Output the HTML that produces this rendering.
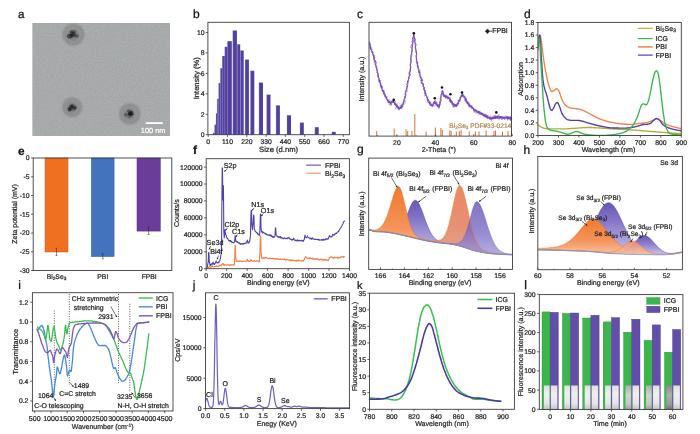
<!DOCTYPE html>
<html lang="en">
<head>
<meta charset="utf-8">
<title>Characterization of FPBI nanoparticles</title>
<style>
html,body{margin:0;padding:0;background:#fff;}
body{width:700px;height:434px;overflow:hidden;}
svg{display:block;font-family:'Liberation Sans', sans-serif;text-rendering:geometricPrecision;}
</style>
</head>
<body>
<svg width="700" height="434" viewBox="0 0 700 434" font-family="Liberation Sans, sans-serif">
<rect x="0" y="0" width="700" height="434" fill="#ffffff"/>
<defs><linearGradient id="gor" x1="0" y1="0" x2="0" y2="1"><stop offset="0" stop-color="#f07a2e"/><stop offset="0.6" stop-color="#f4935a"/><stop offset="1" stop-color="#f9c4a2"/></linearGradient><linearGradient id="gor2" x1="0" y1="0" x2="0" y2="1"><stop offset="0" stop-color="#ea7e54"/><stop offset="0.6" stop-color="#e48868"/><stop offset="1" stop-color="#e09c88"/></linearGradient><linearGradient id="gpu" x1="0" y1="0" x2="0" y2="1"><stop offset="0" stop-color="#6856b6"/><stop offset="0.35" stop-color="#8676c8"/><stop offset="0.7" stop-color="#a99fda"/><stop offset="1" stop-color="#cdc6ec"/></linearGradient><linearGradient id='gpu2' x1='0' y1='0' x2='0' y2='1'><stop offset='0' stop-color='#5e4cb0'/><stop offset='0.6' stop-color='#7a6cc6'/><stop offset='1' stop-color='#a096d8'/></linearGradient><linearGradient id="gor3" x1="0" y1="0" x2="0" y2="1"><stop offset="0" stop-color="#f6935e"/><stop offset="1" stop-color="#f8c0a4"/></linearGradient></defs>
<text x="18" y="18.3" font-size="11.6" text-anchor="start" fill="#111" stroke="#111" stroke-width="0.28">a</text>
<defs><filter id="noise" x="0" y="0" width="100%" height="100%"><feTurbulence type="fractalNoise" baseFrequency="0.9" numOctaves="2" seed="3" result="t"/><feColorMatrix type="matrix" values="0 0 0 0 0.62  0 0 0 0 0.62  0 0 0 0 0.63  0.9 0 0 0 -0.18" /><feComposite operator="in" in2="SourceGraphic"/></filter><radialGradient id="pt"><stop offset="0" stop-color="#505050" stop-opacity="0.7"/><stop offset="0.4" stop-color="#707070" stop-opacity="0.55"/><stop offset="0.75" stop-color="#808080" stop-opacity="0.5"/><stop offset="0.92" stop-color="#888888" stop-opacity="0.4"/><stop offset="1" stop-color="#9a9a9a" stop-opacity="0"/></radialGradient><filter id="blur1" x="-30%" y="-30%" width="160%" height="160%"><feGaussianBlur stdDeviation="0.75"/></filter><filter id="blur2" x="-20%" y="-20%" width="140%" height="140%"><feGaussianBlur stdDeviation="0.9"/></filter></defs>
<rect x="32.4" y="23" width="137.6" height="113" fill="#a1a4a5" stroke="none" stroke-width="0.8"/>
<rect x="32.4" y="23" width="137.6" height="113" fill="#8f8f90" stroke="none" stroke-width="0.8" filter="url(#noise)" opacity="0.55"/>
<g filter="url(#blur2)">
<circle cx="73.4" cy="34.6" r="10.8" fill="#6a6a6a" opacity="0.3"/>
<circle cx="73.4" cy="34.6" r="9.7" fill="none" stroke="#505050" stroke-width="1.3" opacity="0.3"/>
<circle cx="73" cy="34.9" r="5.9" fill="#505050" opacity="0.3"/>
</g>
<g filter="url(#blur1)">
<ellipse cx="74.2" cy="31.8" rx="2.2" ry="1.9" fill="#1a1a1a" opacity="0.36"/>
<ellipse cx="74.5" cy="35.3" rx="2.1" ry="1.7" fill="#1a1a1a" opacity="0.29"/>
<ellipse cx="76.8" cy="36" rx="2.4" ry="2" fill="#1a1a1a" opacity="0.34"/>
<ellipse cx="69.6" cy="36.3" rx="2.8" ry="2.4" fill="#1a1a1a" opacity="0.51"/>
<ellipse cx="71.6" cy="36" rx="2.5" ry="2.1" fill="#1a1a1a" opacity="0.3"/>
<ellipse cx="72.1" cy="34.4" rx="2.8" ry="2.3" fill="#1a1a1a" opacity="0.3"/>
<ellipse cx="71.6" cy="31.7" rx="1.8" ry="1.5" fill="#1a1a1a" opacity="0.52"/>
<ellipse cx="73.2" cy="34.7" rx="2.5" ry="2.1" fill="#1a1a1a" opacity="0.28"/>
<ellipse cx="71.4" cy="34.8" rx="1.7" ry="1.5" fill="#1a1a1a" opacity="0.37"/>
<ellipse cx="73.5" cy="33.6" rx="1.7" ry="1.4" fill="#1a1a1a" opacity="0.47"/>
</g>
<g filter="url(#blur2)">
<circle cx="72.2" cy="107.2" r="9.8" fill="#6a6a6a" opacity="0.3"/>
<circle cx="72.2" cy="107.2" r="8.8" fill="none" stroke="#505050" stroke-width="1.3" opacity="0.3"/>
<circle cx="71.8" cy="107.5" r="5.4" fill="#505050" opacity="0.3"/>
</g>
<g filter="url(#blur1)">
<ellipse cx="69.2" cy="108.3" rx="1.6" ry="1.4" fill="#1a1a1a" opacity="0.37"/>
<ellipse cx="72.5" cy="105.7" rx="2" ry="1.7" fill="#1a1a1a" opacity="0.34"/>
<ellipse cx="75.2" cy="107.7" rx="1.4" ry="1.2" fill="#1a1a1a" opacity="0.51"/>
<ellipse cx="69.6" cy="109.9" rx="1.9" ry="1.5" fill="#1a1a1a" opacity="0.53"/>
<ellipse cx="71.1" cy="107.1" rx="2.3" ry="1.9" fill="#1a1a1a" opacity="0.46"/>
<ellipse cx="71.2" cy="105.9" rx="1.6" ry="1.3" fill="#1a1a1a" opacity="0.45"/>
<ellipse cx="73.8" cy="108.9" rx="2.2" ry="1.8" fill="#1a1a1a" opacity="0.38"/>
<ellipse cx="72.1" cy="106.7" rx="1.8" ry="1.5" fill="#1a1a1a" opacity="0.5"/>
<ellipse cx="70.1" cy="109.1" rx="2.2" ry="1.8" fill="#1a1a1a" opacity="0.53"/>
<ellipse cx="74.4" cy="107.3" rx="2.4" ry="2" fill="#1a1a1a" opacity="0.32"/>
</g>
<g filter="url(#blur2)">
<circle cx="129.8" cy="114.0" r="10.6" fill="#6a6a6a" opacity="0.3"/>
<circle cx="129.8" cy="114.0" r="9.5" fill="none" stroke="#505050" stroke-width="1.3" opacity="0.3"/>
<circle cx="129.4" cy="114.3" r="5.8" fill="#505050" opacity="0.3"/>
</g>
<g filter="url(#blur1)">
<ellipse cx="128.8" cy="111.1" rx="2" ry="1.7" fill="#1a1a1a" opacity="0.43"/>
<ellipse cx="125.9" cy="114.7" rx="1.9" ry="1.6" fill="#1a1a1a" opacity="0.39"/>
<ellipse cx="131.1" cy="114.2" rx="2.4" ry="2" fill="#1a1a1a" opacity="0.53"/>
<ellipse cx="130.6" cy="113.6" rx="2.9" ry="2.4" fill="#1a1a1a" opacity="0.33"/>
<ellipse cx="129.8" cy="113.7" rx="2" ry="1.7" fill="#1a1a1a" opacity="0.3"/>
<ellipse cx="131.5" cy="111.7" rx="1.6" ry="1.3" fill="#1a1a1a" opacity="0.42"/>
<ellipse cx="129.4" cy="116.1" rx="2.2" ry="1.9" fill="#1a1a1a" opacity="0.31"/>
<ellipse cx="130.2" cy="113.4" rx="2.1" ry="1.7" fill="#1a1a1a" opacity="0.3"/>
<ellipse cx="130.2" cy="114.2" rx="1.9" ry="1.6" fill="#1a1a1a" opacity="0.53"/>
<ellipse cx="130.9" cy="113" rx="2.1" ry="1.7" fill="#1a1a1a" opacity="0.46"/>
</g>
<rect x="145.8" y="122.2" width="16.9" height="1.8" fill="#fff" stroke="none" stroke-width="0.8"/>
<text x="153.2" y="132.8" font-size="7.4" text-anchor="middle" fill="#fff" stroke="#fff" stroke-width="0.22">100 nm</text>
<text x="193" y="18.3" font-size="12" text-anchor="start" fill="#111" stroke="#111" stroke-width="0.22">b</text>
<rect x="213.1" y="132.8" width="1.5" height="1.9" fill="#5140a0" stroke="none" stroke-width="0.8"/>
<line x1="213.2" y1="132.8" x2="213.2" y2="134.7" stroke="#8377bd" stroke-width="0.3"/>
<rect x="214.6" y="124.7" width="1.4" height="10" fill="#5140a0" stroke="none" stroke-width="0.8"/>
<line x1="214.8" y1="124.7" x2="214.8" y2="134.7" stroke="#8377bd" stroke-width="0.3"/>
<rect x="216" y="113.4" width="1.2" height="21.3" fill="#5140a0" stroke="none" stroke-width="0.8"/>
<line x1="216.2" y1="113.4" x2="216.2" y2="134.7" stroke="#8377bd" stroke-width="0.3"/>
<rect x="217.2" y="98.9" width="1.5" height="35.8" fill="#5140a0" stroke="none" stroke-width="0.8"/>
<line x1="217.3" y1="98.9" x2="217.3" y2="134.7" stroke="#8377bd" stroke-width="0.3"/>
<rect x="218.7" y="83.1" width="1.7" height="51.6" fill="#5140a0" stroke="none" stroke-width="0.8"/>
<line x1="218.8" y1="83.1" x2="218.8" y2="134.7" stroke="#8377bd" stroke-width="0.3"/>
<rect x="220.4" y="68.3" width="1.9" height="66.4" fill="#5140a0" stroke="none" stroke-width="0.8"/>
<line x1="220.6" y1="68.3" x2="220.6" y2="134.7" stroke="#8377bd" stroke-width="0.3"/>
<rect x="222.3" y="56" width="2.5" height="78.7" fill="#5140a0" stroke="none" stroke-width="0.8"/>
<line x1="222.5" y1="56" x2="222.5" y2="134.7" stroke="#8377bd" stroke-width="0.3"/>
<rect x="224.8" y="46.8" width="2.6" height="87.9" fill="#5140a0" stroke="none" stroke-width="0.8"/>
<line x1="225" y1="46.8" x2="225" y2="134.7" stroke="#8377bd" stroke-width="0.3"/>
<rect x="227.4" y="41.2" width="4.4" height="93.5" fill="#5140a0" stroke="none" stroke-width="0.8"/>
<line x1="227.6" y1="41.2" x2="227.6" y2="134.7" stroke="#8377bd" stroke-width="0.3"/>
<rect x="232.8" y="30.5" width="4.1" height="104.2" fill="#5140a0" stroke="none" stroke-width="0.8"/>
<line x1="233" y1="30.5" x2="233" y2="134.7" stroke="#8377bd" stroke-width="0.3"/>
<rect x="237.2" y="44.3" width="3" height="90.4" fill="#5140a0" stroke="none" stroke-width="0.8"/>
<line x1="237.3" y1="44.3" x2="237.3" y2="134.7" stroke="#8377bd" stroke-width="0.3"/>
<rect x="240.4" y="50.5" width="3.3" height="84.2" fill="#5140a0" stroke="none" stroke-width="0.8"/>
<line x1="240.6" y1="50.5" x2="240.6" y2="134.7" stroke="#8377bd" stroke-width="0.3"/>
<rect x="245.1" y="59.6" width="3.8" height="75.1" fill="#5140a0" stroke="none" stroke-width="0.8"/>
<line x1="245.2" y1="59.6" x2="245.2" y2="134.7" stroke="#8377bd" stroke-width="0.3"/>
<rect x="250.5" y="70.8" width="3.8" height="63.9" fill="#5140a0" stroke="none" stroke-width="0.8"/>
<line x1="250.7" y1="70.8" x2="250.7" y2="134.7" stroke="#8377bd" stroke-width="0.3"/>
<rect x="259" y="82.6" width="4" height="52.1" fill="#5140a0" stroke="none" stroke-width="0.8"/>
<line x1="259.1" y1="82.6" x2="259.1" y2="134.7" stroke="#8377bd" stroke-width="0.3"/>
<rect x="266.7" y="94.6" width="3.8" height="40.1" fill="#5140a0" stroke="none" stroke-width="0.8"/>
<line x1="266.8" y1="94.6" x2="266.8" y2="134.7" stroke="#8377bd" stroke-width="0.3"/>
<rect x="276.1" y="105.4" width="3.8" height="29.3" fill="#5140a0" stroke="none" stroke-width="0.8"/>
<line x1="276.2" y1="105.4" x2="276.2" y2="134.7" stroke="#8377bd" stroke-width="0.3"/>
<rect x="287" y="115.3" width="4" height="19.4" fill="#5140a0" stroke="none" stroke-width="0.8"/>
<line x1="287.1" y1="115.3" x2="287.1" y2="134.7" stroke="#8377bd" stroke-width="0.3"/>
<rect x="300" y="122.6" width="3.8" height="12.1" fill="#5140a0" stroke="none" stroke-width="0.8"/>
<line x1="300.1" y1="122.6" x2="300.1" y2="134.7" stroke="#8377bd" stroke-width="0.3"/>
<rect x="314.9" y="127.2" width="3.8" height="7.5" fill="#5140a0" stroke="none" stroke-width="0.8"/>
<line x1="315" y1="127.2" x2="315" y2="134.7" stroke="#8377bd" stroke-width="0.3"/>
<rect x="331.9" y="131.9" width="3.8" height="2.8" fill="#5140a0" stroke="none" stroke-width="0.8"/>
<line x1="332" y1="131.9" x2="332" y2="134.7" stroke="#8377bd" stroke-width="0.3"/>
<rect x="207.9" y="22.3" width="141.5" height="112.4" fill="none" stroke="#3c3c3c" stroke-width="0.9"/>
<line x1="208.2" y1="134.7" x2="208.2" y2="136.9" stroke="#3c3c3c" stroke-width="0.8"/>
<text x="208.2" y="144.2" font-size="6.8" text-anchor="middle" fill="#1e1e1e" stroke="#1e1e1e" stroke-width="0.22">0</text>
<line x1="227.5" y1="134.7" x2="227.5" y2="136.9" stroke="#3c3c3c" stroke-width="0.8"/>
<text x="227.5" y="144.2" font-size="6.8" text-anchor="middle" fill="#1e1e1e" stroke="#1e1e1e" stroke-width="0.22">110</text>
<line x1="246.8" y1="134.7" x2="246.8" y2="136.9" stroke="#3c3c3c" stroke-width="0.8"/>
<text x="246.8" y="144.2" font-size="6.8" text-anchor="middle" fill="#1e1e1e" stroke="#1e1e1e" stroke-width="0.22">220</text>
<line x1="266.1" y1="134.7" x2="266.1" y2="136.9" stroke="#3c3c3c" stroke-width="0.8"/>
<text x="266.1" y="144.2" font-size="6.8" text-anchor="middle" fill="#1e1e1e" stroke="#1e1e1e" stroke-width="0.22">330</text>
<line x1="285.4" y1="134.7" x2="285.4" y2="136.9" stroke="#3c3c3c" stroke-width="0.8"/>
<text x="285.4" y="144.2" font-size="6.8" text-anchor="middle" fill="#1e1e1e" stroke="#1e1e1e" stroke-width="0.22">440</text>
<line x1="304.7" y1="134.7" x2="304.7" y2="136.9" stroke="#3c3c3c" stroke-width="0.8"/>
<text x="304.7" y="144.2" font-size="6.8" text-anchor="middle" fill="#1e1e1e" stroke="#1e1e1e" stroke-width="0.22">550</text>
<line x1="324" y1="134.7" x2="324" y2="136.9" stroke="#3c3c3c" stroke-width="0.8"/>
<text x="324" y="144.2" font-size="6.8" text-anchor="middle" fill="#1e1e1e" stroke="#1e1e1e" stroke-width="0.22">660</text>
<line x1="343.3" y1="134.7" x2="343.3" y2="136.9" stroke="#3c3c3c" stroke-width="0.8"/>
<text x="343.3" y="144.2" font-size="6.8" text-anchor="middle" fill="#1e1e1e" stroke="#1e1e1e" stroke-width="0.22">770</text>
<line x1="205.7" y1="134.7" x2="207.9" y2="134.7" stroke="#3c3c3c" stroke-width="0.8"/>
<text x="204.6" y="137.1" font-size="6.8" text-anchor="end" fill="#1e1e1e" stroke="#1e1e1e" stroke-width="0.22">0</text>
<line x1="205.7" y1="114.3" x2="207.9" y2="114.3" stroke="#3c3c3c" stroke-width="0.8"/>
<text x="204.6" y="116.7" font-size="6.8" text-anchor="end" fill="#1e1e1e" stroke="#1e1e1e" stroke-width="0.22">2</text>
<line x1="205.7" y1="93.8" x2="207.9" y2="93.8" stroke="#3c3c3c" stroke-width="0.8"/>
<text x="204.6" y="96.2" font-size="6.8" text-anchor="end" fill="#1e1e1e" stroke="#1e1e1e" stroke-width="0.22">4</text>
<line x1="205.7" y1="73.4" x2="207.9" y2="73.4" stroke="#3c3c3c" stroke-width="0.8"/>
<text x="204.6" y="75.8" font-size="6.8" text-anchor="end" fill="#1e1e1e" stroke="#1e1e1e" stroke-width="0.22">6</text>
<line x1="205.7" y1="52.9" x2="207.9" y2="52.9" stroke="#3c3c3c" stroke-width="0.8"/>
<text x="204.6" y="55.3" font-size="6.8" text-anchor="end" fill="#1e1e1e" stroke="#1e1e1e" stroke-width="0.22">8</text>
<line x1="205.7" y1="32.5" x2="207.9" y2="32.5" stroke="#3c3c3c" stroke-width="0.8"/>
<text x="204.6" y="34.9" font-size="6.8" text-anchor="end" fill="#1e1e1e" stroke="#1e1e1e" stroke-width="0.22">10</text>
<text x="199.3" y="78.2" font-size="7.6" text-anchor="middle" fill="#1e1e1e" stroke="#1e1e1e" stroke-width="0.22" transform="rotate(-90 199.3 78.2)">Intensity (%)</text>
<text x="278.6" y="152.3" font-size="7.65" text-anchor="middle" fill="#1e1e1e" stroke="#1e1e1e" stroke-width="0.22">Size (d.nm)</text>
<text x="357" y="18.3" font-size="12" text-anchor="start" fill="#111" stroke="#111" stroke-width="0.22">c</text>
<line x1="376.7" y1="136.1" x2="376.7" y2="131.1" stroke="#dd7840" stroke-width="1.05"/>
<line x1="394.2" y1="136.1" x2="394.2" y2="128.6" stroke="#dd7840" stroke-width="1.05"/>
<line x1="406.1" y1="136.1" x2="406.1" y2="129.3" stroke="#dd7840" stroke-width="1.05"/>
<line x1="407.7" y1="136.1" x2="407.7" y2="131.1" stroke="#dd7840" stroke-width="1.05"/>
<line x1="411.9" y1="136.1" x2="411.9" y2="131.1" stroke="#dd7840" stroke-width="1.05"/>
<line x1="414.8" y1="136.1" x2="414.8" y2="114.1" stroke="#dd7840" stroke-width="1.05"/>
<line x1="426.1" y1="136.1" x2="426.1" y2="131.6" stroke="#dd7840" stroke-width="1.05"/>
<line x1="435.4" y1="136.1" x2="435.4" y2="127.6" stroke="#dd7840" stroke-width="1.05"/>
<line x1="440.9" y1="136.1" x2="440.9" y2="128.1" stroke="#dd7840" stroke-width="1.05"/>
<line x1="442.3" y1="136.1" x2="442.3" y2="130.1" stroke="#dd7840" stroke-width="1.05"/>
<line x1="449.8" y1="136.1" x2="449.8" y2="130.6" stroke="#dd7840" stroke-width="1.05"/>
<line x1="451.1" y1="136.1" x2="451.1" y2="131.1" stroke="#dd7840" stroke-width="1.05"/>
<line x1="456.3" y1="136.1" x2="456.3" y2="131.6" stroke="#dd7840" stroke-width="1.05"/>
<line x1="459.4" y1="136.1" x2="459.4" y2="131.1" stroke="#dd7840" stroke-width="1.05"/>
<line x1="461.1" y1="136.1" x2="461.1" y2="130.1" stroke="#dd7840" stroke-width="1.05"/>
<line x1="469.2" y1="136.1" x2="469.2" y2="131.6" stroke="#dd7840" stroke-width="1.05"/>
<line x1="475.4" y1="136.1" x2="475.4" y2="131.6" stroke="#dd7840" stroke-width="1.05"/>
<line x1="479" y1="136.1" x2="479" y2="131.6" stroke="#dd7840" stroke-width="1.05"/>
<line x1="486.1" y1="136.1" x2="486.1" y2="130.6" stroke="#dd7840" stroke-width="1.05"/>
<line x1="494" y1="136.1" x2="494" y2="131.1" stroke="#dd7840" stroke-width="1.05"/>
<line x1="495.5" y1="136.1" x2="495.5" y2="130.6" stroke="#dd7840" stroke-width="1.05"/>
<line x1="502.5" y1="136.1" x2="502.5" y2="131.6" stroke="#dd7840" stroke-width="1.05"/>
<line x1="508" y1="136.1" x2="508" y2="131.1" stroke="#dd7840" stroke-width="1.05"/>
<line x1="511.5" y1="136.1" x2="511.5" y2="130.6" stroke="#dd7840" stroke-width="1.05"/>
<text x="480.3" y="127.6" font-size="6.6" text-anchor="middle" fill="#b3894e" stroke="#b3894e" stroke-width="0.22">Bi<tspan font-size="70%" dy="1.6">2</tspan><tspan dy="-1.6">&#8203;</tspan>Se<tspan font-size="70%" dy="1.6">3</tspan><tspan dy="-1.6">&#8203;</tspan> PDF#33-0214</text>
<polyline points="369.3,41.7 369.4,43.6 369.4,41.5 370.3,42.6 371,45.5 370,44.6 370.2,46.3 369.3,46.9 370.8,50.2 370.8,50 369.9,48.9 371.6,51.2 372,49.2 371.4,50.5 371.8,52.8 371.7,50.6 372.9,52.5 371.8,51.8 372.7,54.3 374.2,56.9 373.3,54.4 373.8,56.3 373.6,55.4 373.2,55.7 374.1,56.3 374.5,60.5 373.9,62.4 374.9,60.7 375.7,59.9 375.8,62.6 374.4,62.2 374.9,64.6 374.8,64.9 376.6,65.9 376.5,67.4 376.8,66.8 376,68 376,67.3 377,69.9 377.2,69.6 376.8,72.1 377.6,71.9 378.2,74.2 378.1,75.5 377.6,73.9 377.1,75.5 378.4,76.2 378.9,79.2 378.8,81.2 378.9,80.9 379,80.1 380,83.1 379.8,80 380.1,84.5 379.6,82.4 380,80.2 380.7,87.9 380.2,87.1 380.3,84.3 381,86.5 382.2,86.5 381.8,87.5 382.7,86 382,87.5 382.1,89.6 381.6,89.7 382.3,91.5 383.7,90.6 383.3,94 383.7,90.5 383.9,92.2 383.7,89.9 383.8,91.2 384.2,95 384.7,92.5 384.8,94.8 385,94.5 385,93.7 384.7,95 385.2,95.2 385,95.6 386.3,97.6 384.7,97.9 386,96.6 387.8,96.6 386.3,98.5 386.1,98.3 386.9,100.1 387.9,102.6 387.3,100.6 387.9,99.8 387.8,100 387.7,99.5 390.1,99.8 388.4,100 388.3,101.1 388.5,101.4 389.2,103.2 389.4,101.9 389.9,102.4 389.7,101.2 388.9,105.1 390.3,103.7 390,105.3 390.2,104 389.7,104.8 390.5,102.4 390.6,103.6 391.2,106 390.6,100.7 391.7,103.7 391.9,104.2 391.4,102.5 391.9,102.8 391.9,103.4 393.2,100.8 391.3,102.3 392.9,100.6 392.3,101 393.2,101.3 394.2,102.1 393.5,102.7 394.2,103.3 393.8,101 395.7,105.7 395.2,104.9 395.6,104.6 394.3,103.4 394.7,104.1 396.2,105.2 395.6,105.3 395.8,102.8 396.3,106.2 395.6,109.4 397,103.3 396.8,107.3 397.2,106.7 396.7,106.4 397.7,108.6 397.1,105.4 398.3,107.5 398.6,109.4 398.7,107.4 398.7,107.3 399,108.2 397.2,107.6 399.5,110.4 399,107.2 399.4,109.6 399.4,106.8 399,109.4 399.7,108.3 400.6,104.8 401.3,108.1 400.2,106.5 400.3,107.1 401.9,109.4 400.7,105.6 402.7,105.3 401.7,108.3 401.3,106.2 402.6,107.8 403.3,105.8 401.6,103.8 403.6,104.5 402.7,105.8 404,104.9 403,103.2 402.5,102.7 404,101.8 404.4,100.6 405.3,103.3 405.3,100 404.9,97.8 404.6,97.9 404.6,98.7 404.9,97.9 404.8,96 405.3,94.3 404.2,94.3 406,91 406.1,90.4 407.9,92.1 407,89.2 406.4,89.2 407.3,89.2 406.4,87.3 407,85.3 406.4,87.1 408.6,84.1 408.3,81.7 407.5,82.2 408.3,80.8 409.1,78.2 409.1,78.4 409.2,77.1 408.7,73.6 409,74.9 409.7,73.5 410.3,71.9 409.5,68.9 409.5,68.9 411.1,67.2 410.1,64.9 411.5,60.7 411.2,60.4 411.8,55.6 412.5,54.7 412,54.4 412.3,49.6 411.5,47.7 411.8,47.8 412.8,44.1 413.6,42.3 413.7,41 414.5,40.2 413.5,34.2 413.6,34.8 414.3,33.8 413.9,33.6 414,34.4 413.7,35.5 415.1,38.4 414.1,38.5 415.2,41.6 414.2,43.8 416,44.1 414.9,47.1 416.2,51.2 415,51.8 415.9,52.8 417,55.8 416,56.7 416.8,60.3 416.7,63 415.8,62.2 417.5,64.1 417.8,66.9 417.1,65.7 418.3,67.4 417.7,66.6 417.8,67.6 418.6,68.7 418.4,72.9 420.4,70.2 418.2,70.8 419.8,71.6 420.2,72.9 418.6,74.7 419,74.8 420.5,78 420.1,76.3 420.8,78.6 421.5,77.8 420.8,79 420.6,77 419.8,79.5 421.8,80.3 421.3,80.8 422.2,79 422.4,83.7 421.6,82.8 423.7,83.4 423.5,84.4 423.6,85.1 422.6,86.7 423.2,85.2 423.3,86.4 423.6,88.7 423.4,89.3 424.5,89.4 424.6,89.9 424.9,90.3 424.6,92 425.9,94.4 425.4,92.1 423.9,96.1 425.3,95.8 425.9,94.7 426.7,96.8 426.1,94.4 426.4,94.6 426.3,95.7 427.3,97.3 426.9,97.8 427,98 427.1,99.3 428.1,96.8 427.6,100.6 427.2,98.5 428.7,99.8 428.1,100.5 429,99.9 429.2,100 429.9,100.8 430,102.5 429.2,103.6 429.7,103.8 429.2,102.1 431.2,102.6 430.7,102.7 431.4,104.7 430.6,101.7 429.8,106.1 432.1,104 431.5,103.8 431.7,105.5 431.9,106.5 432.4,105.7 432.6,106.8 431.5,105.6 433.3,107.1 432.5,107.1 432.8,105.1 434.3,106.7 434,104.5 433.5,103.9 432.8,102.1 434.2,102.4 434.6,103.5 434.4,100.5 433.9,103.1 434.4,102.7 434.3,102.8 435.4,99.8 436,102.8 436.3,104.1 435.5,102.6 436.3,104 436.7,101.1 436.2,105.3 436.6,103.8 438.2,106 437.3,102.7 437.9,106.3 437.3,105.3 437.8,106.9 436.9,104.8 438.1,105.4 439.1,109.2 439.8,105.2 439.5,105.3 439.4,105.7 439.2,104.4 439,106.9 439.5,107.1 440.2,103.5 439.5,101.6 440.8,104.7 439.8,103.9 439.5,102.6 440.2,101.5 440,97.1 440.4,96.4 442.1,93.3 441.5,91.6 442,93.2 442.7,90.2 443,94 442.1,91.5 443.4,91.2 443.1,93.8 443.1,95.9 443.5,94.9 442.6,93.3 443.2,95.7 443.8,97.2 444.4,95 444.1,94.8 444.4,97.2 445.3,96.2 445.7,94.7 445.6,95.7 446.1,95.3 445.3,96.8 445.5,96.7 446.1,98.1 445.9,97.7 446,94.8 447.5,97.5 446.6,98.3 446.3,97.8 447.4,98.7 448.4,96.8 447.6,96.4 448.5,99 447.7,96.5 447.9,95.2 447.9,99.5 448.5,97.4 449.9,98.2 448.3,97 450.2,97.3 448.8,97.8 449.4,99.1 450.3,100.3 450.4,97.2 450.4,101.5 449.4,99.2 450.8,99.7 450.2,102.2 452.5,101.5 451.1,99.9 451.5,104.5 450.9,101.3 451.5,103 451.3,103.1 452.8,104.9 452.3,102.7 453,104.9 452.4,102.8 452.7,105.4 454,103.2 452.9,103.9 452.6,107.1 454.1,105.2 453.4,105.1 454,108 455,105.7 454.2,104.2 455.4,106.3 454.7,103.9 456.2,107 456.3,107.2 455.4,104.9 455.8,104.9 455.6,106 456.4,105.8 457.2,104.5 455.9,106.5 457.5,102.9 456.3,104.8 456.8,104.5 456.5,104.3 459,104.6 458,102.2 458.3,104.1 457.9,102.7 459.2,101.6 457.5,100.2 459,100 460.5,101.4 459.1,99.1 459.6,99.8 460.2,100.5 459.5,99.9 460.2,100.1 461,97.2 460.7,95.8 461,98.2 460.8,96.8 461.4,97.5 461.4,95.7 462.5,97 462.3,96.3 461.9,96 460.8,95.7 462.9,95.6 463.1,95.5 462.3,95.6 461.8,96.9 462.6,95.2 464,98.4 463,96.3 463.6,98.1 464.2,97 465,97.1 464.5,100.4 464.6,97.6 464.5,96.7 466.1,97.8 465.9,98.6 465.4,102.2 464.9,100 465.4,101.3 466.5,99.2 465.9,101.3 467,102.1 466.9,103.9 467.1,101 467.5,103.1 467.6,103 467,101.6 467.5,103.2 469.3,103.2 467.4,100.8 468.1,104.8 469.2,105 468.7,103.9 468.5,103 468.4,106.9 469.7,105.5 470.2,106.7 470.6,107.4 470,105.1 470.8,107 469.8,105.8 470.7,106.3 470.4,106.4 471.1,106.7 471.7,108.3 472,107.2 471,107.1 472.6,107.1 471.7,108.1 471.6,106.6 472.3,107.3 471.8,108.1 472.8,107.6 473.2,108.4 473.1,107.9 473.8,111.5 473.5,110.8 473.9,109.8 473.2,109.3 474.3,112.4 474,110.1 474.4,109.8 474.8,110.5 475.2,110.6 474.3,112.2 474.5,110.5 475.5,113.4 476.2,109.7 476.3,111.9 476.8,109.8 477.3,113.6 477,111 476.9,111.5 476.5,112.9 476.8,113.4 477.2,110.5 477.9,111.6 478.1,110.4 478.1,112.5 478.3,112.3 478.9,112.1 478.9,111.8 479.1,112.3 479.3,111.9 479,113.7 478.9,115.1 480.1,110.7 480.2,113.1 480,112.9 480.1,114.1 482,112.4 480.3,113.5 480.9,112.5 481.4,114.8 480.7,114.1 481.7,113.9 482.9,114.7 482.6,114 482.6,112.4 482.8,115.3 482.7,115 483.4,114.5 482.9,116.1 483,116.5 483.5,113.6 484.2,114.1 484,117.2 484.5,117.2 483,114.5 485.2,114 486.1,114.8 485.7,115.1 484.9,113.8 484.8,116 485.6,114.4 485.1,114.6 486.3,117.5 485.8,115.5 486.9,116.4 487.3,117.4 485.5,117.7 487.1,116.3 486.7,116.9 486.5,115.9 487.2,119.3 487.6,117.9 488.6,115.7 487.2,117.3 489,118.3 489.8,118 489.1,119.9 489.3,119.4 489.1,117 488.7,117.7 489.9,116.2 490,118.3 490.4,118.2 491.7,121.6 490.8,118.3 490.8,115.5 491.7,117.4 490.2,118.5 490.5,116.8 491.2,117.3 491.2,118 492.2,118.9 491.8,118.3 493.3,117.3 493.3,119.5 493.1,117.7 492.6,117.7 493.4,116.5 493.7,117.2 492.8,119 493.9,116 494.3,117.9 494.2,118.9 495.2,117.4 495.2,118.1 494.2,116.2 494.9,119.3 494.6,118.9 495.6,117.6 495,114.9 496.2,115.6 496.1,118.1 496.7,118.9 496.2,117 495.6,118.1 497.8,115.7 496.8,116.3 497.9,116.7 497.6,117.3 497.9,114.9 498.8,118.3 498.1,118.9 499,115.8 497.4,115.6 499.1,117.9 498.6,116.6 498.9,114.4 499.2,118.5 499.6,117.7 500.6,116.9 498.7,120.2 500,117.7 499.7,116.5 501.1,117.7 500.3,116.2 501.1,116.6 500.7,118.1 501.6,116.8 502,117 501.4,119.7 501.8,118.7 501.2,118.6 502.4,118.3 502.9,118.2 502.3,119.5 503.5,117.6 501.8,120 502.1,116.4 502.6,117.3 503.3,115.8 503.9,117.2 504,118.3 504.2,119.5 504.9,116.8 504.4,117.7 504.1,117.2 504.3,116.7 506.5,116.2 504.1,117.8 505.6,115.5 506.8,117.9 506.4,117.8 505.8,116.9 506.5,116.5 507.2,116 507.6,120.3 506.6,116.1 507.8,119.9 507.7,118.6 508.4,117.4 508.8,116.4 507.9,119.3 507.5,120.2 508.8,116.7 509.8,117.6 509.4,119.3 509.3,118.4 510.8,120.6 508.9,117.3 510.3,118.7 509.6,116.4 510.2,120.8 510.4,117.1 511.5,115.2 510.2,117.9 510.7,117.9 510.2,120.6 511.7,117.7 511.3,118.2 511.7,119" fill="none" stroke="#a88ad4" stroke-width="0.6" stroke-linejoin="round" stroke-linecap="round" opacity="0.75"/>
<polyline points="369.9,43.3 369.4,44 370.1,44.1 370,44.1 369.9,45 370.3,45.1 370.4,46.5 370.2,48.2 371.4,47.3 370.4,47.8 371.8,49.3 371.9,49.9 371.6,50.3 371.5,50.2 372,51.5 372.5,52.8 372.8,51.8 372.8,53.2 373.3,52.6 372.8,53.7 373.4,53.9 372.8,55.8 374,55.6 374,57.5 373.9,58 374.8,58.4 374.8,57.3 373.4,59.6 374.9,60.8 374.5,61.8 375.8,61.4 376.6,63.2 375.5,63.8 376,64.9 376,67.4 376.5,66.9 376.8,68.5 377.3,70.3 376.5,70 377.9,71.3 376.9,72.4 377.7,73.2 378.3,73 378.3,75 377.8,76.8 378.1,75.3 378.4,78.1 378.8,78.3 379.5,78.5 378.6,81.4 379.6,81.1 379.9,80.3 380.1,82 380.2,83 380.9,83.1 380.6,84.4 381,84.4 381.1,85.6 381.8,86.8 380.4,85.7 382,87 381.5,87 381.7,88 381.6,87.5 381.4,88.5 382.3,89.3 382.4,90.7 383.1,91.4 382.4,89.9 383.9,90.8 383.6,92.4 383.6,90.8 383.6,92.4 383.7,93.2 383.8,94.7 384.3,94.7 384.7,94.3 384.8,94.7 384.5,95.2 385.2,97.1 385.1,95.9 385.8,96.4 386.8,97.3 386.4,97.3 386.2,97.6 385.8,97.2 386.1,98.4 386.2,98.4 387.5,100.1 387,100 387.6,99.8 387.5,100.7 388,100.3 388.8,101.8 388.1,101.3 388.4,102.1 388.4,100.9 389.4,102.5 388.7,101.1 388.9,101 389,102.6 389.2,102.2 390.2,103.1 391.4,104.8 390,102.3 391,102.4 390.9,102.9 390.5,103 391.1,102.3 391.3,102.2 391.3,102.7 392.7,102.4 391.2,101.1 392.4,101.7 392.6,101.8 392.4,100.9 392.9,101.9 393.5,101.1 393.3,102.7 393.7,102.3 394,102.4 393,102 394.8,102.6 395.3,101.3 394.9,102.2 395.2,103.7 394.3,101.9 395.1,104.6 394.9,102.8 395.3,105.1 396.2,104.1 395.6,105.6 396.1,105.3 395.5,104.3 396.5,106.7 396.8,107.1 396.6,106.2 396.8,106.3 398.2,106.6 397,106.2 397.3,108.1 397.6,107 398.7,107.7 399.3,107.3 398.7,107.6 398.5,107.2 398.8,109.3 399.7,108.3 399,109.3 400.3,108.5 400.4,107.9 400,108.1 400.5,107.8 400.8,108.1 401.3,107.6 400.3,107.4 401.6,106.3 401.1,106.4 401.1,108.1 401.7,105.9 401.7,105.2 401.6,106 401.5,106.5 402,103.8 403.3,104.4 403.7,103.7 403.4,102.3 403.8,103.7 403.2,102.6 403.6,102 404,100.7 403.6,101 403.8,99.6 404.5,99.2 404.6,97.6 404.4,96.8 405.3,98.1 405.2,95.7 406,95.4 405.7,94.2 405.8,92.8 406.2,91.7 406.3,91.5 406.2,89.6 406.6,88.6 407.3,87.6 407.4,87.4 407.9,85.9 406.8,84.5 407.6,82.7 407.8,81.1 408.2,82 408.2,81 408.3,79.2 409.1,78.8 409.1,77.9 408.7,76.9 410,75.8 410,73.5 409.5,73.7 410.4,70.1 409.9,70.1 410.9,67.7 410.5,65.5 410.5,63.7 410.9,60.8 410.9,56.3 411.5,53.6 411.7,53.3 411.9,49.7 411.8,48.3 410.6,47.1 412.5,43.3 411.8,41 413,40.9 413.6,38.9 413.4,37 413.3,35.9 413.6,34.5 413.8,33.8 413.8,35.4 414,35.8 414.1,36.7 415.2,40 414.9,41.4 415.5,43.6 415.2,44.3 415.5,46.4 415.6,48.3 416.1,50.7 416.5,53.8 416.4,55.2 416.2,58.2 416.4,60.2 417.7,63.4 417,62.1 417.2,65.1 418.2,65.3 418.2,66.3 418.2,66 418,67.6 419.4,69.2 418.7,69.3 419,70.1 418.9,70.5 418.5,72.5 418.8,72.3 419.8,71.3 420,73.3 419.9,73 419.7,72.7 419.8,75.6 420.5,77.8 420.2,77.5 421.4,77.2 421.7,78.2 422.7,80.5 422,80.5 421.6,81.1 421.6,81.8 420.7,82.6 422.2,83.9 422.6,84.4 423.3,84.9 423.3,84.6 423.5,86.6 423.6,86.3 424,88.5 424.5,87.3 423.6,89 424.1,89.8 423.9,89.5 425.4,92.7 425.5,93.3 425.4,92.5 424.8,94.1 425.6,94.4 425.6,92.6 425.9,95.5 426,95.8 426.6,96.4 426.3,96 427.1,97.1 427,97.7 427,99.2 427.3,99 427.3,99.1 428.1,100.8 427.8,99.5 428.3,100 428.2,99.2 427.9,102.3 429.2,102.2 428.5,102.5 429.5,102.7 429.6,102.6 428.8,103 429.4,102.9 429.8,103.2 429.8,103.7 429.9,105.1 430.9,104.6 430.7,104.3 431.2,104 431,104.2 431.6,106.1 431.3,105.4 431.8,105.2 432.3,105 432.3,104.5 432.2,105.4 432.2,106.2 432.9,105.1 433.2,105 433.1,104.6 433.1,104.4 433.9,102.5 435,103.1 433.9,102.1 434.4,103.2 434.7,101.6 433.5,102.7 434.9,103.5 434.8,102.2 435.9,102.2 435.4,103.1 435.4,103.2 435.8,102.8 436.2,104.2 436.1,105.8 436.5,104.2 436.1,104.5 436.8,104 437.5,105.4 438.2,104.4 437.9,104.8 437.9,106.9 438.5,105.3 438.6,107.1 439.1,107.5 439,106.5 438.7,106.6 439.1,107.6 439.3,105.6 439.5,104.9 439.7,103.8 439.4,104.4 439,105 439.9,103.9 439.5,101.8 440.6,100.8 440.8,99.6 440.3,98.5 441.5,96.4 441.8,95.3 441.7,93.7 442.6,91.7 442.9,91 441.7,91.2 442.9,91.4 442.8,92.4 443,94.2 443.5,94 442.9,94.3 443.2,93.5 443.3,95.6 443.5,93.9 444,94.5 443.6,96.5 444,96.5 444.9,95.9 444.9,94.8 445.3,95.9 444.4,95.8 445.1,96.9 445.5,98.3 445.9,96.8 445.8,96.1 446.7,95.9 446.5,97 446.7,97 446.9,96.3 447.4,97.5 447.1,96.6 448,98.5 447.9,98.6 448,98.8 448.2,97.7 448.6,98.6 449,98.3 449.2,98.3 449.1,98.5 449.6,98 449.4,98.1 450.1,100.2 449.8,99.7 449.1,100.3 450.8,101.3 450.4,99.4 450.1,100.4 450.7,101.5 450.6,101.9 452.2,101.6 451.6,102.9 450.9,102.5 452.1,101.7 451.8,102.1 453.1,103.8 452,103.7 451.6,102 452.9,104.8 452.9,104.5 453.1,105.3 452.5,104.1 453.9,104.4 454.6,103.9 453.2,107 454.8,104.9 454.2,106.5 455.7,104.8 455.1,105.5 455,104.1 455.8,105.2 455.7,106.4 455.4,104.7 456.2,106.6 455.9,106 455.5,105 457.4,105.4 456.6,105.4 456.6,105.5 457.3,104.9 456.6,104.3 456.9,104.4 457.5,103.4 457.7,102.8 458.2,103.3 458.9,103.6 458.3,101.3 459,102 459.2,101 458.7,100.2 459.5,101 459.2,99.3 460.3,100.3 460.2,98 460.2,98.4 459.8,97.4 460.6,96.6 460.5,97.3 461.3,96.3 461.2,96.5 461,95.7 462,94.5 462.1,95.1 461.8,95.1 462.7,95.8 462.3,94.3 462.5,95.1 462.9,94 462.7,96.1 463,95 463.4,94.7 464.3,96.4 464.5,97.7 463.9,95.9 465,96.6 464.5,97.2 464.8,97.1 465.3,98.7 465.2,98 466.4,98.5 465.6,99.9 465.2,99.1 466.5,100.5 465.9,99.7 466.2,99.9 465.2,99.8 467.2,103.1 467.3,101.7 467.5,102.5 467.8,102.6 468.3,103.1 467.7,103.3 468.4,105 467.8,102.9 468.2,102.8 469,103.5 468.9,103.4 468.4,105.3 469.3,105.6 469.3,104.4 469.2,104.2 470,105.3 469.8,106.9 469.5,103.7 469.9,106.6 471.4,105.5 470.1,107.4 471.1,105.8 471.5,106.7 471.7,105.9 471.1,106.5 471.7,108.5 472.1,108.3 472.6,107.5 472.1,107.3 472.1,106.6 473.3,108 473.5,108.5 473.4,108.6 473.2,108.8 473.8,108.1 473.9,109.2 474.4,109.4 473.7,110.6 474.5,111.2 474.6,109.8 474.4,109.4 475.2,110.2 475.3,109.9 475.3,109.9 475.9,110.6 475.3,110 476.1,111.5 476.5,111 476.6,111.5 477.2,111.3 476.4,111 476.4,110.9 477.4,111.6 477.7,111.5 478.7,112.2 478.2,112.2 477.7,111.2 478.7,112.5 478.2,111.5 478.1,112.1 480.1,112.5 479.3,111.2 479.7,113 479.8,113.2 480.6,113.1 480.1,113 480.7,113.1 479.9,112.7 480,113.4 481.4,113.3 481.7,113.9 481.4,112.9 481.5,114.2 481.7,114.2 481.5,114.1 482.7,114 482.5,114.9 482.7,113.2 482.8,115 483.3,114.9 483.3,115 483.6,115.2 482.9,114.5 483.9,114.9 484.8,115.7 483.8,115.7 484.2,115.6 484.9,114.3 485.1,116.1 485.2,116.7 484.3,116.7 485.5,116.2 485,114.8 485.3,116.9 486.1,116.1 486,114.3 486.7,116.8 487.9,115.4 487.1,115.6 487.2,116.2 486.7,117.9 487,116.6 487,117.2 487.5,118.5 487.4,118.4 487.8,117.2 488.2,117.1 488.1,116.4 488.1,117 488.3,117.9 489.4,118 489.4,117.9 490,118.7 490.2,117.3 489.8,118 490.5,118.7 489.7,118.7 491.6,119.1 491.3,118.6 490.9,118.1 490.7,118.7 491.6,117.6 490.8,117.2 491.5,119 492.3,118.5 492.2,118.7 492.2,117.1 493.1,118.1 492.4,117.9 493.2,117.6 493,116.5 493.1,117.9 493.9,118.8 493.4,118.3 494.9,117.5 494,117.8 495.4,118.4 494.2,115.4 495.1,117.5 494.5,117.9 494.7,117.9 495.6,118.5 496,117.9 495.3,117.1 496.6,116.9 495.9,117.2 496.6,116.1 496.9,116.5 497.2,117.3 496.3,118.2 498,116.6 497.8,116.9 497.5,117.2 497.5,118.3 497.4,117.3 497.7,118.5 498.8,116.6 498.6,117.3 498.4,117.3 498.9,118.1 500.1,118.3 499.4,116.3 499.5,116.8 500.6,117.8 500.4,117 500.4,116.3 500.3,118.4 500.1,117.9 500.5,118 501,117.2 501.3,118.4 501.8,117.4 502.1,118.5 502.1,116.9 502.3,116.9 502,117.8 501.7,117 502.6,118.2 502.6,117.8 502.9,116.9 503.3,117.7 503.1,117.4 503.3,118.4 504,117.1 504.3,117.3 504.2,118.6 504.9,119.5 504.8,119.3 504.6,117.8 505.3,117.9 506.3,119 505.4,117.6 506.4,117 506.7,117.9 507,118.1 506.1,117.1 507.6,116.5 507,116.7 507,118.4 507.2,117.2 507.8,117.7 507.7,118 507.8,118.4 508.7,117.6 508,118.3 508.1,117.2 509.1,117.7 509.3,117.1 509.6,118.9 508.9,118 510,117.4 510,117.7 510.8,117.9 509.6,118.6 510.5,116.8 510.5,117.3 510.1,117.8 510.7,120.2 511.7,118.9 511.2,118.1 511.3,118.8 511.7,119.8" fill="none" stroke="#7d52b8" stroke-width="0.8" stroke-linejoin="round" stroke-linecap="round" opacity="0.9"/>
<polyline points="369.5,43.2 369.7,43.6 369.4,44.9 369.8,45.1 370.3,45.7 370,45.7 370.2,47.4 370.9,47.8 371.3,47.9 370.7,48.6 370.5,48 371,49.9 371.3,50.2 371.8,51.1 372.2,51.9 372.2,52.1 372.3,52.1 372.7,53.7 372.6,53.8 373.1,54.6 373.1,55.1 374.3,55.8 373.9,55.6 373.6,57.8 373.8,58 374.2,59.1 374,60.2 374.5,60 374.7,60 375.4,61.3 375.2,62.1 375.3,63.3 375.3,64.6 375.6,64.6 376.1,66.7 376.3,66.9 376.9,68.7 376.6,69.5 377.3,70.4 377.2,71.4 377.4,72 377,72.9 377.4,73.3 378.2,74.9 378.6,76.6 378.4,77.5 378.8,78 378.7,78.5 378.9,78.7 379,80.4 379.7,80.5 379.7,81.2 379.7,81.8 379.9,82.6 380.4,83 380.5,83.8 380.4,84 381.3,84.9 381.1,86.7 381.2,86.2 381.9,86.7 382,87.6 381.8,88.2 382.2,87.9 381.9,88.9 382.3,89.9 382,90.1 383.2,90.5 382.5,91.6 383.5,91.1 383.2,91.9 383.4,92.1 383.8,93.5 384.2,92.4 384.5,93.4 385,93.9 384.8,94.9 385.2,95.3 384.9,96.1 385.5,95.1 385.6,96.6 385.6,96.5 385.9,96.7 386.1,97.6 386.4,97.3 386.7,97.2 386.6,98.3 386.7,98.1 387.4,98.8 386.8,99.6 387.4,100 388.2,100.9 387.2,100.5 388,100.3 388.6,100.9 388.1,101.2 389.6,101.4 388.2,102.4 389.6,102.2 389.9,101.8 389.9,103.1 389.7,102.9 390.1,103.2 389.9,103 390.7,103.2 390.3,102.9 390.7,103.3 391.3,102.8 390.9,102.7 391.3,102.5 391.7,101.5 391.4,102 392.4,101.8 392.4,101.9 392,101.1 392.6,102.4 392.6,101.8 392.9,101.3 393.3,101.2 393.3,102 394,102.3 393.7,102.2 394.4,102.7 394.3,102.6 394.8,103.4 394.5,103 394.8,103.6 394.8,104.4 395.5,105.4 395.8,104 396.4,104.6 396.3,104.6 396.2,105.6 396.3,105 396.7,105.5 396.7,106 397.4,105.8 397.4,106.1 397.1,106.5 397.4,106.1 398.2,106.6 398.1,107.3 398.1,107.8 398.7,107.8 398.5,107.3 398.7,108 398.8,108.7 398.6,108.7 399.7,108.4 399.2,108.1 399.6,108.8 399.8,108.1 400.4,107.7 400.4,107.7 400.6,108.5 400.3,107.7 401,107.9 400.8,106.9 401.5,107.2 401.7,106.1 401.8,106 402.7,106.8 402.4,105.7 402.6,104.8 402.7,104.6 402.8,104.3 403.4,104.2 403.6,102.9 403.1,101.8 404,101.9 404,101.4 404.4,100.7 404.4,100.6 404.1,99.4 404.3,98.9 405.4,97.3 405.2,97.4 404.9,97.1 405.6,95.6 405.6,94.3 405.4,93.3 405.4,92.9 405.8,90.6 406.6,89.8 406.7,88.9 406.9,87.9 407.2,86.2 407.5,85.4 406.9,84.1 407.7,83.2 407.7,82.1 407.8,80.7 408.2,80.3 408.5,79.7 408.7,77.9 408.5,77.2 409,76.5 410,74.6 409.3,73.9 409.3,72 410.1,71.6 410.4,70.4 410.5,68.2 410.3,64.7 411.1,62.5 410.8,59.6 410.9,57.3 411.2,55.7 411.6,52.1 412.1,51 412.2,48.3 412.2,47 412.7,44.7 412.7,42.4 413.1,40.9 412.6,39.2 412.8,37.2 413.7,36.1 413.3,34.9 413.8,34.1 414.1,36 414.1,36.9 414.4,38 415.1,39.7 414.1,41.9 415.4,43.1 416,44.7 415.5,46.8 415.7,49.6 416.1,50.7 416.7,54.2 416,55.6 416.6,57.4 416.7,60.5 417.1,61.8 417.2,62.7 417.5,64.2 417.4,65.8 417.8,66.9 417.8,67 418,68.1 418.3,69 418.5,69.1 418.4,70.2 419.4,70.8 419.1,71.3 419,72.1 419.9,73.1 419.6,73.8 420.1,74.3 420.2,75.1 420.5,76.5 420.7,76.8 420.6,77.9 421,78.7 421.8,79.2 420.8,80.6 421.6,80 422,81.4 421.7,81.7 421.8,83.4 423.1,84 422.5,83.1 423.5,84.3 423.2,85.7 423.3,86.5 423.6,87.2 423.9,87.6 424.2,88.5 424.2,89.4 424.3,89.8 424.5,91.1 425.1,90.3 425.1,92.4 424.8,92.4 425.1,93.9 425.6,94 425.5,94.3 425.8,95.4 425.8,95.4 426.2,95.9 426.7,96.1 427,97.3 426.9,98 427.8,98.7 427.3,98.6 428.5,99.6 428.1,99.6 428.1,99.9 428,100.6 427.5,101.2 428.5,100.9 428.8,101.3 429.6,101.7 428.8,102.2 430,102.1 429.5,103.3 430,102.9 429.2,103.6 430.2,103.3 430.3,104.1 430.8,104.3 430.8,104.1 430.7,105.4 431.5,104.8 431.6,105.6 431.8,105.4 432.1,104.9 432.4,105.1 432.2,105.6 432,105.5 432.2,105.5 433.3,105.3 433.3,104.4 433.3,104.7 433.3,103.3 433.7,104 433.9,103 434,102.5 434.1,102.4 435.1,102.4 434.8,101.6 434.7,101.5 434.7,102 435.1,101.8 435.7,102.5 435.9,104 435.8,103.1 436.1,104.2 436.2,103.5 436.2,104.5 437.1,104.5 437,104.9 437.9,105.4 437.1,106.2 437.5,105.7 438,105.9 437.9,105.6 437.7,106.5 438.1,106.2 438.6,106.7 438.9,106.2 438.9,106.8 439.5,104.8 439.7,105.2 439.7,105.3 439.8,104.2 439.9,103.4 440.4,103.1 440.7,101.9 440.6,101.5 440.9,101.1 440.9,98.8 440.8,96.1 441.1,94.7 441.9,93.3 442,92.4 442.5,90.7 442.3,90.8 442.7,91.8 443,92.4 443.1,92.6 442.9,93 443.2,93.5 443.5,94.5 443.4,94.3 444,95.8 444.4,95.4 444.1,96 445.1,96.8 444.6,96.6 444.8,95.6 445,96.6 445.1,96.9 445.6,96.1 445.7,96.1 446.4,96.6 446.3,96 446.5,97.5 446.5,95.9 446.3,96.6 446.9,97.1 446.9,97.3 447.6,97.6 447.5,97.8 448.2,97.7 448.2,98.4 448.4,97.1 448.4,98.2 448.6,98.1 449,98.6 449.2,98.9 449,98.6 449.5,99 450.4,99.9 449.8,100 449.9,99.9 450,101.4 450,101.8 451,100.4 450.8,101.5 451.1,102.7 451.8,102.2 452.2,102.2 451.4,102.3 452.1,102.4 452.2,102.8 452.4,102.9 452.6,103.7 452.6,103.4 453.3,103.6 453.2,103.4 453.4,104.2 453.8,104 453.9,104.5 454,105.2 454.2,105.1 454.8,105.3 454.6,105.3 454.7,105.3 454.6,105.3 455,105.3 455,105.9 455.5,105.1 455.8,106.3 455.3,105.7 456.1,105.4 456.5,105.6 456.6,105.5 456.4,105.8 457.3,105.2 456.9,105.8 457,104.7 457.2,103.6 457.7,103.9 458.2,102.9 458.5,103.3 458.4,103.4 458.2,102.8 458.6,101.4 458.7,101.2 459.1,101.7 458.8,100.5 459.6,99.7 460,99.6 459.9,99.7 460.3,98.6 460.1,97.7 460.2,97.4 460.6,97.1 461.3,96.2 461.5,95.6 461.3,95.7 462,95 461.7,95.2 462.5,95.1 462.4,96.1 462.3,94.7 462.9,95.1 462.6,95.3 462.8,95.8 462.8,96.3 463.5,95.9 463.6,96.1 463.8,96.1 463.9,96.7 464.7,97.7 464.3,97.8 464.5,97.6 465.3,98.2 465.5,98.7 465.4,99.3 465,99.1 465.5,99.6 466.1,99.3 466.1,100 466.8,101.6 466.1,100.2 466.9,101.4 466.7,102.1 467.5,102.1 467.3,102.3 467.8,102.9 467.5,103.2 467.5,103.5 467.8,102.9 468.2,104 468.2,103.9 469.1,104.2 469.4,104.8 469.2,105.2 469.1,105.6 469.5,105.1 469.6,106 470.4,106.3 470.3,106.5 470.5,106.8 470.5,106.3 470.2,106.4 470.8,107.1 470.9,106.3 471.5,107.2 471.6,107 471.6,107.3 471.9,106.8 472.7,107.4 472.1,108 472.4,108.6 472.8,108.8 472.8,108.5 473.1,108.6 473.6,108.5 474.2,109.2 473.3,109.1 474.1,109.7 474.3,110.3 474.4,109.7 474.6,109.2 474.8,109.7 475.4,109.6 475.1,109.8 475.4,111.1 475.7,110.8 475.9,110.2 476,111.3 476.6,111.7 476.5,111.1 476.8,111.1 476.9,111.4 476.8,111.8 477.1,112.1 477.2,112.5 477.8,112.6 477.7,112.7 477.8,112.9 478.4,112.7 478.7,111.8 478.2,112.6 479.5,112.9 479.2,112.7 479.3,113.4 479.9,112.9 479.8,112.8 479.8,113.9 480.8,113.7 480.1,113.6 480.6,114 481,114.2 480.7,114 481.2,112.8 481.5,113.7 482.3,113.9 481.5,113.8 482,114.4 482.4,114.9 482.4,114.3 482.3,114.1 483,115.6 483.1,114.6 483.4,114.4 483.8,115.1 484,115.3 484,114.9 484.1,115.7 483.9,115.2 484.4,115.1 484.7,115.7 484.8,116.1 485.1,115.6 485,116.1 485.9,116 486.3,117.4 485.8,115.9 486.2,117 486.2,116.4 486.9,116.5 486.8,117 486.9,117.1 487,117.4 487.4,117.1 487.2,116.7 487.9,116.9 487.7,117.4 488.3,117.5 488.4,118 488.9,117.6 488.7,118 489.3,118.3 488.9,117.8 489.5,117.1 489.5,117.3 489.8,117.3 490,118.7 490.5,117.7 489.8,118.7 490.7,118.5 490.3,119.1 491.4,118.8 490.6,118.4 491.1,118.4 491.1,118.5 492.3,118.6 491.6,118.3 492.2,118.5 492.3,119.2 492.1,117.7 492.7,118.5 493.2,117.9 493.2,118.3 493.7,118.6 493.5,118.1 493.8,118.4 493.9,117.2 494.4,118.3 495,117.5 494.8,117.9 494.9,117.6 494.9,116.3 495,117 495.9,117.3 495.3,117.7 495.6,117 496.1,116.8 496.2,115.9 497.1,117.2 496,117.3 497,116.6 497.3,116.6 497,116 497.3,117.3 497.9,118.3 498.4,117.5 497.9,117.9 497.9,117.6 498.8,117 499.2,118 498.8,116.9 498.5,117.4 499.8,117.6 499.5,117.9 500.1,117.7 500,117.7 500.1,117.2 500.2,117 501,117.6 501.2,117.2 500.3,117 500.9,117 501.9,117.4 501.5,116.7 501.4,117 502,116.9 502.2,117.7 502.4,117.8 502.5,118.5 502.7,116.9 502.9,117.3 503.3,118 503.2,117.5 503.6,117.5 503.8,118.4 504.4,117.5 504.4,117.1 504.4,117.1 504.8,117.8 505,117.8 505.4,117.1 505.4,117.3 506,118 506.1,118 505.9,117.5 506,118 506.6,118 506.7,117 506.7,117.7 506.5,118 506.6,117.6 507.4,116.9 507.7,117.7 508,118.2 507.5,118.6 508.4,116.9 508.2,119.1 508.7,117.4 508.9,118.4 508.7,118.5 509,118.4 508.7,118.1 509.3,117.5 509.2,118.3 510.1,117.7 510.2,116.9 510.6,119.4 510.7,118.4 510.6,118.9 511.1,117.7 511.1,118.8 511.6,118.9 511.7,118.9 511.5,118.2" fill="none" stroke="#7849b3" stroke-width="0.95" stroke-linejoin="round" stroke-linecap="round"/>
<circle cx="393.7" cy="99.9" r="1.3" fill="#111"/>
<circle cx="413.8" cy="33.3" r="1.3" fill="#111"/>
<circle cx="434.8" cy="98.3" r="1.3" fill="#111"/>
<circle cx="442" cy="87.5" r="1.3" fill="#111"/>
<circle cx="450.4" cy="94.2" r="1.3" fill="#111"/>
<circle cx="462" cy="92.6" r="1.3" fill="#111"/>
<circle cx="496.3" cy="112.4" r="1.3" fill="#111"/>
<text x="485" y="33.2" font-size="7" text-anchor="start" fill="#1e1e1e" stroke="#1e1e1e" stroke-width="0.22"><tspan font-size="6.4">&#9670;</tspan>-FPBI</text>
<rect x="369" y="22.3" width="142.5" height="113.8" fill="none" stroke="#3c3c3c" stroke-width="0.9"/>
<line x1="396.9" y1="136.1" x2="396.9" y2="134.2" stroke="#3c3c3c" stroke-width="0.8"/>
<text x="396.9" y="144.6" font-size="6.8" text-anchor="middle" fill="#1e1e1e" stroke="#1e1e1e" stroke-width="0.22">20</text>
<line x1="435.4" y1="136.1" x2="435.4" y2="134.2" stroke="#3c3c3c" stroke-width="0.8"/>
<text x="435.4" y="144.6" font-size="6.8" text-anchor="middle" fill="#1e1e1e" stroke="#1e1e1e" stroke-width="0.22">40</text>
<line x1="473.8" y1="136.1" x2="473.8" y2="134.2" stroke="#3c3c3c" stroke-width="0.8"/>
<text x="473.8" y="144.6" font-size="6.8" text-anchor="middle" fill="#1e1e1e" stroke="#1e1e1e" stroke-width="0.22">60</text>
<line x1="512.3" y1="136.1" x2="512.3" y2="134.2" stroke="#3c3c3c" stroke-width="0.8"/>
<text x="512.3" y="144.6" font-size="6.8" text-anchor="middle" fill="#1e1e1e" stroke="#1e1e1e" stroke-width="0.22">80</text>
<line x1="377.7" y1="136.1" x2="377.7" y2="135.1" stroke="#3c3c3c" stroke-width="0.6"/>
<line x1="416.1" y1="136.1" x2="416.1" y2="135.1" stroke="#3c3c3c" stroke-width="0.6"/>
<line x1="454.6" y1="136.1" x2="454.6" y2="135.1" stroke="#3c3c3c" stroke-width="0.6"/>
<line x1="493" y1="136.1" x2="493" y2="135.1" stroke="#3c3c3c" stroke-width="0.6"/>
<text x="364.2" y="79" font-size="7.1" text-anchor="middle" fill="#1e1e1e" stroke="#1e1e1e" stroke-width="0.22" transform="rotate(-90 364.2 79)">Intensity (a.u.)</text>
<text x="438.8" y="152.3" font-size="7.1" text-anchor="middle" fill="#1e1e1e" stroke="#1e1e1e" stroke-width="0.22">2-Theta (&#176;)</text>
<text x="524" y="17.6" font-size="12" text-anchor="start" fill="#111" stroke="#111" stroke-width="0.22">d</text>
<clipPath id="cd"><rect x="537.9" y="22.4" width="143.39999999999998" height="113.1"/></clipPath><g clip-path="url(#cd)">
<polyline points="538,124.8 538.4,125.1 538.7,125.4 539.1,125.7 539.4,126 539.8,126.2 540.2,126.5 540.5,126.7 540.9,126.9 541.2,127.1 541.6,127.3 542,127.5 542.3,127.6 542.7,127.8 543,128 543.4,128.1 543.7,128.2 544.1,128.3 544.5,128.3 544.8,128.4 545.2,128.5 545.5,128.5 545.9,128.6 546.3,128.6 546.6,128.7 547,128.7 547.3,128.7 547.7,128.8 548.1,128.8 548.4,128.8 548.8,128.9 549.1,128.9 549.5,128.9 549.9,128.9 550.2,128.9 550.6,128.9 550.9,128.9 551.3,128.9 551.6,128.9 552,128.9 552.4,128.9 552.7,128.9 553.1,128.9 553.4,128.9 553.8,128.9 554.2,128.9 554.5,128.9 554.9,128.9 555.2,128.9 555.6,128.9 556,128.9 556.3,128.9 556.7,128.9 557,128.9 557.4,128.9 557.8,128.9 558.1,128.9 558.5,128.9 558.8,128.9 559.2,128.9 559.5,128.9 559.9,128.9 560.3,128.9 560.6,128.9 561,128.9 561.3,128.9 561.7,128.9 562.1,128.9 562.4,128.9 562.8,128.9 563.1,128.9 563.5,128.9 563.9,128.9 564.2,128.9 564.6,128.9 564.9,128.9 565.3,128.9 565.7,128.9 566,128.8 566.4,128.8 566.7,128.8 567.1,128.8 567.4,128.8 567.8,128.7 568.2,128.7 568.5,128.7 568.9,128.7 569.2,128.7 569.6,128.6 570,128.6 570.3,128.6 570.7,128.6 571,128.5 571.4,128.5 571.8,128.5 572.1,128.5 572.5,128.4 572.8,128.4 573.2,128.4 573.6,128.4 573.9,128.3 574.3,128.3 574.6,128.3 575,128.3 575.3,128.2 575.7,128.2 576.1,128.2 576.4,128.2 576.8,128.1 577.1,128.1 577.5,128.1 577.9,128.1 578.2,128 578.6,128 578.9,128 579.3,127.9 579.7,127.9 580,127.9 580.4,127.9 580.7,127.8 581.1,127.8 581.5,127.8 581.8,127.7 582.2,127.7 582.5,127.7 582.9,127.7 583.2,127.6 583.6,127.6 584,127.6 584.3,127.6 584.7,127.6 585,127.5 585.4,127.5 585.8,127.5 586.1,127.5 586.5,127.5 586.8,127.5 587.2,127.5 587.6,127.5 587.9,127.5 588.3,127.5 588.6,127.5 589,127.5 589.4,127.5 589.7,127.5 590.1,127.5 590.4,127.5 590.8,127.5 591.2,127.5 591.5,127.5 591.9,127.6 592.2,127.6 592.6,127.6 592.9,127.6 593.3,127.6 593.7,127.6 594,127.7 594.4,127.7 594.7,127.7 595.1,127.7 595.5,127.7 595.8,127.8 596.2,127.8 596.5,127.8 596.9,127.8 597.3,127.8 597.6,127.9 598,127.9 598.3,127.9 598.7,127.9 599.1,127.9 599.4,128 599.8,128 600.1,128 600.5,128 600.8,128 601.2,128.1 601.6,128.1 601.9,128.1 602.3,128.1 602.6,128.2 603,128.2 603.4,128.2 603.7,128.2 604.1,128.3 604.4,128.3 604.8,128.3 605.2,128.3 605.5,128.4 605.9,128.4 606.2,128.4 606.6,128.4 607,128.5 607.3,128.5 607.7,128.5 608,128.6 608.4,128.6 608.7,128.6 609.1,128.6 609.5,128.7 609.8,128.7 610.2,128.7 610.5,128.7 610.9,128.8 611.3,128.8 611.6,128.8 612,128.8 612.3,128.9 612.7,128.9 613.1,128.9 613.4,128.9 613.8,129 614.1,129 614.5,129 614.9,129 615.2,129 615.6,129.1 615.9,129.1 616.3,129.1 616.6,129.1 617,129.2 617.4,129.2 617.7,129.2 618.1,129.2 618.4,129.2 618.8,129.3 619.2,129.3 619.5,129.3 619.9,129.3 620.2,129.3 620.6,129.4 621,129.4 621.3,129.4 621.7,129.4 622,129.4 622.4,129.5 622.8,129.5 623.1,129.5 623.5,129.5 623.8,129.5 624.2,129.6 624.5,129.6 624.9,129.6 625.3,129.6 625.6,129.6 626,129.6 626.3,129.7 626.7,129.7 627.1,129.7 627.4,129.7 627.8,129.7 628.1,129.8 628.5,129.8 628.9,129.8 629.2,129.8 629.6,129.8 629.9,129.9 630.3,129.9 630.7,129.9 631,129.9 631.4,129.9 631.7,130 632.1,130 632.4,130 632.8,130 633.2,130.1 633.5,130.1 633.9,130.1 634.2,130.1 634.6,130.1 635,130.2 635.3,130.2 635.7,130.2 636,130.2 636.4,130.3 636.8,130.3 637.1,130.3 637.5,130.3 637.8,130.3 638.2,130.4 638.6,130.4 638.9,130.4 639.3,130.4 639.6,130.5 640,130.5 640.4,130.5 640.7,130.5 641.1,130.6 641.4,130.6 641.8,130.6 642.1,130.7 642.5,130.7 642.9,130.7 643.2,130.7 643.6,130.8 643.9,130.8 644.3,130.8 644.7,130.9 645,130.9 645.4,130.9 645.7,130.9 646.1,131 646.5,131 646.8,131 647.2,131.1 647.5,131.1 647.9,131.1 648.3,131.2 648.6,131.2 649,131.2 649.3,131.2 649.7,131.3 650,131.3 650.4,131.3 650.8,131.4 651.1,131.4 651.5,131.4 651.8,131.5 652.2,131.5 652.6,131.5 652.9,131.6 653.3,131.6 653.6,131.6 654,131.6 654.4,131.7 654.7,131.7 655.1,131.7 655.4,131.8 655.8,131.8 656.2,131.8 656.5,131.9 656.9,131.9 657.2,131.9 657.6,131.9 657.9,132 658.3,132 658.7,132 659,132.1 659.4,132.1 659.7,132.1 660.1,132.1 660.5,132.2 660.8,132.2 661.2,132.2 661.5,132.3 661.9,132.3 662.3,132.3 662.6,132.3 663,132.4 663.3,132.4 663.7,132.4 664.1,132.4 664.4,132.5 664.8,132.5 665.1,132.5 665.5,132.6 665.8,132.6 666.2,132.6 666.6,132.6 666.9,132.7 667.3,132.7 667.6,132.7 668,132.7 668.4,132.8 668.7,132.8 669.1,132.8 669.4,132.8 669.8,132.9 670.2,132.9 670.5,132.9 670.9,132.9 671.2,133 671.6,133 672,133 672.3,133 672.7,133.1 673,133.1 673.4,133.1 673.7,133.1 674.1,133.1 674.5,133.2 674.8,133.2 675.2,133.2 675.5,133.2 675.9,133.3 676.3,133.3 676.6,133.3 677,133.3 677.3,133.4 677.7,133.4 678.1,133.4 678.4,133.4 678.8,133.5 679.1,133.5 679.5,133.5 679.9,133.5 680.2,133.5 680.6,133.6 680.9,133.6 681.3,133.6" fill="none" stroke="#b5aa3c" stroke-width="1.35" stroke-linejoin="round" stroke-linecap="round"/>
<polyline points="538,50.1 538.4,44.9 538.7,40.8 539.1,38.2 539.4,36.1 539.8,35 540.2,35.4 540.5,36.6 540.9,38.2 541.2,40.4 541.6,43.3 542,46.4 542.3,49.2 542.7,52 543,54.7 543.4,57.4 543.7,60 544.1,62.4 544.5,64.6 544.8,66.7 545.2,68.7 545.5,70.6 545.9,72.5 546.3,74.3 546.6,76.2 547,78 547.3,79.8 547.7,81.4 548.1,82.8 548.4,84.1 548.8,85.4 549.1,86.5 549.5,87.5 549.9,88.4 550.2,89.2 550.6,90 550.9,90.7 551.3,91.3 551.6,91.5 552,91.5 552.4,91.4 552.7,91.3 553.1,91.1 553.4,90.9 553.8,90.7 554.2,90.5 554.5,90.2 554.9,89.9 555.2,89.5 555.6,89.2 556,88.9 556.3,88.8 556.7,88.7 557,88.8 557.4,89.1 557.8,89.4 558.1,89.8 558.5,90.3 558.8,90.9 559.2,91.6 559.5,92.6 559.9,93.7 560.3,94.8 560.6,96 561,97.1 561.3,98.1 561.7,99 562.1,99.7 562.4,100.5 562.8,101.2 563.1,101.9 563.5,102.5 563.9,103.1 564.2,103.6 564.6,104.1 564.9,104.5 565.3,104.9 565.7,105.2 566,105.6 566.4,105.9 566.7,106.2 567.1,106.4 567.4,106.7 567.8,106.9 568.2,107.1 568.5,107.2 568.9,107.4 569.2,107.5 569.6,107.7 570,107.8 570.3,107.9 570.7,107.9 571,108 571.4,108.1 571.8,108.1 572.1,108.2 572.5,108.2 572.8,108.3 573.2,108.3 573.6,108.3 573.9,108.4 574.3,108.4 574.6,108.5 575,108.5 575.3,108.6 575.7,108.6 576.1,108.7 576.4,108.7 576.8,108.7 577.1,108.8 577.5,108.8 577.9,108.9 578.2,109 578.6,109 578.9,109.1 579.3,109.2 579.7,109.2 580,109.3 580.4,109.4 580.7,109.6 581.1,109.7 581.5,109.8 581.8,109.9 582.2,110.1 582.5,110.2 582.9,110.4 583.2,110.5 583.6,110.7 584,110.8 584.3,111 584.7,111.1 585,111.3 585.4,111.5 585.8,111.6 586.1,111.8 586.5,112 586.8,112.2 587.2,112.4 587.6,112.6 587.9,112.8 588.3,113 588.6,113.2 589,113.4 589.4,113.6 589.7,113.8 590.1,114 590.4,114.2 590.8,114.4 591.2,114.5 591.5,114.7 591.9,114.9 592.2,115.1 592.6,115.3 592.9,115.5 593.3,115.7 593.7,115.9 594,116.1 594.4,116.3 594.7,116.5 595.1,116.7 595.5,116.9 595.8,117.1 596.2,117.3 596.5,117.4 596.9,117.6 597.3,117.8 597.6,118 598,118.1 598.3,118.3 598.7,118.5 599.1,118.6 599.4,118.8 599.8,118.9 600.1,119.1 600.5,119.2 600.8,119.3 601.2,119.4 601.6,119.6 601.9,119.7 602.3,119.8 602.6,119.9 603,120.1 603.4,120.2 603.7,120.3 604.1,120.4 604.4,120.5 604.8,120.6 605.2,120.7 605.5,120.9 605.9,121 606.2,121.1 606.6,121.2 607,121.3 607.3,121.4 607.7,121.5 608,121.6 608.4,121.7 608.7,121.7 609.1,121.8 609.5,121.9 609.8,122 610.2,122.1 610.5,122.2 610.9,122.2 611.3,122.3 611.6,122.4 612,122.5 612.3,122.5 612.7,122.6 613.1,122.6 613.4,122.7 613.8,122.8 614.1,122.8 614.5,122.9 614.9,123 615.2,123 615.6,123.1 615.9,123.1 616.3,123.2 616.6,123.3 617,123.3 617.4,123.4 617.7,123.4 618.1,123.5 618.4,123.5 618.8,123.6 619.2,123.6 619.5,123.7 619.9,123.7 620.2,123.8 620.6,123.8 621,123.9 621.3,123.9 621.7,123.9 622,124 622.4,124 622.8,124 623.1,124.1 623.5,124.1 623.8,124.1 624.2,124.1 624.5,124.2 624.9,124.2 625.3,124.2 625.6,124.2 626,124.2 626.3,124.2 626.7,124.2 627.1,124.2 627.4,124.3 627.8,124.3 628.1,124.3 628.5,124.3 628.9,124.3 629.2,124.3 629.6,124.3 629.9,124.3 630.3,124.3 630.7,124.3 631,124.3 631.4,124.3 631.7,124.3 632.1,124.3 632.4,124.3 632.8,124.3 633.2,124.3 633.5,124.2 633.9,124.2 634.2,124.1 634.6,124.1 635,124 635.3,124 635.7,123.9 636,123.8 636.4,123.8 636.8,123.7 637.1,123.7 637.5,123.6 637.8,123.6 638.2,123.5 638.6,123.5 638.9,123.5 639.3,123.4 639.6,123.4 640,123.4 640.4,123.3 640.7,123.3 641.1,123.3 641.4,123.2 641.8,123.2 642.1,123.2 642.5,123.2 642.9,123.1 643.2,123.1 643.6,123 643.9,123 644.3,123 644.7,122.9 645,122.9 645.4,122.8 645.7,122.8 646.1,122.7 646.5,122.6 646.8,122.6 647.2,122.5 647.5,122.4 647.9,122.3 648.3,122.2 648.6,122.1 649,122 649.3,121.9 649.7,121.7 650,121.6 650.4,121.4 650.8,121.2 651.1,121.1 651.5,120.9 651.8,120.8 652.2,120.6 652.6,120.5 652.9,120.3 653.3,120.1 653.6,119.9 654,119.8 654.4,119.6 654.7,119.4 655.1,119.2 655.4,119.1 655.8,119 656.2,118.9 656.5,118.9 656.9,118.9 657.2,119 657.6,119.1 657.9,119.2 658.3,119.4 658.7,119.5 659,119.7 659.4,119.9 659.7,120.1 660.1,120.3 660.5,120.5 660.8,120.7 661.2,121 661.5,121.2 661.9,121.5 662.3,121.8 662.6,122 663,122.3 663.3,122.6 663.7,122.9 664.1,123.1 664.4,123.4 664.8,123.6 665.1,123.8 665.5,124 665.8,124.1 666.2,124.3 666.6,124.5 666.9,124.6 667.3,124.8 667.6,124.9 668,125 668.4,125.2 668.7,125.3 669.1,125.4 669.4,125.6 669.8,125.7 670.2,125.8 670.5,125.9 670.9,126 671.2,126.2 671.6,126.3 672,126.4 672.3,126.5 672.7,126.6 673,126.7 673.4,126.8 673.7,126.9 674.1,127 674.5,127.1 674.8,127.2 675.2,127.3 675.5,127.4 675.9,127.5 676.3,127.5 676.6,127.6 677,127.7 677.3,127.8 677.7,127.9 678.1,128 678.4,128 678.8,128.1 679.1,128.2 679.5,128.3 679.9,128.3 680.2,128.4 680.6,128.5 680.9,128.5 681.3,128.6" fill="none" stroke="#f0824a" stroke-width="1.35" stroke-linejoin="round" stroke-linecap="round"/>
<polyline points="538,46.3 538.4,42 538.7,38.8 539.1,36.7 539.4,35.3 539.8,35.4 540.2,38.1 540.5,42 540.9,48.1 541.2,55.6 541.6,61.9 542,67.3 542.3,72.4 542.7,76.7 543,79.9 543.4,82.4 543.7,84.6 544.1,86.4 544.5,88 544.8,89.4 545.2,90.6 545.5,91.6 545.9,92.6 546.3,93.6 546.6,94.7 547,96 547.3,97.4 547.7,98.9 548.1,100.5 548.4,102 548.8,103.3 549.1,104.8 549.5,106.2 549.9,107.5 550.2,108.6 550.6,109.2 550.9,109.8 551.3,110.2 551.6,110.4 552,110.3 552.4,110 552.7,109.5 553.1,108.9 553.4,108.4 553.8,107.6 554.2,106.8 554.5,105.9 554.9,105 555.2,104.3 555.6,103.9 556,103.4 556.3,103 556.7,102.7 557,102.6 557.4,102.6 557.8,102.9 558.1,103.4 558.5,104.1 558.8,104.8 559.2,105.6 559.5,106.4 559.9,107.5 560.3,108.6 560.6,109.8 561,110.9 561.3,111.9 561.7,112.8 562.1,113.5 562.4,114.2 562.8,114.8 563.1,115.4 563.5,115.9 563.9,116.4 564.2,116.9 564.6,117.3 564.9,117.6 565.3,118 565.7,118.3 566,118.7 566.4,119 566.7,119.2 567.1,119.5 567.4,119.7 567.8,119.8 568.2,119.9 568.5,119.9 568.9,120 569.2,120.1 569.6,120.1 570,120.2 570.3,120.3 570.7,120.3 571,120.3 571.4,120.4 571.8,120.4 572.1,120.4 572.5,120.4 572.8,120.4 573.2,120.4 573.6,120.4 573.9,120.4 574.3,120.4 574.6,120.4 575,120.4 575.3,120.4 575.7,120.4 576.1,120.4 576.4,120.4 576.8,120.4 577.1,120.4 577.5,120.4 577.9,120.4 578.2,120.4 578.6,120.5 578.9,120.5 579.3,120.5 579.7,120.6 580,120.7 580.4,120.7 580.7,120.8 581.1,120.9 581.5,121 581.8,121.1 582.2,121.2 582.5,121.2 582.9,121.3 583.2,121.4 583.6,121.5 584,121.6 584.3,121.7 584.7,121.8 585,122 585.4,122.1 585.8,122.2 586.1,122.3 586.5,122.5 586.8,122.6 587.2,122.7 587.6,122.8 587.9,122.9 588.3,123 588.6,123.1 589,123.2 589.4,123.3 589.7,123.4 590.1,123.5 590.4,123.6 590.8,123.7 591.2,123.8 591.5,123.9 591.9,124 592.2,124.1 592.6,124.2 592.9,124.3 593.3,124.4 593.7,124.5 594,124.6 594.4,124.7 594.7,124.8 595.1,124.9 595.5,125 595.8,125.1 596.2,125.2 596.5,125.2 596.9,125.3 597.3,125.4 597.6,125.5 598,125.6 598.3,125.7 598.7,125.7 599.1,125.8 599.4,125.9 599.8,126 600.1,126 600.5,126.1 600.8,126.2 601.2,126.2 601.6,126.3 601.9,126.4 602.3,126.4 602.6,126.5 603,126.6 603.4,126.7 603.7,126.7 604.1,126.8 604.4,126.9 604.8,126.9 605.2,127 605.5,127.1 605.9,127.1 606.2,127.2 606.6,127.3 607,127.3 607.3,127.4 607.7,127.5 608,127.5 608.4,127.6 608.7,127.6 609.1,127.7 609.5,127.7 609.8,127.7 610.2,127.8 610.5,127.8 610.9,127.9 611.3,127.9 611.6,127.9 612,127.9 612.3,127.9 612.7,128 613.1,128 613.4,128 613.8,128 614.1,128 614.5,128 614.9,128 615.2,128 615.6,128 615.9,128 616.3,128 616.6,128 617,128 617.4,128 617.7,128 618.1,128 618.4,128 618.8,128.1 619.2,128.1 619.5,128.1 619.9,128.1 620.2,128.1 620.6,128.1 621,128.1 621.3,128.1 621.7,128.1 622,128.1 622.4,128.1 622.8,128.1 623.1,128.1 623.5,128.1 623.8,128.1 624.2,128.1 624.5,128.1 624.9,128.1 625.3,128.1 625.6,128.1 626,128.1 626.3,128.1 626.7,128 627.1,128 627.4,128 627.8,128 628.1,127.9 628.5,127.9 628.9,127.8 629.2,127.8 629.6,127.7 629.9,127.7 630.3,127.6 630.7,127.6 631,127.5 631.4,127.5 631.7,127.4 632.1,127.3 632.4,127.3 632.8,127.2 633.2,127.2 633.5,127.1 633.9,127 634.2,127 634.6,126.9 635,126.8 635.3,126.7 635.7,126.6 636,126.5 636.4,126.5 636.8,126.4 637.1,126.3 637.5,126.2 637.8,126.1 638.2,126 638.6,125.9 638.9,125.8 639.3,125.7 639.6,125.6 640,125.4 640.4,125.3 640.7,125.2 641.1,125.1 641.4,125 641.8,124.8 642.1,124.7 642.5,124.7 642.9,124.6 643.2,124.5 643.6,124.5 643.9,124.5 644.3,124.4 644.7,124.4 645,124.4 645.4,124.4 645.7,124.4 646.1,124.3 646.5,124.3 646.8,124.3 647.2,124.3 647.5,124.2 647.9,124.2 648.3,124.1 648.6,124.1 649,123.9 649.3,123.8 649.7,123.6 650,123.5 650.4,123.3 650.8,123.1 651.1,122.9 651.5,122.6 651.8,122.2 652.2,121.8 652.6,121.4 652.9,121 653.3,120.6 653.6,120.3 654,120 654.4,119.7 654.7,119.4 655.1,119.2 655.4,118.9 655.8,118.7 656.2,118.6 656.5,118.5 656.9,118.6 657.2,118.7 657.6,118.8 657.9,119 658.3,119.2 658.7,119.4 659,119.7 659.4,120 659.7,120.3 660.1,120.8 660.5,121.3 660.8,121.9 661.2,122.4 661.5,122.9 661.9,123.4 662.3,123.8 662.6,124.2 663,124.5 663.3,124.9 663.7,125.2 664.1,125.5 664.4,125.8 664.8,126.1 665.1,126.3 665.5,126.5 665.8,126.7 666.2,126.8 666.6,127 666.9,127.2 667.3,127.3 667.6,127.5 668,127.6 668.4,127.8 668.7,127.9 669.1,128 669.4,128.2 669.8,128.3 670.2,128.4 670.5,128.5 670.9,128.6 671.2,128.7 671.6,128.8 672,128.9 672.3,129 672.7,129.1 673,129.2 673.4,129.3 673.7,129.4 674.1,129.5 674.5,129.6 674.8,129.6 675.2,129.7 675.5,129.8 675.9,129.9 676.3,130 676.6,130 677,130.1 677.3,130.2 677.7,130.3 678.1,130.3 678.4,130.4 678.8,130.4 679.1,130.5 679.5,130.6 679.9,130.6 680.2,130.7 680.6,130.7 680.9,130.8 681.3,130.8" fill="none" stroke="#4e3eae" stroke-width="1.35" stroke-linejoin="round" stroke-linecap="round"/>
<polyline points="538,47.6 538.4,41.1 538.7,37.7 539.1,38 539.4,39.9 539.8,43 540.2,49.7 540.5,57.4 540.9,63.5 541.2,68.7 541.6,73.8 542,79.4 542.3,85.3 542.7,91.1 543,96.3 543.4,101.3 543.7,106 544.1,110 544.5,113.5 544.8,116.6 545.2,119.3 545.5,121.4 545.9,123.3 546.3,125 546.6,126.2 547,127.1 547.3,127.7 547.7,128.2 548.1,128.7 548.4,129 548.8,129.3 549.1,129.6 549.5,129.8 549.9,129.9 550.2,130.1 550.6,130.2 550.9,130.3 551.3,130.3 551.6,130.4 552,130.5 552.4,130.5 552.7,130.6 553.1,130.6 553.4,130.7 553.8,130.7 554.2,130.8 554.5,130.8 554.9,130.9 555.2,130.9 555.6,131 556,131 556.3,131.1 556.7,131.2 557,131.2 557.4,131.3 557.8,131.4 558.1,131.5 558.5,131.6 558.8,131.7 559.2,131.8 559.5,131.9 559.9,132.1 560.3,132.2 560.6,132.3 561,132.4 561.3,132.5 561.7,132.6 562.1,132.7 562.4,132.8 562.8,132.9 563.1,133 563.5,133.1 563.9,133.3 564.2,133.4 564.6,133.5 564.9,133.6 565.3,133.7 565.7,133.9 566,134 566.4,134 566.7,134.1 567.1,134.2 567.4,134.2 567.8,134.2 568.2,134.2 568.5,134.2 568.9,134.1 569.2,134 569.6,133.9 570,133.8 570.3,133.7 570.7,133.5 571,133.4 571.4,133.2 571.8,133.1 572.1,132.9 572.5,132.8 572.8,132.7 573.2,132.5 573.6,132.4 573.9,132.2 574.3,132.1 574.6,131.9 575,131.8 575.3,131.7 575.7,131.6 576.1,131.5 576.4,131.4 576.8,131.4 577.1,131.5 577.5,131.5 577.9,131.6 578.2,131.8 578.6,131.9 578.9,132.1 579.3,132.2 579.7,132.4 580,132.6 580.4,132.8 580.7,132.9 581.1,133 581.5,133.1 581.8,133.3 582.2,133.4 582.5,133.5 582.9,133.7 583.2,133.8 583.6,133.9 584,134 584.3,134.1 584.7,134.2 585,134.3 585.4,134.4 585.8,134.4 586.1,134.5 586.5,134.5 586.8,134.6 587.2,134.6 587.6,134.6 587.9,134.7 588.3,134.7 588.6,134.8 589,134.8 589.4,134.8 589.7,134.9 590.1,134.9 590.4,134.9 590.8,134.9 591.2,135 591.5,135 591.9,135 592.2,135.1 592.6,135.1 592.9,135.1 593.3,135.1 593.7,135.2 594,135.2 594.4,135.2 594.7,135.2 595.1,135.3 595.5,135.3 595.8,135.3 596.2,135.3 596.5,135.4 596.9,135.4 597.3,135.4 597.6,135.4 598,135.4 598.3,135.5 598.7,135.5 599.1,135.5 599.4,135.5 599.8,135.5 600.1,135.5 600.5,135.5 600.8,135.5 601.2,135.5 601.6,135.5 601.9,135.5 602.3,135.5 602.6,135.5 603,135.4 603.4,135.4 603.7,135.4 604.1,135.4 604.4,135.4 604.8,135.4 605.2,135.3 605.5,135.3 605.9,135.3 606.2,135.3 606.6,135.2 607,135.2 607.3,135.2 607.7,135.2 608,135.1 608.4,135.1 608.7,135.1 609.1,135 609.5,135 609.8,135 610.2,135 610.5,134.9 610.9,134.9 611.3,134.9 611.6,134.8 612,134.8 612.3,134.7 612.7,134.7 613.1,134.7 613.4,134.6 613.8,134.6 614.1,134.5 614.5,134.5 614.9,134.4 615.2,134.4 615.6,134.3 615.9,134.3 616.3,134.2 616.6,134.1 617,134.1 617.4,134 617.7,133.9 618.1,133.9 618.4,133.8 618.8,133.7 619.2,133.7 619.5,133.6 619.9,133.5 620.2,133.4 620.6,133.3 621,133.2 621.3,133.1 621.7,133 622,132.9 622.4,132.8 622.8,132.7 623.1,132.6 623.5,132.5 623.8,132.4 624.2,132.2 624.5,132.1 624.9,131.9 625.3,131.8 625.6,131.6 626,131.5 626.3,131.3 626.7,131 627.1,130.8 627.4,130.5 627.8,130.3 628.1,130 628.5,129.7 628.9,129.4 629.2,129.1 629.6,128.8 629.9,128.5 630.3,128.2 630.7,127.8 631,127.5 631.4,127.1 631.7,126.7 632.1,126.3 632.4,125.9 632.8,125.4 633.2,124.9 633.5,124.4 633.9,123.8 634.2,123.2 634.6,122.6 635,122 635.3,121.3 635.7,120.6 636,119.8 636.4,119.1 636.8,118.2 637.1,117.4 637.5,116.5 637.8,115.6 638.2,114.6 638.6,113.5 638.9,112.3 639.3,111.1 639.6,110 640,109 640.4,107.9 640.7,106.9 641.1,105.9 641.4,105.2 641.8,104.8 642.1,104.5 642.5,104.2 642.9,103.9 643.2,103.8 643.6,103.8 643.9,103.9 644.3,104.1 644.7,104.3 645,104.5 645.4,104.6 645.7,104.7 646.1,104.7 646.5,104.7 646.8,104.4 647.2,103.8 647.5,103 647.9,102.2 648.3,101.3 648.6,100.2 649,98.9 649.3,97.4 649.7,95.7 650,94.1 650.4,92.4 650.8,90.7 651.1,88.9 651.5,86.9 651.8,84.9 652.2,83 652.6,81.1 652.9,79.5 653.3,78 653.6,76.5 654,75.1 654.4,73.8 654.7,72.8 655.1,72.1 655.4,71.6 655.8,71.2 656.2,70.9 656.5,70.8 656.9,71 657.2,71.4 657.6,72 657.9,72.7 658.3,73.9 658.7,75.8 659,78.1 659.4,80.7 659.7,83.2 660.1,86 660.5,89.2 660.8,92.4 661.2,95.6 661.5,98.7 661.9,101.8 662.3,104.9 662.6,107.9 663,110.7 663.3,113.3 663.7,115.7 664.1,118.1 664.4,120.4 664.8,122.4 665.1,124.1 665.5,125.4 665.8,126.6 666.2,127.7 666.6,128.7 666.9,129.5 667.3,130.3 667.6,130.9 668,131.4 668.4,131.9 668.7,132.4 669.1,132.8 669.4,133.1 669.8,133.4 670.2,133.6 670.5,133.7 670.9,133.8 671.2,133.9 671.6,134 672,134.1 672.3,134.2 672.7,134.2 673,134.3 673.4,134.4 673.7,134.4 674.1,134.5 674.5,134.5 674.8,134.5 675.2,134.6 675.5,134.6 675.9,134.6 676.3,134.6 676.6,134.7 677,134.7 677.3,134.7 677.7,134.7 678.1,134.8 678.4,134.8 678.8,134.8 679.1,134.8 679.5,134.8 679.9,134.8 680.2,134.9 680.6,134.9 680.9,134.9 681.3,134.9" fill="none" stroke="#35b94a" stroke-width="1.35" stroke-linejoin="round" stroke-linecap="round"/>
</g>
<rect x="537.9" y="22.4" width="143.4" height="113.1" fill="none" stroke="#3c3c3c" stroke-width="0.9"/>
<line x1="538" y1="135.5" x2="538" y2="137.7" stroke="#3c3c3c" stroke-width="0.8"/>
<text x="538" y="144.9" font-size="6.8" text-anchor="middle" fill="#1e1e1e" stroke="#1e1e1e" stroke-width="0.22">200</text>
<line x1="558.5" y1="135.5" x2="558.5" y2="137.7" stroke="#3c3c3c" stroke-width="0.8"/>
<text x="558.5" y="144.9" font-size="6.8" text-anchor="middle" fill="#1e1e1e" stroke="#1e1e1e" stroke-width="0.22">300</text>
<line x1="578.9" y1="135.5" x2="578.9" y2="137.7" stroke="#3c3c3c" stroke-width="0.8"/>
<text x="578.9" y="144.9" font-size="6.8" text-anchor="middle" fill="#1e1e1e" stroke="#1e1e1e" stroke-width="0.22">400</text>
<line x1="599.4" y1="135.5" x2="599.4" y2="137.7" stroke="#3c3c3c" stroke-width="0.8"/>
<text x="599.4" y="144.9" font-size="6.8" text-anchor="middle" fill="#1e1e1e" stroke="#1e1e1e" stroke-width="0.22">500</text>
<line x1="619.9" y1="135.5" x2="619.9" y2="137.7" stroke="#3c3c3c" stroke-width="0.8"/>
<text x="619.9" y="144.9" font-size="6.8" text-anchor="middle" fill="#1e1e1e" stroke="#1e1e1e" stroke-width="0.22">600</text>
<line x1="640.4" y1="135.5" x2="640.4" y2="137.7" stroke="#3c3c3c" stroke-width="0.8"/>
<text x="640.4" y="144.9" font-size="6.8" text-anchor="middle" fill="#1e1e1e" stroke="#1e1e1e" stroke-width="0.22">700</text>
<line x1="660.8" y1="135.5" x2="660.8" y2="137.7" stroke="#3c3c3c" stroke-width="0.8"/>
<text x="660.8" y="144.9" font-size="6.8" text-anchor="middle" fill="#1e1e1e" stroke="#1e1e1e" stroke-width="0.22">800</text>
<line x1="681.3" y1="135.5" x2="681.3" y2="137.7" stroke="#3c3c3c" stroke-width="0.8"/>
<text x="681.3" y="144.9" font-size="6.8" text-anchor="middle" fill="#1e1e1e" stroke="#1e1e1e" stroke-width="0.22">900</text>
<line x1="535.7" y1="135.5" x2="537.9" y2="135.5" stroke="#3c3c3c" stroke-width="0.8"/>
<text x="534.3" y="137.9" font-size="6.8" text-anchor="end" fill="#1e1e1e" stroke="#1e1e1e" stroke-width="0.22">0.0</text>
<line x1="535.7" y1="122.9" x2="537.9" y2="122.9" stroke="#3c3c3c" stroke-width="0.8"/>
<text x="534.3" y="125.3" font-size="6.8" text-anchor="end" fill="#1e1e1e" stroke="#1e1e1e" stroke-width="0.22">0.2</text>
<line x1="535.7" y1="110.4" x2="537.9" y2="110.4" stroke="#3c3c3c" stroke-width="0.8"/>
<text x="534.3" y="112.8" font-size="6.8" text-anchor="end" fill="#1e1e1e" stroke="#1e1e1e" stroke-width="0.22">0.4</text>
<line x1="535.7" y1="97.8" x2="537.9" y2="97.8" stroke="#3c3c3c" stroke-width="0.8"/>
<text x="534.3" y="100.2" font-size="6.8" text-anchor="end" fill="#1e1e1e" stroke="#1e1e1e" stroke-width="0.22">0.6</text>
<line x1="535.7" y1="85.3" x2="537.9" y2="85.3" stroke="#3c3c3c" stroke-width="0.8"/>
<text x="534.3" y="87.7" font-size="6.8" text-anchor="end" fill="#1e1e1e" stroke="#1e1e1e" stroke-width="0.22">0.8</text>
<line x1="535.7" y1="72.7" x2="537.9" y2="72.7" stroke="#3c3c3c" stroke-width="0.8"/>
<text x="534.3" y="75.1" font-size="6.8" text-anchor="end" fill="#1e1e1e" stroke="#1e1e1e" stroke-width="0.22">1.0</text>
<line x1="535.7" y1="60.1" x2="537.9" y2="60.1" stroke="#3c3c3c" stroke-width="0.8"/>
<text x="534.3" y="62.5" font-size="6.8" text-anchor="end" fill="#1e1e1e" stroke="#1e1e1e" stroke-width="0.22">1.2</text>
<line x1="535.7" y1="47.6" x2="537.9" y2="47.6" stroke="#3c3c3c" stroke-width="0.8"/>
<text x="534.3" y="50" font-size="6.8" text-anchor="end" fill="#1e1e1e" stroke="#1e1e1e" stroke-width="0.22">1.4</text>
<line x1="535.7" y1="35" x2="537.9" y2="35" stroke="#3c3c3c" stroke-width="0.8"/>
<text x="534.3" y="37.4" font-size="6.8" text-anchor="end" fill="#1e1e1e" stroke="#1e1e1e" stroke-width="0.22">1.6</text>
<line x1="535.7" y1="22.5" x2="537.9" y2="22.5" stroke="#3c3c3c" stroke-width="0.8"/>
<text x="534.3" y="24.9" font-size="6.8" text-anchor="end" fill="#1e1e1e" stroke="#1e1e1e" stroke-width="0.22">1.8</text>
<text x="523.2" y="79" font-size="7.1" text-anchor="middle" fill="#1e1e1e" stroke="#1e1e1e" stroke-width="0.22" transform="rotate(-90 523.2 79)">Absorption</text>
<text x="608.5" y="152.3" font-size="7.1" text-anchor="middle" fill="#1e1e1e" stroke="#1e1e1e" stroke-width="0.22">Wavelength (nm)</text>
<line x1="637.9" y1="28.3" x2="652.7" y2="28.3" stroke="#b5aa3c" stroke-width="1.15"/>
<text x="655.6" y="30.8" font-size="7" text-anchor="start" fill="#1e1e1e" stroke="#1e1e1e" stroke-width="0.22">Bi<tspan font-size="70%" dy="1.6">2</tspan><tspan dy="-1.6">&#8203;</tspan>Se<tspan font-size="70%" dy="1.6">3</tspan><tspan dy="-1.6">&#8203;</tspan></text>
<line x1="637.9" y1="38.6" x2="652.7" y2="38.6" stroke="#35b94a" stroke-width="1.15"/>
<text x="655.6" y="41.1" font-size="7" text-anchor="start" fill="#1e1e1e" stroke="#1e1e1e" stroke-width="0.22">ICG</text>
<line x1="637.9" y1="46.9" x2="652.7" y2="46.9" stroke="#f0824a" stroke-width="1.5"/>
<text x="655.6" y="49.4" font-size="7" text-anchor="start" fill="#1e1e1e" stroke="#1e1e1e" stroke-width="0.22">PBI</text>
<line x1="637.9" y1="55.1" x2="652.7" y2="55.1" stroke="#4a38b0" stroke-width="1.15"/>
<text x="655.6" y="57.6" font-size="7" text-anchor="start" fill="#1e1e1e" stroke="#1e1e1e" stroke-width="0.22">FPBI</text>
<text x="18.1" y="154.6" font-size="11.8" text-anchor="start" fill="#111" stroke="#111" stroke-width="0.22" font-weight="bold">e</text>
<rect x="45" y="158" width="23" height="94" fill="#f07022" stroke="#c95a14" stroke-width="0.5"/>
<rect x="91.3" y="158" width="22.8" height="98.6" fill="#4373bd" stroke="#365f9e" stroke-width="0.5"/>
<rect x="137" y="158" width="23.3" height="73.1" fill="#6b3d9b" stroke="#56307e" stroke-width="0.5"/>
<line x1="56.5" y1="248.3" x2="56.5" y2="255.5" stroke="#222" stroke-width="0.5"/>
<line x1="55.5" y1="248.3" x2="57.5" y2="248.3" stroke="#222" stroke-width="0.5"/>
<line x1="55.5" y1="255.5" x2="57.5" y2="255.5" stroke="#222" stroke-width="0.5"/>
<line x1="102.8" y1="253.8" x2="102.8" y2="258.8" stroke="#222" stroke-width="0.5"/>
<line x1="101.8" y1="253.8" x2="103.8" y2="253.8" stroke="#222" stroke-width="0.5"/>
<line x1="101.8" y1="258.8" x2="103.8" y2="258.8" stroke="#222" stroke-width="0.5"/>
<line x1="148.6" y1="227.2" x2="148.6" y2="234.6" stroke="#222" stroke-width="0.5"/>
<line x1="147.6" y1="227.2" x2="149.6" y2="227.2" stroke="#222" stroke-width="0.5"/>
<line x1="147.6" y1="234.6" x2="149.6" y2="234.6" stroke="#222" stroke-width="0.5"/>
<rect x="33.2" y="158" width="138.6" height="112.5" fill="none" stroke="#3c3c3c" stroke-width="0.9"/>
<line x1="31" y1="158" x2="33.2" y2="158" stroke="#3c3c3c" stroke-width="0.8"/>
<text x="29.6" y="160.4" font-size="6.8" text-anchor="end" fill="#1e1e1e" stroke="#1e1e1e" stroke-width="0.22">0</text>
<line x1="31" y1="176.8" x2="33.2" y2="176.8" stroke="#3c3c3c" stroke-width="0.8"/>
<text x="29.6" y="179.2" font-size="6.8" text-anchor="end" fill="#1e1e1e" stroke="#1e1e1e" stroke-width="0.22">-5</text>
<line x1="31" y1="195.5" x2="33.2" y2="195.5" stroke="#3c3c3c" stroke-width="0.8"/>
<text x="29.6" y="197.9" font-size="6.8" text-anchor="end" fill="#1e1e1e" stroke="#1e1e1e" stroke-width="0.22">-10</text>
<line x1="31" y1="214.2" x2="33.2" y2="214.2" stroke="#3c3c3c" stroke-width="0.8"/>
<text x="29.6" y="216.7" font-size="6.8" text-anchor="end" fill="#1e1e1e" stroke="#1e1e1e" stroke-width="0.22">-15</text>
<line x1="31" y1="233" x2="33.2" y2="233" stroke="#3c3c3c" stroke-width="0.8"/>
<text x="29.6" y="235.4" font-size="6.8" text-anchor="end" fill="#1e1e1e" stroke="#1e1e1e" stroke-width="0.22">-20</text>
<line x1="31" y1="251.8" x2="33.2" y2="251.8" stroke="#3c3c3c" stroke-width="0.8"/>
<text x="29.6" y="254.2" font-size="6.8" text-anchor="end" fill="#1e1e1e" stroke="#1e1e1e" stroke-width="0.22">-25</text>
<line x1="31" y1="270.5" x2="33.2" y2="270.5" stroke="#3c3c3c" stroke-width="0.8"/>
<text x="29.6" y="272.9" font-size="6.8" text-anchor="end" fill="#1e1e1e" stroke="#1e1e1e" stroke-width="0.22">-30</text>
<text x="56.5" y="278.6" font-size="6.8" text-anchor="middle" fill="#1e1e1e" stroke="#1e1e1e" stroke-width="0.22">Bi<tspan font-size="70%" dy="1.6">2</tspan><tspan dy="-1.6">&#8203;</tspan>Se<tspan font-size="70%" dy="1.6">3</tspan><tspan dy="-1.6">&#8203;</tspan></text>
<text x="102.8" y="278.6" font-size="6.8" text-anchor="middle" fill="#1e1e1e" stroke="#1e1e1e" stroke-width="0.22">PBI</text>
<text x="149.2" y="278.6" font-size="6.8" text-anchor="middle" fill="#1e1e1e" stroke="#1e1e1e" stroke-width="0.22">FPBI</text>
<text x="16.9" y="213.9" font-size="7.0" text-anchor="middle" fill="#1e1e1e" stroke="#1e1e1e" stroke-width="0.22" transform="rotate(-90 16.9 213.9)">Zeta potential (mV)</text>
<text x="193" y="154.4" font-size="12" text-anchor="start" fill="#111" stroke="#111" stroke-width="0.22" font-weight="bold">f</text>
<polyline points="207.3,267.7 207.7,267.5 208.1,267.7 208.6,267.2 208.6,267.3 209,267.3 209.4,267 209.8,266.6 210.2,267.3 210.6,267 211.1,267.2 211.5,266.3 211.9,266.3 212.3,266.1 212.7,266.5 213.1,267 213.6,266.8 214,266.6 214,266.6 214.4,266.8 214.8,266.4 215.2,266.6 215.6,266.5 216.1,265.7 216.5,266.2 216.9,266.7 217.3,266.2 217.7,266.2 218,266.1 218.1,266 218.6,266.5 219,266 219.4,265.7 219.8,265 220.2,265.7 220.6,265.2 221.1,265.2 221.4,265.8 221.5,265.8 221.9,264.4 222.3,264.5 222.3,264.5 222.7,263.6 222.9,263.7 223.1,263.6 223.6,264.5 223.6,264.9 224,264.7 224.4,265.3 224.8,264.6 225.2,264.7 225.6,264.8 226,265.1 226.1,265 226.5,265.3 226.9,264.9 227.3,264.7 227.7,264.9 228.1,265.1 228.6,264.8 229,265.1 229.4,265.6 229.8,264.8 230,265 230.2,265.4 230.6,264.8 231.1,264.7 231.5,264.6 231.9,265 232.3,265 232.7,264.8 233.1,264.9 233.6,265.2 234,265.1 234.3,264.7 234.4,263.6 234.8,258 234.8,258 235.1,245.4 235.2,245.3 235.4,245.6 235.6,254.1 235.7,257 236.1,259.5 236.3,261.6 236.5,261.3 236.9,261.4 237.3,261.2 237.7,261.1 238,261.5 238.1,261.2 238.6,261.5 239,261 239.4,261.4 239.8,260.8 240.2,261.2 240.6,261.1 241.1,261.4 241.5,261.3 241.9,261.2 242.3,261.5 242.7,261.3 243,261.2 243.1,261.4 243.6,261.2 244,261.1 244.4,261.2 244.8,261 245.2,261.2 245.6,261.4 246.1,261.4 246.5,261 246.6,261 246.9,260.2 247.2,259.2 247.3,259.8 247.7,260.6 247.8,261 248.1,261.2 248.6,260.8 249,260.9 249.4,261.5 249.8,261.4 250.2,261.2 250.4,261 250.6,260.1 251,259.6 251.1,259.7 251.5,260.7 251.6,260.8 251.9,260.9 252.3,260.9 252.7,261 253.1,261.4 253.6,261.1 254,260.5 254.4,260.8 254.8,260.6 255,261 255.2,261.3 255.6,261.2 256.1,261 256.5,261.2 256.9,260.9 257.3,260.8 257.7,260.8 258.1,261 258.6,261.7 259,260.9 259.4,261.7 259.4,261.4 259.8,254.9 260,252 260.2,241.6 260.4,236 260.6,236.3 260.7,236.2 261,251.1 261.1,252 261.5,256.8 261.6,258.2 261.9,258.1 262.3,258.2 262.7,257.8 263,258.1 263.1,258.1 263.6,257.8 264,258.7 264.4,257.8 264.8,257.8 265.2,258.2 265.6,257.5 266.1,257.8 266.5,257.6 266.9,257.8 267,258.1 267.3,258.2 267.7,258.5 268.1,258.4 268.6,258.6 269,258.4 269.4,258.2 269.8,258.7 270.2,258.2 270.6,258.2 271.1,258.9 271.4,258.6 271.5,258.6 271.9,258.8 272.3,258.8 272.7,258.2 273.1,258.6 273.6,258.3 274,258.7 274.4,258.5 274.8,259.2 275.2,259 275.6,258.6 276,258.9 276.1,258.5 276.5,258.9 276.9,259.1 277.3,259.1 277.7,258.4 278.1,259 278.6,259.2 279,259.2 279.4,259.5 279.8,258.8 280.2,259.4 280.6,259.1 281.1,259.4 281.5,259.5 281.9,259.6 282,259.3 282.3,259.5 282.7,259.1 283.1,259 283.6,259.7 284,259.5 284.4,259.1 284.8,259.3 285.2,259.6 285.6,260.1 286.1,260 286.5,260 286.9,259.2 287.3,259.8 287.7,260 288.1,260 288.6,260 289,259.8 289.4,260.5 289.8,260.4 290,260 290.2,259.7 290.6,260.7 291.1,259.9 291.5,260.5 291.9,260.7 292.3,259.9 292.7,260.3 293.1,260.2 293.6,260.4 294,260.4 294.4,261 294.8,260.6 295.2,260.4 295.6,260.8 296.1,260.4 296.5,260.4 296.9,261.3 297.3,260.4 297.7,260.5 298,260.7 298.1,260.4 298.6,260.1 299,261 299.4,260.5 299.8,260.6 300.2,260.6 300.6,260.4 301.1,260.4 301.5,260.8 301.9,261.5 302.3,261 302.7,261 303.1,260.3 303.6,260.8 303.6,260.7 304,260.2 304.4,259 304.6,258.6 304.8,258.1 305.2,257 305.4,256.7 305.6,257.2 306.1,257.1 306.5,257.6 306.5,258 306.9,257.8 307.3,258.2 307.7,258.4 308.1,258.3 308.6,258.3 309,258.3 309,258.4 309.4,257.8 309.8,258.5 310.2,258.1 310.6,258.1 311.1,258.5 311.5,258.4 311.9,258.7 312.3,258.9 312.7,258 313.1,258.7 313.6,259.3 314,259 314.4,259.3 314.8,258.9 315,258.8 315.2,258.6 315.6,259.2 316.1,259.3 316.5,258.8 316.9,259 317.3,259.2 317.7,258.7 318.1,259.1 318.6,259.8 319,260 319.4,259.4 319.8,260 320.2,259.3 320.6,259.3 321.1,258.9 321.5,259.9 321.9,259.6 322,259.9 322.3,259.8 322.7,259.8 323.1,259.2 323.6,260.2 324,259.7 324.4,259.8 324.8,259.2 325.2,260.2 325.6,260.2 326.1,259.7 326.5,260 326.9,260.1 327.3,260.3 327.7,260.1 328.1,260.6 328.6,260 328.6,260 329,259 329.4,257.3 329.6,257.5 329.8,257.8 330.2,257.5 330.6,257 331,257.2 331.1,256.6 331.5,257.2 331.9,257.5 332.3,257.7 332.7,257.3 333.1,257.9 333.6,258.3 334,257.7 334,257.9 334.4,257.3 334.8,257.2 335.2,257.9 335.6,257.7 336.1,257.7 336.5,257.5 336.9,257.6 337.3,257.9 337.7,258.1 338,257.6 338.1,257.1 338.6,257.9 339,257.6 339.4,257.6 339.8,257.4 340.2,258 340.6,257.3 341,257.2 341.1,256.6 341.5,256.9 341.9,256.8 342.3,256.9 342.7,257 343.1,256.6 343.6,257.3 344,256.3 344.4,256.6" fill="none" stroke="#f0824a" stroke-width="1.15" stroke-linejoin="round" stroke-linecap="round"/>
<polyline points="207.3,267.2 207.7,264.2 208.1,262.6 208.2,262.1 208.6,253.5 208.6,252.6 208.9,252.6 209,254.3 209.3,261.9 209.4,261.7 209.8,264.2 210,265.5 210.2,265.2 210.6,265.5 211.1,264 211.5,264.3 211.9,263.9 212,264.8 212.3,263.8 212.7,263.1 213.1,262.1 213.2,262.6 213.6,263.5 213.8,264.5 214,263.5 214.4,264.4 214.8,263.7 215.2,263.4 215.4,263.1 215.6,262.3 216.1,261.3 216.2,261.1 216.5,261.8 216.9,262.6 217,263 217.3,262.6 217.7,262.9 218.1,262.8 218.6,262.2 219,262.8 219,261.8 219.4,261 219.8,260.8 220.2,259 220.3,258.8 220.6,256.8 221.1,253.1 221.4,249.8 221.5,244.3 221.8,214.9 221.9,203 222.2,168 222.3,167.9 222.5,168.1 222.7,191.2 222.8,199.9 223.1,186.1 223.2,185.5 223.4,186.1 223.6,203.3 223.8,231.8 224,234 224.2,238 224.4,236.5 224.8,231.5 224.9,229.9 225.2,232.2 225.6,233.8 225.6,234.5 226.1,235.1 226.5,236.8 226.9,237.9 227,238 227.3,238.5 227.7,238.4 228.1,239.3 228.6,240.3 228.8,240.7 229,240.6 229.4,240.6 229.8,240.3 230.2,241.5 230.6,240.6 231,241.4 231.1,241.7 231.5,241.3 231.9,242.7 232.3,242.7 232.7,242.3 233.1,242.5 233.5,242.8 233.6,242.3 234,242.5 234.4,242 234.6,241.5 234.8,239.1 235.1,235.9 235.2,236.2 235.4,235.9 235.6,239 235.8,241.2 236.1,241.7 236.5,241.3 236.9,241.6 237.3,242.6 237.5,242.4 237.7,241.7 238.1,242.3 238.6,242.8 239,243.4 239.4,242.7 239.8,243.6 240,243.4 240.2,244.4 240.6,243.7 241.1,243.5 241.5,243.5 241.9,244.2 242.3,244.1 242.7,243.5 243.1,244.1 243.6,243.5 244,243.9 244,244 244.4,243.4 244.8,243.5 245.2,243.2 245.6,243.6 246,243.3 246.1,243 246.5,241.9 246.9,242 247.3,240.1 247.4,240.5 247.7,242 248.1,243.1 248.2,243.1 248.6,242.6 249,241.9 249.4,241.9 249.6,242.1 249.8,240.3 250.2,237.5 250.5,235.8 250.6,228.2 250.9,215.1 251.1,212.4 251.2,210.4 251.5,210.3 251.5,210.7 251.9,225.8 251.9,225.8 252.3,228.6 252.5,229.7 252.7,226.9 253.1,222.9 253.2,222.1 253.6,215.4 253.6,215.1 253.9,215.5 254,217.7 254.3,228.9 254.4,229.4 254.8,230.1 255.2,231.4 255.5,231.6 255.6,231.4 256.1,232.1 256.5,232.6 256.9,232.5 257.3,233.1 257.5,233.9 257.7,233.2 258.1,234.6 258.6,234.5 259,234.6 259.4,235.1 259.6,235.1 259.8,231.8 260.1,225.9 260.2,221 260.4,214 260.6,214.9 260.8,214.3 261,227.9 261.1,228.3 261.4,231.4 261.5,231.5 261.9,231.9 262.3,233 262.7,231.5 263,232.6 263.1,232.7 263.6,232.5 264,232.9 264.4,233 264.8,233.4 265.2,234 265.6,233.2 266,234.2 266.1,233.8 266.5,234.8 266.9,234.5 267.3,235 267.7,234.8 268.1,235.2 268.6,234.9 269,234.7 269.4,235.5 269.8,235.6 270,235.7 270.2,234.6 270.6,235.6 271.1,236.3 271.5,235.4 271.9,236 272.3,237.2 272.7,237.1 273.1,236.3 273.6,237.4 274,237.5 274,237.1 274.4,236.8 274.8,236.3 275,235.9 275.2,231.2 275.4,227.9 275.6,228 275.7,228.2 276.1,234.1 276.1,234.7 276.5,235.3 276.9,236 277.3,236.5 277.5,236.6 277.7,236.3 278.1,237.4 278.6,236.6 279,237.3 279.4,237.1 279.8,236.8 280.2,238 280.6,236.5 281.1,237.3 281.5,238 281.9,237.8 282,238.1 282.3,238 282.7,237.9 283.1,239 283.6,238.1 284,238.1 284.4,237.8 284.8,238 285.2,238.6 285.6,238.6 286.1,238.4 286.5,238.2 286.9,238.8 287.3,237.9 287.5,238.6 287.7,238.3 288.1,237.8 288.6,237.9 289,237.3 289,237.5 289.4,238.7 289.8,238.7 290.2,239.2 290.5,239 290.6,239.4 291.1,239.4 291.5,239.7 291.9,240.3 292.3,239.3 292.7,239.6 293.1,239.6 293.6,238.2 294,239.2 294.4,239.9 294.8,240.2 295,239.9 295.2,240.5 295.6,240.6 296.1,240 296.5,240.8 296.9,241 297.3,240.5 297.7,239.9 298.1,241 298.6,240.4 299,240.3 299.4,240.6 299.8,240.4 300,240.7 300.2,240.9 300.6,241.1 301.1,240.8 301.5,240.2 301.9,240.4 302.3,240.8 302.7,240.3 303.1,241.6 303.5,240.4 303.6,240.1 304,240.1 304.4,239.3 304.4,239 304.8,236.2 305,235.1 305.2,236.1 305.6,237.4 305.8,237.6 306.1,237.7 306.5,237.7 306.9,237.5 307.3,235.8 307.5,236.9 307.7,236.8 308.1,237.2 308.6,237.6 309,238.1 309.4,238.2 309.8,238.1 310,238.2 310.2,239 310.6,238.1 311.1,238.5 311.5,239.2 311.9,238.7 312.3,237.8 312.7,238.9 313.1,238.7 313.6,238.9 314,239.4 314.4,239.3 314.8,239.1 315,239.3 315.2,239.4 315.6,239.3 316.1,239.5 316.5,239.5 316.9,239.4 317.3,239.4 317.7,239.6 318.1,239.3 318.6,239.2 319,240.4 319.4,239.8 319.8,240 320,240 320.2,240 320.6,240 321.1,240 321.5,239.6 321.9,240.3 322.3,239.6 322.7,240.3 323.1,239.1 323.6,239.4 324,240.3 324.4,239.8 324.8,239.5 325,239.8 325.2,239.3 325.6,239.6 326.1,238.5 326.5,239.1 326.9,238.9 327.3,239.2 327.7,239.2 328.1,238.4 328.5,238.8 328.6,238.2 329,236.7 329.4,235.6 329.6,236.4 329.8,236.3 330.2,236.2 330.6,236.3 331,236.7 331.1,237.3 331.5,236.4 331.9,236.8 332.3,235.7 332.7,234.4 333,235.3 333.1,235 333.6,234.8 334,235.3 334.4,234.3 334.8,234.6 335.2,233.9 335.6,233.3 336,233.5 336.1,233.1 336.5,233.5 336.9,233 337.3,232.3 337.7,232.1 338.1,231.7 338.5,231.2 338.6,231.5 339,230.4 339.4,230.2 339.8,228.9 340.2,228.7 340.6,228.3 341,227.5 341.1,227.3 341.5,226.4 341.9,226.1 342.3,224.7 342.7,224.3 343,223.8 343.1,223.5 343.6,221.8 344,221.7 344.4,220.9" fill="none" stroke="#4f40ae" stroke-width="1.08" stroke-linejoin="round" stroke-linecap="round"/>
<rect x="206.2" y="158.7" width="143.2" height="110" fill="none" stroke="#3c3c3c" stroke-width="0.9"/>
<line x1="206.2" y1="268.7" x2="206.2" y2="270.9" stroke="#3c3c3c" stroke-width="0.8"/>
<text x="206.2" y="277.6" font-size="6.8" text-anchor="middle" fill="#1e1e1e" stroke="#1e1e1e" stroke-width="0.22">0</text>
<line x1="226.7" y1="268.7" x2="226.7" y2="270.9" stroke="#3c3c3c" stroke-width="0.8"/>
<text x="226.7" y="277.6" font-size="6.8" text-anchor="middle" fill="#1e1e1e" stroke="#1e1e1e" stroke-width="0.22">200</text>
<line x1="247.2" y1="268.7" x2="247.2" y2="270.9" stroke="#3c3c3c" stroke-width="0.8"/>
<text x="247.2" y="277.6" font-size="6.8" text-anchor="middle" fill="#1e1e1e" stroke="#1e1e1e" stroke-width="0.22">400</text>
<line x1="267.6" y1="268.7" x2="267.6" y2="270.9" stroke="#3c3c3c" stroke-width="0.8"/>
<text x="267.6" y="277.6" font-size="6.8" text-anchor="middle" fill="#1e1e1e" stroke="#1e1e1e" stroke-width="0.22">600</text>
<line x1="288.1" y1="268.7" x2="288.1" y2="270.9" stroke="#3c3c3c" stroke-width="0.8"/>
<text x="288.1" y="277.6" font-size="6.8" text-anchor="middle" fill="#1e1e1e" stroke="#1e1e1e" stroke-width="0.22">800</text>
<line x1="308.6" y1="268.7" x2="308.6" y2="270.9" stroke="#3c3c3c" stroke-width="0.8"/>
<text x="308.6" y="277.6" font-size="6.8" text-anchor="middle" fill="#1e1e1e" stroke="#1e1e1e" stroke-width="0.22">1000</text>
<line x1="329" y1="268.7" x2="329" y2="270.9" stroke="#3c3c3c" stroke-width="0.8"/>
<text x="329" y="277.6" font-size="6.8" text-anchor="middle" fill="#1e1e1e" stroke="#1e1e1e" stroke-width="0.22">1200</text>
<line x1="349.5" y1="268.7" x2="349.5" y2="270.9" stroke="#3c3c3c" stroke-width="0.8"/>
<text x="349.5" y="277.6" font-size="6.8" text-anchor="middle" fill="#1e1e1e" stroke="#1e1e1e" stroke-width="0.22">1400</text>
<line x1="204" y1="268.7" x2="206.2" y2="268.7" stroke="#3c3c3c" stroke-width="0.8"/>
<text x="202.6" y="271.1" font-size="6.8" text-anchor="end" fill="#1e1e1e" stroke="#1e1e1e" stroke-width="0.22">0</text>
<line x1="204" y1="251.8" x2="206.2" y2="251.8" stroke="#3c3c3c" stroke-width="0.8"/>
<text x="202.6" y="254.2" font-size="6.8" text-anchor="end" fill="#1e1e1e" stroke="#1e1e1e" stroke-width="0.22">20000</text>
<line x1="204" y1="234.8" x2="206.2" y2="234.8" stroke="#3c3c3c" stroke-width="0.8"/>
<text x="202.6" y="237.2" font-size="6.8" text-anchor="end" fill="#1e1e1e" stroke="#1e1e1e" stroke-width="0.22">40000</text>
<line x1="204" y1="217.9" x2="206.2" y2="217.9" stroke="#3c3c3c" stroke-width="0.8"/>
<text x="202.6" y="220.3" font-size="6.8" text-anchor="end" fill="#1e1e1e" stroke="#1e1e1e" stroke-width="0.22">60000</text>
<line x1="204" y1="200.9" x2="206.2" y2="200.9" stroke="#3c3c3c" stroke-width="0.8"/>
<text x="202.6" y="203.3" font-size="6.8" text-anchor="end" fill="#1e1e1e" stroke="#1e1e1e" stroke-width="0.22">80000</text>
<line x1="204" y1="184" x2="206.2" y2="184" stroke="#3c3c3c" stroke-width="0.8"/>
<text x="202.6" y="186.4" font-size="6.8" text-anchor="end" fill="#1e1e1e" stroke="#1e1e1e" stroke-width="0.22">100000</text>
<line x1="204" y1="167.1" x2="206.2" y2="167.1" stroke="#3c3c3c" stroke-width="0.8"/>
<text x="202.6" y="169.5" font-size="6.8" text-anchor="end" fill="#1e1e1e" stroke="#1e1e1e" stroke-width="0.22">120000</text>
<text x="178.9" y="213.1" font-size="7.1" text-anchor="middle" fill="#1e1e1e" stroke="#1e1e1e" stroke-width="0.22" transform="rotate(-90 178.9 213.1)">Counts/s</text>
<text x="278.3" y="285.2" font-size="7.1" text-anchor="middle" fill="#1e1e1e" stroke="#1e1e1e" stroke-width="0.22">Binding energy (eV)</text>
<text x="223.8" y="167.9" font-size="7.2" text-anchor="start" fill="#1e1e1e" stroke="#1e1e1e" stroke-width="0.22">S2p</text>
<line x1="227.6" y1="168.8" x2="224.2" y2="171.6" stroke="#111" stroke-width="0.6"/>
<polygon points="224.2,171.6 225,170 225.9,171.2" fill="#111"/>
<text x="251.2" y="207" font-size="7.2" text-anchor="start" fill="#1e1e1e" stroke="#1e1e1e" stroke-width="0.22">N1s</text>
<line x1="254.2" y1="207.8" x2="251.9" y2="210.6" stroke="#111" stroke-width="0.6"/>
<polygon points="251.9,210.6 252.3,208.9 253.5,209.8" fill="#111"/>
<text x="260.8" y="213" font-size="7.2" text-anchor="start" fill="#1e1e1e" stroke="#1e1e1e" stroke-width="0.22">O1s</text>
<line x1="263.2" y1="213.6" x2="261.2" y2="216.2" stroke="#111" stroke-width="0.6"/>
<polygon points="261.2,216.2 261.6,214.4 262.8,215.4" fill="#111"/>
<text x="224.5" y="227.2" font-size="7.2" text-anchor="start" fill="#1e1e1e" stroke="#1e1e1e" stroke-width="0.22">Cl2p</text>
<line x1="227.4" y1="228" x2="225.4" y2="230.6" stroke="#111" stroke-width="0.6"/>
<polygon points="225.4,230.6 225.8,228.8 227,229.8" fill="#111"/>
<text x="232" y="233.8" font-size="7.2" text-anchor="start" fill="#1e1e1e" stroke="#1e1e1e" stroke-width="0.22">C1s</text>
<line x1="237.4" y1="234.6" x2="235.8" y2="237" stroke="#111" stroke-width="0.6"/>
<polygon points="235.8,237 236.1,235.2 237.3,236.1" fill="#111"/>
<text x="206.6" y="244.6" font-size="7.2" text-anchor="start" fill="#1e1e1e" stroke="#1e1e1e" stroke-width="0.22">Se3d</text>
<line x1="210.6" y1="246" x2="209" y2="249.6" stroke="#111" stroke-width="0.6"/>
<polygon points="209,249.6 209,247.8 210.4,248.4" fill="#111"/>
<text x="210.2" y="253.8" font-size="7.2" text-anchor="start" fill="#1e1e1e" stroke="#1e1e1e" stroke-width="0.22">Bi4f</text>
<line x1="218.6" y1="255.6" x2="217" y2="259.4" stroke="#111" stroke-width="0.6"/>
<polygon points="217,259.4 216.9,257.6 218.3,258.2" fill="#111"/>
<line x1="306.2" y1="165.2" x2="320.9" y2="165.2" stroke="#8f83d2" stroke-width="1.6"/>
<text x="325" y="167.8" font-size="7" text-anchor="start" fill="#1e1e1e" stroke="#1e1e1e" stroke-width="0.22">FPBI</text>
<line x1="306.2" y1="173.2" x2="320.9" y2="173.2" stroke="#f2935e" stroke-width="1.15"/>
<text x="325" y="175.9" font-size="7" text-anchor="start" fill="#1e1e1e" stroke="#1e1e1e" stroke-width="0.22">Bi<tspan font-size="70%" dy="1.6">2</tspan><tspan dy="-1.6">&#8203;</tspan>Se<tspan font-size="70%" dy="1.6">3</tspan><tspan dy="-1.6">&#8203;</tspan></text>
<text x="357" y="153.4" font-size="12" text-anchor="start" fill="#111" stroke="#111" stroke-width="0.22">g</text>
<clipPath id="cg"><rect x="368.7" y="158.1" width="143.8" height="111.29999999999998"/></clipPath><g clip-path="url(#cg)">
<polygon points="369,230 369.5,230 370,230 370.4,230.1 370.9,230.1 371.4,230.2 371.9,230.6 372.4,230.9 372.8,231 373.3,231.1 373.8,231.2 374.3,231.3 374.7,231.3 375.2,231.4 375.7,231.4 376.2,231.4 376.7,231.5 377.1,231.5 377.6,231.5 378.1,231.5 378.6,231.5 379.1,231.5 379.5,231.5 380,231.5 380.5,231.5 381,231.5 381.5,231.5 381.9,231.6 382.4,231.6 382.9,231.6 383.4,231.6 383.8,231.6 384.3,231.6 384.8,231.7 385.3,231.7 385.8,231.7 386.2,231.8 386.7,231.8 387.2,231.9 387.7,231.9 388.2,231.9 388.6,232 389.1,232 389.6,232 390.1,232 390.6,232.1 391,232.1 391.5,232 392,232 392.5,232 392.9,232 393.4,231.9 393.9,231.9 394.4,231.8 394.9,231.7 395.3,231.5 395.8,231.4 396.3,231.2 396.8,230.9 397.3,230.7 397.7,230.4 398.2,230.1 398.7,229.7 399.2,229.3 399.7,228.8 400.1,228.3 400.6,227.7 401.1,227.1 401.6,226.4 402,225.7 402.5,224.9 403,224 403.5,223.1 404,222.2 404.4,221.2 404.9,220.1 405.4,219 405.9,217.9 406.4,216.7 406.8,215.5 407.3,214.3 407.8,213 408.3,211.8 408.8,210.6 409.2,209.4 409.7,208.2 410.2,207 410.7,205.9 411.1,204.9 411.6,204 412.1,203.1 412.6,202.3 413.1,201.7 413.5,201.1 414,200.7 414.5,200.4 415,200.3 415.5,200.2 415.9,200.4 416.4,200.6 416.9,200.9 417.4,201.4 417.9,202 418.3,202.7 418.8,203.5 419.3,204.4 419.8,205.4 420.2,206.4 420.7,207.5 421.2,208.7 421.7,209.9 422.2,211.2 422.6,212.5 423.1,213.8 423.6,215.2 424.1,216.5 424.6,217.8 425,219.2 425.5,220.5 426,221.8 426.5,223.1 427,224.3 427.4,225.5 427.9,226.7 428.4,227.8 428.9,228.9 429.3,230 429.8,230.9 430.3,231.9 430.8,232.8 431.3,233.6 431.7,234.4 432.2,235.1 432.7,235.8 433.2,236.5 433.7,237.1 434.1,237.6 434.6,238.1 435.1,238.6 435.6,239 436.1,239.4 436.5,239.8 437,240.1 437.5,240.4 438,240.7 438.4,241 438.9,241.2 439.4,241.4 439.9,241.6 440.4,241.8 440.8,242 441.3,242.1 441.8,242.2 442.3,242.4 442.8,242.5 443.2,242.6 443.7,242.7 444.2,242.8 444.7,242.9 445.1,243 445.6,243.1 446.1,243.2 446.6,243.3 447.1,243.3 447.5,243.4 448,243.5 448.5,243.5 449,243.6 449.5,243.7 449.9,243.7 450.4,243.8 450.9,243.9 451.4,244 451.9,244 452.3,244.1 452.8,244.2 453.3,244.3 453.8,244.4 454.2,244.4 454.7,244.5 455.2,244.7 455.7,244.8 456.2,244.9 456.6,245 457.1,245.1 457.6,245.3 458.1,245.4 458.6,245.6 459,245.7 459.5,245.8 460,246 460.5,246.1 461,246.3 461.4,246.4 461.9,246.6 462.4,246.7 462.9,246.8 463.3,247 463.8,247.2 464.3,247.3 464.8,247.5 465.3,247.6 465.7,247.8 466.2,248 466.7,248.1 467.2,248.3 467.7,248.5 468.1,248.6 468.6,248.8 469.1,249 469.6,249.1 470.1,249.3 470.5,249.4 471,249.6 471.5,249.7 472,249.9 472.4,250 472.9,250.1 473.4,250.3 473.9,250.4 474.4,250.5 474.8,250.7 475.3,250.8 475.8,250.9 476.3,251 476.8,251.2 477.2,251.3 477.7,251.4 478.2,251.5 478.7,251.6 479.2,251.7 479.6,251.8 480.1,251.9 480.6,252 481.1,252.1 481.5,252.2 482,252.3 482.5,252.4 483,252.5 483.5,252.5 483.9,252.6 484.4,252.7 484.9,252.8 485.4,252.9 485.9,252.9 486.3,253 486.8,253.1 487.3,253.2 487.8,253.2 488.3,253.3 488.7,253.3 489.2,253.4 489.7,253.5 490.2,253.5 490.6,253.5 491.1,253.6 491.6,253.6 492.1,253.7 492.6,253.7 493,253.8 493.5,253.8 494,253.8 494.5,253.9 495,253.9 495.4,254 495.9,254 496.4,254 496.9,254 497.4,254.1 497.8,254.1 498.3,254.1 498.8,254.2 499.3,254.2 499.7,254.2 500.2,254.2 500.7,254.3 501.2,254.3 501.7,254.3 502.1,254.3 502.6,254.4 503.1,254.4 503.6,254.4 504.1,254.4 504.5,254.5 505,254.5 505.5,254.5 506,254.5 506.5,254.5 506.9,254.6 507.4,254.6 507.9,254.6 508.4,254.6 508.8,254.6 509.3,254.7 509.8,254.7 510.3,254.7 510.8,254.7 511.2,254.7 511.7,254.7 512.2,254.7 512.2,254.8 511.7,254.8 511.2,254.8 510.8,254.8 510.3,254.7 509.8,254.7 509.3,254.7 508.8,254.7 508.4,254.7 507.9,254.7 507.4,254.6 506.9,254.6 506.5,254.6 506,254.6 505.5,254.6 505,254.5 504.5,254.5 504.1,254.5 503.6,254.5 503.1,254.5 502.6,254.4 502.1,254.4 501.7,254.4 501.2,254.4 500.7,254.3 500.2,254.3 499.7,254.3 499.3,254.3 498.8,254.2 498.3,254.2 497.8,254.2 497.4,254.2 496.9,254.1 496.4,254.1 495.9,254.1 495.4,254 495,254 494.5,254 494,253.9 493.5,253.9 493,253.8 492.6,253.8 492.1,253.8 491.6,253.7 491.1,253.7 490.6,253.6 490.2,253.6 489.7,253.5 489.2,253.5 488.7,253.4 488.3,253.4 487.8,253.3 487.3,253.2 486.8,253.2 486.3,253.1 485.9,253 485.4,253 484.9,252.9 484.4,252.8 483.9,252.7 483.5,252.6 483,252.6 482.5,252.5 482,252.4 481.5,252.3 481.1,252.2 480.6,252.1 480.1,252 479.6,251.9 479.2,251.8 478.7,251.7 478.2,251.6 477.7,251.5 477.2,251.4 476.8,251.3 476.3,251.2 475.8,251 475.3,250.9 474.8,250.8 474.4,250.7 473.9,250.5 473.4,250.4 472.9,250.3 472.4,250.2 472,250 471.5,249.9 471,249.7 470.5,249.6 470.1,249.4 469.6,249.3 469.1,249.1 468.6,249 468.1,248.8 467.7,248.7 467.2,248.5 466.7,248.3 466.2,248.2 465.7,248 465.3,247.8 464.8,247.7 464.3,247.5 463.8,247.4 463.3,247.2 462.9,247.1 462.4,246.9 461.9,246.8 461.4,246.6 461,246.5 460.5,246.4 460,246.2 459.5,246.1 459,245.9 458.6,245.8 458.1,245.7 457.6,245.5 457.1,245.4 456.6,245.3 456.2,245.2 455.7,245.1 455.2,244.9 454.7,244.8 454.2,244.8 453.8,244.7 453.3,244.6 452.8,244.5 452.3,244.4 451.9,244.4 451.4,244.3 450.9,244.2 450.4,244.2 449.9,244.1 449.5,244.1 449,244 448.5,244 448,243.9 447.5,243.9 447.1,243.8 446.6,243.8 446.1,243.7 445.6,243.7 445.1,243.6 444.7,243.6 444.2,243.5 443.7,243.4 443.2,243.4 442.8,243.3 442.3,243.3 441.8,243.2 441.3,243.2 440.8,243.1 440.4,243.1 439.9,243 439.4,243 438.9,242.9 438.4,242.8 438,242.8 437.5,242.7 437,242.7 436.5,242.6 436.1,242.5 435.6,242.5 435.1,242.4 434.6,242.3 434.1,242.3 433.7,242.2 433.2,242.1 432.7,242 432.2,242 431.7,241.9 431.3,241.8 430.8,241.7 430.3,241.6 429.8,241.5 429.3,241.4 428.9,241.4 428.4,241.3 427.9,241.2 427.4,241.1 427,241 426.5,240.9 426,240.8 425.5,240.7 425,240.6 424.6,240.5 424.1,240.4 423.6,240.3 423.1,240.2 422.6,240.1 422.2,240 421.7,239.9 421.2,239.8 420.7,239.7 420.2,239.6 419.8,239.5 419.3,239.3 418.8,239.2 418.3,239.1 417.9,239 417.4,238.9 416.9,238.8 416.4,238.7 415.9,238.5 415.5,238.4 415,238.3 414.5,238.2 414,238 413.5,237.9 413.1,237.8 412.6,237.7 412.1,237.5 411.6,237.4 411.1,237.3 410.7,237.2 410.2,237.1 409.7,237 409.2,236.9 408.8,236.8 408.3,236.6 407.8,236.5 407.3,236.4 406.8,236.3 406.4,236.2 405.9,236.1 405.4,236 404.9,235.9 404.4,235.8 404,235.7 403.5,235.5 403,235.4 402.5,235.3 402,235.2 401.6,235.1 401.1,235 400.6,234.8 400.1,234.7 399.7,234.6 399.2,234.5 398.7,234.4 398.2,234.3 397.7,234.2 397.3,234.1 396.8,234 396.3,233.9 395.8,233.8 395.3,233.7 394.9,233.6 394.4,233.5 393.9,233.5 393.4,233.4 392.9,233.3 392.5,233.2 392,233.1 391.5,233 391,233 390.6,232.9 390.1,232.8 389.6,232.7 389.1,232.7 388.6,232.6 388.2,232.5 387.7,232.4 387.2,232.4 386.7,232.3 386.2,232.2 385.8,232.2 385.3,232.1 384.8,232.1 384.3,232 383.8,232 383.4,232 382.9,231.9 382.4,231.9 381.9,231.9 381.5,231.9 381,231.9 380.5,231.8 380,231.8 379.5,231.8 379.1,231.8 378.6,231.8 378.1,231.8 377.6,231.8 377.1,231.7 376.7,231.7 376.2,231.7 375.7,231.7 375.2,231.6 374.7,231.6 374.3,231.5 373.8,231.5 373.3,231.4 372.8,231.3 372.4,231.1 371.9,230.8 371.4,230.4 370.9,230.3 370.4,230.3 370,230.2 369.5,230.2 369,230.2" fill="url(#gpu)" opacity="1.0"/>
<polyline points="369,230 369.5,230 370,230 370.4,230.1 370.9,230.1 371.4,230.2 371.9,230.6 372.4,230.9 372.8,231 373.3,231.1 373.8,231.2 374.3,231.3 374.7,231.3 375.2,231.4 375.7,231.4 376.2,231.4 376.7,231.5 377.1,231.5 377.6,231.5 378.1,231.5 378.6,231.5 379.1,231.5 379.5,231.5 380,231.5 380.5,231.5 381,231.5 381.5,231.5 381.9,231.6 382.4,231.6 382.9,231.6 383.4,231.6 383.8,231.6 384.3,231.6 384.8,231.7 385.3,231.7 385.8,231.7 386.2,231.8 386.7,231.8 387.2,231.9 387.7,231.9 388.2,231.9 388.6,232 389.1,232 389.6,232 390.1,232 390.6,232.1 391,232.1 391.5,232 392,232 392.5,232 392.9,232 393.4,231.9 393.9,231.9 394.4,231.8 394.9,231.7 395.3,231.5 395.8,231.4 396.3,231.2 396.8,230.9 397.3,230.7 397.7,230.4 398.2,230.1 398.7,229.7 399.2,229.3 399.7,228.8 400.1,228.3 400.6,227.7 401.1,227.1 401.6,226.4 402,225.7 402.5,224.9 403,224 403.5,223.1 404,222.2 404.4,221.2 404.9,220.1 405.4,219 405.9,217.9 406.4,216.7 406.8,215.5 407.3,214.3 407.8,213 408.3,211.8 408.8,210.6 409.2,209.4 409.7,208.2 410.2,207 410.7,205.9 411.1,204.9 411.6,204 412.1,203.1 412.6,202.3 413.1,201.7 413.5,201.1 414,200.7 414.5,200.4 415,200.3 415.5,200.2 415.9,200.4 416.4,200.6 416.9,200.9 417.4,201.4 417.9,202 418.3,202.7 418.8,203.5 419.3,204.4 419.8,205.4 420.2,206.4 420.7,207.5 421.2,208.7 421.7,209.9 422.2,211.2 422.6,212.5 423.1,213.8 423.6,215.2 424.1,216.5 424.6,217.8 425,219.2 425.5,220.5 426,221.8 426.5,223.1 427,224.3 427.4,225.5 427.9,226.7 428.4,227.8 428.9,228.9 429.3,230 429.8,230.9 430.3,231.9 430.8,232.8 431.3,233.6 431.7,234.4 432.2,235.1 432.7,235.8 433.2,236.5 433.7,237.1 434.1,237.6 434.6,238.1 435.1,238.6 435.6,239 436.1,239.4 436.5,239.8 437,240.1 437.5,240.4 438,240.7 438.4,241 438.9,241.2 439.4,241.4 439.9,241.6 440.4,241.8 440.8,242 441.3,242.1 441.8,242.2 442.3,242.4 442.8,242.5 443.2,242.6 443.7,242.7 444.2,242.8 444.7,242.9 445.1,243 445.6,243.1 446.1,243.2 446.6,243.3 447.1,243.3 447.5,243.4 448,243.5 448.5,243.5 449,243.6 449.5,243.7 449.9,243.7 450.4,243.8 450.9,243.9 451.4,244 451.9,244 452.3,244.1 452.8,244.2 453.3,244.3 453.8,244.4 454.2,244.4 454.7,244.5 455.2,244.7 455.7,244.8 456.2,244.9 456.6,245 457.1,245.1 457.6,245.3 458.1,245.4 458.6,245.6 459,245.7 459.5,245.8 460,246 460.5,246.1 461,246.3 461.4,246.4 461.9,246.6 462.4,246.7 462.9,246.8 463.3,247 463.8,247.2 464.3,247.3 464.8,247.5 465.3,247.6 465.7,247.8 466.2,248 466.7,248.1 467.2,248.3 467.7,248.5 468.1,248.6 468.6,248.8 469.1,249 469.6,249.1 470.1,249.3 470.5,249.4 471,249.6 471.5,249.7 472,249.9 472.4,250 472.9,250.1 473.4,250.3 473.9,250.4 474.4,250.5 474.8,250.7 475.3,250.8 475.8,250.9 476.3,251 476.8,251.2 477.2,251.3 477.7,251.4 478.2,251.5 478.7,251.6 479.2,251.7 479.6,251.8 480.1,251.9 480.6,252 481.1,252.1 481.5,252.2 482,252.3 482.5,252.4 483,252.5 483.5,252.5 483.9,252.6 484.4,252.7 484.9,252.8 485.4,252.9 485.9,252.9 486.3,253 486.8,253.1 487.3,253.2 487.8,253.2 488.3,253.3 488.7,253.3 489.2,253.4 489.7,253.5 490.2,253.5 490.6,253.5 491.1,253.6 491.6,253.6 492.1,253.7 492.6,253.7 493,253.8 493.5,253.8 494,253.8 494.5,253.9 495,253.9 495.4,254 495.9,254 496.4,254 496.9,254 497.4,254.1 497.8,254.1 498.3,254.1 498.8,254.2 499.3,254.2 499.7,254.2 500.2,254.2 500.7,254.3 501.2,254.3 501.7,254.3 502.1,254.3 502.6,254.4 503.1,254.4 503.6,254.4 504.1,254.4 504.5,254.5 505,254.5 505.5,254.5 506,254.5 506.5,254.5 506.9,254.6 507.4,254.6 507.9,254.6 508.4,254.6 508.8,254.6 509.3,254.7 509.8,254.7 510.3,254.7 510.8,254.7 511.2,254.7 511.7,254.7 512.2,254.7" fill="none" stroke="#5a48a8" stroke-width="0.5" opacity="1.0"/>
<polygon points="369,229.3 369.5,229.3 370,229.3 370.4,229.3 370.9,229.3 371.4,229.4 371.9,229.6 372.4,229.9 372.8,230 373.3,230 373.8,230 374.3,230 374.7,230 375.2,229.9 375.7,229.8 376.2,229.7 376.7,229.5 377.1,229.4 377.6,229.2 378.1,228.9 378.6,228.7 379.1,228.4 379.5,228.1 380,227.7 380.5,227.3 381,226.8 381.5,226.3 381.9,225.7 382.4,225.1 382.9,224.5 383.4,223.7 383.8,222.9 384.3,222.1 384.8,221.1 385.3,220.2 385.8,219.1 386.2,218 386.7,216.8 387.2,215.5 387.7,214.2 388.2,212.8 388.6,211.4 389.1,209.9 389.6,208.3 390.1,206.8 390.6,205.2 391,203.5 391.5,201.9 392,200.3 392.5,198.7 392.9,197.1 393.4,195.6 393.9,194.2 394.4,192.8 394.9,191.5 395.3,190.4 395.8,189.4 396.3,188.5 396.8,187.7 397.3,187.2 397.7,186.8 398.2,186.6 398.7,186.6 399.2,186.8 399.7,187.3 400.1,188.1 400.6,189 401.1,190.2 401.6,191.6 402,193.2 402.5,194.9 403,196.7 403.5,198.6 404,200.6 404.4,202.7 404.9,204.8 405.4,206.9 405.9,208.9 406.4,211 406.8,212.9 407.3,214.9 407.8,216.7 408.3,218.5 408.8,220.2 409.2,221.9 409.7,223.4 410.2,224.8 410.7,226.1 411.1,227.4 411.6,228.5 412.1,229.6 412.6,230.5 413.1,231.4 413.5,232.2 414,233 414.5,233.7 415,234.3 415.5,234.8 415.9,235.3 416.4,235.8 416.9,236.2 417.4,236.5 417.9,236.9 418.3,237.2 418.8,237.4 419.3,237.7 419.8,237.9 420.2,238.2 420.7,238.4 421.2,238.6 421.7,238.7 422.2,238.9 422.6,239.1 423.1,239.2 423.6,239.4 424.1,239.5 424.6,239.6 425,239.8 425.5,239.9 426,240 426.5,240.2 427,240.3 427.4,240.4 427.9,240.5 428.4,240.6 428.9,240.7 429.3,240.8 429.8,240.9 430.3,241 430.8,241.2 431.3,241.3 431.7,241.4 432.2,241.4 432.7,241.5 433.2,241.6 433.7,241.7 434.1,241.8 434.6,241.9 435.1,242 435.6,242.1 436.1,242.1 436.5,242.2 437,242.3 437.5,242.3 438,242.4 438.4,242.5 438.9,242.5 439.4,242.6 439.9,242.7 440.4,242.7 440.8,242.8 441.3,242.9 441.8,242.9 442.3,243 442.8,243 443.2,243.1 443.7,243.2 444.2,243.2 444.7,243.3 445.1,243.3 445.6,243.4 446.1,243.5 446.6,243.5 447.1,243.6 447.5,243.6 448,243.7 448.5,243.7 449,243.8 449.5,243.9 449.9,243.9 450.4,244 450.9,244 451.4,244.1 451.9,244.2 452.3,244.2 452.8,244.3 453.3,244.4 453.8,244.5 454.2,244.6 454.7,244.7 455.2,244.8 455.7,244.9 456.2,245 456.6,245.1 457.1,245.2 457.6,245.4 458.1,245.5 458.6,245.6 459,245.8 459.5,245.9 460,246.1 460.5,246.2 461,246.3 461.4,246.5 461.9,246.6 462.4,246.8 462.9,246.9 463.3,247.1 463.8,247.2 464.3,247.4 464.8,247.5 465.3,247.7 465.7,247.9 466.2,248 466.7,248.2 467.2,248.4 467.7,248.5 468.1,248.7 468.6,248.9 469.1,249 469.6,249.2 470.1,249.3 470.5,249.5 471,249.6 471.5,249.8 472,249.9 472.4,250 472.9,250.2 473.4,250.3 473.9,250.4 474.4,250.6 474.8,250.7 475.3,250.8 475.8,250.9 476.3,251.1 476.8,251.2 477.2,251.3 477.7,251.4 478.2,251.5 478.7,251.6 479.2,251.7 479.6,251.8 480.1,251.9 480.6,252 481.1,252.1 481.5,252.2 482,252.3 482.5,252.4 483,252.5 483.5,252.6 483.9,252.6 484.4,252.7 484.9,252.8 485.4,252.9 485.9,253 486.3,253 486.8,253.1 487.3,253.2 487.8,253.2 488.3,253.3 488.7,253.4 489.2,253.4 489.7,253.5 490.2,253.5 490.6,253.6 491.1,253.6 491.6,253.7 492.1,253.7 492.6,253.7 493,253.8 493.5,253.8 494,253.9 494.5,253.9 495,253.9 495.4,254 495.9,254 496.4,254 496.9,254.1 497.4,254.1 497.8,254.1 498.3,254.1 498.8,254.2 499.3,254.2 499.7,254.2 500.2,254.3 500.7,254.3 501.2,254.3 501.7,254.3 502.1,254.4 502.6,254.4 503.1,254.4 503.6,254.4 504.1,254.4 504.5,254.5 505,254.5 505.5,254.5 506,254.5 506.5,254.6 506.9,254.6 507.4,254.6 507.9,254.6 508.4,254.6 508.8,254.6 509.3,254.7 509.8,254.7 510.3,254.7 510.8,254.7 511.2,254.7 511.7,254.7 512.2,254.7 512.2,254.8 511.7,254.8 511.2,254.8 510.8,254.8 510.3,254.7 509.8,254.7 509.3,254.7 508.8,254.7 508.4,254.7 507.9,254.7 507.4,254.6 506.9,254.6 506.5,254.6 506,254.6 505.5,254.6 505,254.5 504.5,254.5 504.1,254.5 503.6,254.5 503.1,254.5 502.6,254.4 502.1,254.4 501.7,254.4 501.2,254.4 500.7,254.3 500.2,254.3 499.7,254.3 499.3,254.3 498.8,254.2 498.3,254.2 497.8,254.2 497.4,254.2 496.9,254.1 496.4,254.1 495.9,254.1 495.4,254 495,254 494.5,254 494,253.9 493.5,253.9 493,253.8 492.6,253.8 492.1,253.8 491.6,253.7 491.1,253.7 490.6,253.6 490.2,253.6 489.7,253.5 489.2,253.5 488.7,253.4 488.3,253.4 487.8,253.3 487.3,253.2 486.8,253.2 486.3,253.1 485.9,253 485.4,253 484.9,252.9 484.4,252.8 483.9,252.7 483.5,252.6 483,252.6 482.5,252.5 482,252.4 481.5,252.3 481.1,252.2 480.6,252.1 480.1,252 479.6,251.9 479.2,251.8 478.7,251.7 478.2,251.6 477.7,251.5 477.2,251.4 476.8,251.3 476.3,251.2 475.8,251 475.3,250.9 474.8,250.8 474.4,250.7 473.9,250.5 473.4,250.4 472.9,250.3 472.4,250.2 472,250 471.5,249.9 471,249.7 470.5,249.6 470.1,249.4 469.6,249.3 469.1,249.1 468.6,249 468.1,248.8 467.7,248.7 467.2,248.5 466.7,248.3 466.2,248.2 465.7,248 465.3,247.8 464.8,247.7 464.3,247.5 463.8,247.4 463.3,247.2 462.9,247.1 462.4,246.9 461.9,246.8 461.4,246.6 461,246.5 460.5,246.4 460,246.2 459.5,246.1 459,245.9 458.6,245.8 458.1,245.7 457.6,245.5 457.1,245.4 456.6,245.3 456.2,245.2 455.7,245.1 455.2,244.9 454.7,244.8 454.2,244.8 453.8,244.7 453.3,244.6 452.8,244.5 452.3,244.4 451.9,244.4 451.4,244.3 450.9,244.2 450.4,244.2 449.9,244.1 449.5,244.1 449,244 448.5,244 448,243.9 447.5,243.9 447.1,243.8 446.6,243.8 446.1,243.7 445.6,243.7 445.1,243.6 444.7,243.6 444.2,243.5 443.7,243.4 443.2,243.4 442.8,243.3 442.3,243.3 441.8,243.2 441.3,243.2 440.8,243.1 440.4,243.1 439.9,243 439.4,243 438.9,242.9 438.4,242.8 438,242.8 437.5,242.7 437,242.7 436.5,242.6 436.1,242.5 435.6,242.5 435.1,242.4 434.6,242.3 434.1,242.3 433.7,242.2 433.2,242.1 432.7,242 432.2,242 431.7,241.9 431.3,241.8 430.8,241.7 430.3,241.6 429.8,241.5 429.3,241.4 428.9,241.4 428.4,241.3 427.9,241.2 427.4,241.1 427,241 426.5,240.9 426,240.8 425.5,240.7 425,240.6 424.6,240.5 424.1,240.4 423.6,240.3 423.1,240.2 422.6,240.1 422.2,240 421.7,239.9 421.2,239.8 420.7,239.7 420.2,239.6 419.8,239.5 419.3,239.3 418.8,239.2 418.3,239.1 417.9,239 417.4,238.9 416.9,238.8 416.4,238.7 415.9,238.5 415.5,238.4 415,238.3 414.5,238.2 414,238 413.5,237.9 413.1,237.8 412.6,237.7 412.1,237.5 411.6,237.4 411.1,237.3 410.7,237.2 410.2,237.1 409.7,237 409.2,236.9 408.8,236.8 408.3,236.6 407.8,236.5 407.3,236.4 406.8,236.3 406.4,236.2 405.9,236.1 405.4,236 404.9,235.9 404.4,235.8 404,235.7 403.5,235.5 403,235.4 402.5,235.3 402,235.2 401.6,235.1 401.1,235 400.6,234.8 400.1,234.7 399.7,234.6 399.2,234.5 398.7,234.4 398.2,234.3 397.7,234.2 397.3,234.1 396.8,234 396.3,233.9 395.8,233.8 395.3,233.7 394.9,233.6 394.4,233.5 393.9,233.5 393.4,233.4 392.9,233.3 392.5,233.2 392,233.1 391.5,233 391,233 390.6,232.9 390.1,232.8 389.6,232.7 389.1,232.7 388.6,232.6 388.2,232.5 387.7,232.4 387.2,232.4 386.7,232.3 386.2,232.2 385.8,232.2 385.3,232.1 384.8,232.1 384.3,232 383.8,232 383.4,232 382.9,231.9 382.4,231.9 381.9,231.9 381.5,231.9 381,231.9 380.5,231.8 380,231.8 379.5,231.8 379.1,231.8 378.6,231.8 378.1,231.8 377.6,231.8 377.1,231.7 376.7,231.7 376.2,231.7 375.7,231.7 375.2,231.6 374.7,231.6 374.3,231.5 373.8,231.5 373.3,231.4 372.8,231.3 372.4,231.1 371.9,230.8 371.4,230.4 370.9,230.3 370.4,230.3 370,230.2 369.5,230.2 369,230.2" fill="url(#gor)" opacity="1.0"/>
<polyline points="369,229.3 369.5,229.3 370,229.3 370.4,229.3 370.9,229.3 371.4,229.4 371.9,229.6 372.4,229.9 372.8,230 373.3,230 373.8,230 374.3,230 374.7,230 375.2,229.9 375.7,229.8 376.2,229.7 376.7,229.5 377.1,229.4 377.6,229.2 378.1,228.9 378.6,228.7 379.1,228.4 379.5,228.1 380,227.7 380.5,227.3 381,226.8 381.5,226.3 381.9,225.7 382.4,225.1 382.9,224.5 383.4,223.7 383.8,222.9 384.3,222.1 384.8,221.1 385.3,220.2 385.8,219.1 386.2,218 386.7,216.8 387.2,215.5 387.7,214.2 388.2,212.8 388.6,211.4 389.1,209.9 389.6,208.3 390.1,206.8 390.6,205.2 391,203.5 391.5,201.9 392,200.3 392.5,198.7 392.9,197.1 393.4,195.6 393.9,194.2 394.4,192.8 394.9,191.5 395.3,190.4 395.8,189.4 396.3,188.5 396.8,187.7 397.3,187.2 397.7,186.8 398.2,186.6 398.7,186.6 399.2,186.8 399.7,187.3 400.1,188.1 400.6,189 401.1,190.2 401.6,191.6 402,193.2 402.5,194.9 403,196.7 403.5,198.6 404,200.6 404.4,202.7 404.9,204.8 405.4,206.9 405.9,208.9 406.4,211 406.8,212.9 407.3,214.9 407.8,216.7 408.3,218.5 408.8,220.2 409.2,221.9 409.7,223.4 410.2,224.8 410.7,226.1 411.1,227.4 411.6,228.5 412.1,229.6 412.6,230.5 413.1,231.4 413.5,232.2 414,233 414.5,233.7 415,234.3 415.5,234.8 415.9,235.3 416.4,235.8 416.9,236.2 417.4,236.5 417.9,236.9 418.3,237.2 418.8,237.4 419.3,237.7 419.8,237.9 420.2,238.2 420.7,238.4 421.2,238.6 421.7,238.7 422.2,238.9 422.6,239.1 423.1,239.2 423.6,239.4 424.1,239.5 424.6,239.6 425,239.8 425.5,239.9 426,240 426.5,240.2 427,240.3 427.4,240.4 427.9,240.5 428.4,240.6 428.9,240.7 429.3,240.8 429.8,240.9 430.3,241 430.8,241.2 431.3,241.3 431.7,241.4 432.2,241.4 432.7,241.5 433.2,241.6 433.7,241.7 434.1,241.8 434.6,241.9 435.1,242 435.6,242.1 436.1,242.1 436.5,242.2 437,242.3 437.5,242.3 438,242.4 438.4,242.5 438.9,242.5 439.4,242.6 439.9,242.7 440.4,242.7 440.8,242.8 441.3,242.9 441.8,242.9 442.3,243 442.8,243 443.2,243.1 443.7,243.2 444.2,243.2 444.7,243.3 445.1,243.3 445.6,243.4 446.1,243.5 446.6,243.5 447.1,243.6 447.5,243.6 448,243.7 448.5,243.7 449,243.8 449.5,243.9 449.9,243.9 450.4,244 450.9,244 451.4,244.1 451.9,244.2 452.3,244.2 452.8,244.3 453.3,244.4 453.8,244.5 454.2,244.6 454.7,244.7 455.2,244.8 455.7,244.9 456.2,245 456.6,245.1 457.1,245.2 457.6,245.4 458.1,245.5 458.6,245.6 459,245.8 459.5,245.9 460,246.1 460.5,246.2 461,246.3 461.4,246.5 461.9,246.6 462.4,246.8 462.9,246.9 463.3,247.1 463.8,247.2 464.3,247.4 464.8,247.5 465.3,247.7 465.7,247.9 466.2,248 466.7,248.2 467.2,248.4 467.7,248.5 468.1,248.7 468.6,248.9 469.1,249 469.6,249.2 470.1,249.3 470.5,249.5 471,249.6 471.5,249.8 472,249.9 472.4,250 472.9,250.2 473.4,250.3 473.9,250.4 474.4,250.6 474.8,250.7 475.3,250.8 475.8,250.9 476.3,251.1 476.8,251.2 477.2,251.3 477.7,251.4 478.2,251.5 478.7,251.6 479.2,251.7 479.6,251.8 480.1,251.9 480.6,252 481.1,252.1 481.5,252.2 482,252.3 482.5,252.4 483,252.5 483.5,252.6 483.9,252.6 484.4,252.7 484.9,252.8 485.4,252.9 485.9,253 486.3,253 486.8,253.1 487.3,253.2 487.8,253.2 488.3,253.3 488.7,253.4 489.2,253.4 489.7,253.5 490.2,253.5 490.6,253.6 491.1,253.6 491.6,253.7 492.1,253.7 492.6,253.7 493,253.8 493.5,253.8 494,253.9 494.5,253.9 495,253.9 495.4,254 495.9,254 496.4,254 496.9,254.1 497.4,254.1 497.8,254.1 498.3,254.1 498.8,254.2 499.3,254.2 499.7,254.2 500.2,254.3 500.7,254.3 501.2,254.3 501.7,254.3 502.1,254.4 502.6,254.4 503.1,254.4 503.6,254.4 504.1,254.4 504.5,254.5 505,254.5 505.5,254.5 506,254.5 506.5,254.6 506.9,254.6 507.4,254.6 507.9,254.6 508.4,254.6 508.8,254.6 509.3,254.7 509.8,254.7 510.3,254.7 510.8,254.7 511.2,254.7 511.7,254.7 512.2,254.7" fill="none" stroke="#e8702a" stroke-width="0.5" opacity="1.0"/>
<polygon points="369,230.1 369.5,230.1 370,230.1 370.4,230.2 370.9,230.2 371.4,230.3 371.9,230.7 372.4,231 372.8,231.1 373.3,231.3 373.8,231.3 374.3,231.4 374.7,231.5 375.2,231.5 375.7,231.5 376.2,231.6 376.7,231.6 377.1,231.6 377.6,231.6 378.1,231.6 378.6,231.7 379.1,231.7 379.5,231.7 380,231.7 380.5,231.7 381,231.7 381.5,231.7 381.9,231.8 382.4,231.8 382.9,231.8 383.4,231.8 383.8,231.9 384.3,231.9 384.8,231.9 385.3,232 385.8,232 386.2,232.1 386.7,232.2 387.2,232.2 387.7,232.3 388.2,232.4 388.6,232.4 389.1,232.5 389.6,232.6 390.1,232.6 390.6,232.7 391,232.8 391.5,232.9 392,232.9 392.5,233 392.9,233.1 393.4,233.2 393.9,233.3 394.4,233.4 394.9,233.4 395.3,233.5 395.8,233.6 396.3,233.7 396.8,233.8 397.3,233.9 397.7,234 398.2,234.1 398.7,234.2 399.2,234.3 399.7,234.4 400.1,234.5 400.6,234.6 401.1,234.7 401.6,234.8 402,234.9 402.5,235.1 403,235.2 403.5,235.3 404,235.4 404.4,235.5 404.9,235.6 405.4,235.7 405.9,235.8 406.4,235.9 406.8,236 407.3,236.1 407.8,236.2 408.3,236.3 408.8,236.4 409.2,236.5 409.7,236.6 410.2,236.8 410.7,236.9 411.1,237 411.6,237.1 412.1,237.2 412.6,237.3 413.1,237.4 413.5,237.5 414,237.6 414.5,237.8 415,237.9 415.5,238 415.9,238.1 416.4,238.2 416.9,238.3 417.4,238.4 417.9,238.5 418.3,238.6 418.8,238.7 419.3,238.8 419.8,238.9 420.2,239 420.7,239.1 421.2,239.2 421.7,239.3 422.2,239.4 422.6,239.5 423.1,239.6 423.6,239.7 424.1,239.8 424.6,239.9 425,239.9 425.5,240 426,240.1 426.5,240.2 427,240.2 427.4,240.3 427.9,240.4 428.4,240.5 428.9,240.5 429.3,240.6 429.8,240.7 430.3,240.7 430.8,240.8 431.3,240.8 431.7,240.9 432.2,240.9 432.7,241 433.2,241 433.7,241 434.1,241 434.6,241 435.1,241.1 435.6,241 436.1,241 436.5,241 437,241 437.5,240.9 438,240.8 438.4,240.7 438.9,240.6 439.4,240.4 439.9,240.3 440.4,240 440.8,239.8 441.3,239.5 441.8,239.1 442.3,238.7 442.8,238.3 443.2,237.8 443.7,237.2 444.2,236.5 444.7,235.8 445.1,234.9 445.6,234 446.1,233 446.6,231.8 447.1,230.6 447.5,229.2 448,227.8 448.5,226.2 449,224.5 449.5,222.7 449.9,220.8 450.4,218.8 450.9,216.7 451.4,214.6 451.9,212.4 452.3,210.1 452.8,207.8 453.3,205.5 453.8,203.2 454.2,201 454.7,198.8 455.2,196.7 455.7,194.7 456.2,192.8 456.6,191.1 457.1,189.5 457.6,188.2 458.1,187.2 458.6,186.4 459,185.8 459.5,185.6 460,185.6 460.5,185.9 461,186.4 461.4,187.2 461.9,188.1 462.4,189.2 462.9,190.5 463.3,192 463.8,193.6 464.3,195.4 464.8,197.2 465.3,199.2 465.7,201.3 466.2,203.4 466.7,205.6 467.2,207.8 467.7,210 468.1,212.2 468.6,214.4 469.1,216.6 469.6,218.7 470.1,220.8 470.5,222.8 471,224.8 471.5,226.7 472,228.5 472.4,230.2 472.9,231.9 473.4,233.4 473.9,234.9 474.4,236.3 474.8,237.7 475.3,238.9 475.8,240.1 476.3,241.1 476.8,242.1 477.2,243.1 477.7,243.9 478.2,244.7 478.7,245.4 479.2,246.1 479.6,246.7 480.1,247.3 480.6,247.8 481.1,248.2 481.5,248.7 482,249 482.5,249.4 483,249.7 483.5,250 483.9,250.3 484.4,250.5 484.9,250.8 485.4,251 485.9,251.2 486.3,251.4 486.8,251.5 487.3,251.7 487.8,251.8 488.3,251.9 488.7,252.1 489.2,252.2 489.7,252.3 490.2,252.4 490.6,252.5 491.1,252.6 491.6,252.6 492.1,252.7 492.6,252.8 493,252.9 493.5,252.9 494,253 494.5,253.1 495,253.1 495.4,253.2 495.9,253.2 496.4,253.3 496.9,253.3 497.4,253.4 497.8,253.4 498.3,253.5 498.8,253.5 499.3,253.6 499.7,253.6 500.2,253.6 500.7,253.7 501.2,253.7 501.7,253.8 502.1,253.8 502.6,253.8 503.1,253.9 503.6,253.9 504.1,253.9 504.5,254 505,254 505.5,254 506,254.1 506.5,254.1 506.9,254.1 507.4,254.2 507.9,254.2 508.4,254.2 508.8,254.2 509.3,254.3 509.8,254.3 510.3,254.3 510.8,254.3 511.2,254.3 511.7,254.4 512.2,254.4 512.2,254.8 511.7,254.8 511.2,254.8 510.8,254.8 510.3,254.7 509.8,254.7 509.3,254.7 508.8,254.7 508.4,254.7 507.9,254.7 507.4,254.6 506.9,254.6 506.5,254.6 506,254.6 505.5,254.6 505,254.5 504.5,254.5 504.1,254.5 503.6,254.5 503.1,254.5 502.6,254.4 502.1,254.4 501.7,254.4 501.2,254.4 500.7,254.3 500.2,254.3 499.7,254.3 499.3,254.3 498.8,254.2 498.3,254.2 497.8,254.2 497.4,254.2 496.9,254.1 496.4,254.1 495.9,254.1 495.4,254 495,254 494.5,254 494,253.9 493.5,253.9 493,253.8 492.6,253.8 492.1,253.8 491.6,253.7 491.1,253.7 490.6,253.6 490.2,253.6 489.7,253.5 489.2,253.5 488.7,253.4 488.3,253.4 487.8,253.3 487.3,253.2 486.8,253.2 486.3,253.1 485.9,253 485.4,253 484.9,252.9 484.4,252.8 483.9,252.7 483.5,252.6 483,252.6 482.5,252.5 482,252.4 481.5,252.3 481.1,252.2 480.6,252.1 480.1,252 479.6,251.9 479.2,251.8 478.7,251.7 478.2,251.6 477.7,251.5 477.2,251.4 476.8,251.3 476.3,251.2 475.8,251 475.3,250.9 474.8,250.8 474.4,250.7 473.9,250.5 473.4,250.4 472.9,250.3 472.4,250.2 472,250 471.5,249.9 471,249.7 470.5,249.6 470.1,249.4 469.6,249.3 469.1,249.1 468.6,249 468.1,248.8 467.7,248.7 467.2,248.5 466.7,248.3 466.2,248.2 465.7,248 465.3,247.8 464.8,247.7 464.3,247.5 463.8,247.4 463.3,247.2 462.9,247.1 462.4,246.9 461.9,246.8 461.4,246.6 461,246.5 460.5,246.4 460,246.2 459.5,246.1 459,245.9 458.6,245.8 458.1,245.7 457.6,245.5 457.1,245.4 456.6,245.3 456.2,245.2 455.7,245.1 455.2,244.9 454.7,244.8 454.2,244.8 453.8,244.7 453.3,244.6 452.8,244.5 452.3,244.4 451.9,244.4 451.4,244.3 450.9,244.2 450.4,244.2 449.9,244.1 449.5,244.1 449,244 448.5,244 448,243.9 447.5,243.9 447.1,243.8 446.6,243.8 446.1,243.7 445.6,243.7 445.1,243.6 444.7,243.6 444.2,243.5 443.7,243.4 443.2,243.4 442.8,243.3 442.3,243.3 441.8,243.2 441.3,243.2 440.8,243.1 440.4,243.1 439.9,243 439.4,243 438.9,242.9 438.4,242.8 438,242.8 437.5,242.7 437,242.7 436.5,242.6 436.1,242.5 435.6,242.5 435.1,242.4 434.6,242.3 434.1,242.3 433.7,242.2 433.2,242.1 432.7,242 432.2,242 431.7,241.9 431.3,241.8 430.8,241.7 430.3,241.6 429.8,241.5 429.3,241.4 428.9,241.4 428.4,241.3 427.9,241.2 427.4,241.1 427,241 426.5,240.9 426,240.8 425.5,240.7 425,240.6 424.6,240.5 424.1,240.4 423.6,240.3 423.1,240.2 422.6,240.1 422.2,240 421.7,239.9 421.2,239.8 420.7,239.7 420.2,239.6 419.8,239.5 419.3,239.3 418.8,239.2 418.3,239.1 417.9,239 417.4,238.9 416.9,238.8 416.4,238.7 415.9,238.5 415.5,238.4 415,238.3 414.5,238.2 414,238 413.5,237.9 413.1,237.8 412.6,237.7 412.1,237.5 411.6,237.4 411.1,237.3 410.7,237.2 410.2,237.1 409.7,237 409.2,236.9 408.8,236.8 408.3,236.6 407.8,236.5 407.3,236.4 406.8,236.3 406.4,236.2 405.9,236.1 405.4,236 404.9,235.9 404.4,235.8 404,235.7 403.5,235.5 403,235.4 402.5,235.3 402,235.2 401.6,235.1 401.1,235 400.6,234.8 400.1,234.7 399.7,234.6 399.2,234.5 398.7,234.4 398.2,234.3 397.7,234.2 397.3,234.1 396.8,234 396.3,233.9 395.8,233.8 395.3,233.7 394.9,233.6 394.4,233.5 393.9,233.5 393.4,233.4 392.9,233.3 392.5,233.2 392,233.1 391.5,233 391,233 390.6,232.9 390.1,232.8 389.6,232.7 389.1,232.7 388.6,232.6 388.2,232.5 387.7,232.4 387.2,232.4 386.7,232.3 386.2,232.2 385.8,232.2 385.3,232.1 384.8,232.1 384.3,232 383.8,232 383.4,232 382.9,231.9 382.4,231.9 381.9,231.9 381.5,231.9 381,231.9 380.5,231.8 380,231.8 379.5,231.8 379.1,231.8 378.6,231.8 378.1,231.8 377.6,231.8 377.1,231.7 376.7,231.7 376.2,231.7 375.7,231.7 375.2,231.6 374.7,231.6 374.3,231.5 373.8,231.5 373.3,231.4 372.8,231.3 372.4,231.1 371.9,230.8 371.4,230.4 370.9,230.3 370.4,230.3 370,230.2 369.5,230.2 369,230.2" fill="url(#gor2)" opacity="0.92"/>
<polyline points="369,230.1 369.5,230.1 370,230.1 370.4,230.2 370.9,230.2 371.4,230.3 371.9,230.7 372.4,231 372.8,231.1 373.3,231.3 373.8,231.3 374.3,231.4 374.7,231.5 375.2,231.5 375.7,231.5 376.2,231.6 376.7,231.6 377.1,231.6 377.6,231.6 378.1,231.6 378.6,231.7 379.1,231.7 379.5,231.7 380,231.7 380.5,231.7 381,231.7 381.5,231.7 381.9,231.8 382.4,231.8 382.9,231.8 383.4,231.8 383.8,231.9 384.3,231.9 384.8,231.9 385.3,232 385.8,232 386.2,232.1 386.7,232.2 387.2,232.2 387.7,232.3 388.2,232.4 388.6,232.4 389.1,232.5 389.6,232.6 390.1,232.6 390.6,232.7 391,232.8 391.5,232.9 392,232.9 392.5,233 392.9,233.1 393.4,233.2 393.9,233.3 394.4,233.4 394.9,233.4 395.3,233.5 395.8,233.6 396.3,233.7 396.8,233.8 397.3,233.9 397.7,234 398.2,234.1 398.7,234.2 399.2,234.3 399.7,234.4 400.1,234.5 400.6,234.6 401.1,234.7 401.6,234.8 402,234.9 402.5,235.1 403,235.2 403.5,235.3 404,235.4 404.4,235.5 404.9,235.6 405.4,235.7 405.9,235.8 406.4,235.9 406.8,236 407.3,236.1 407.8,236.2 408.3,236.3 408.8,236.4 409.2,236.5 409.7,236.6 410.2,236.8 410.7,236.9 411.1,237 411.6,237.1 412.1,237.2 412.6,237.3 413.1,237.4 413.5,237.5 414,237.6 414.5,237.8 415,237.9 415.5,238 415.9,238.1 416.4,238.2 416.9,238.3 417.4,238.4 417.9,238.5 418.3,238.6 418.8,238.7 419.3,238.8 419.8,238.9 420.2,239 420.7,239.1 421.2,239.2 421.7,239.3 422.2,239.4 422.6,239.5 423.1,239.6 423.6,239.7 424.1,239.8 424.6,239.9 425,239.9 425.5,240 426,240.1 426.5,240.2 427,240.2 427.4,240.3 427.9,240.4 428.4,240.5 428.9,240.5 429.3,240.6 429.8,240.7 430.3,240.7 430.8,240.8 431.3,240.8 431.7,240.9 432.2,240.9 432.7,241 433.2,241 433.7,241 434.1,241 434.6,241 435.1,241.1 435.6,241 436.1,241 436.5,241 437,241 437.5,240.9 438,240.8 438.4,240.7 438.9,240.6 439.4,240.4 439.9,240.3 440.4,240 440.8,239.8 441.3,239.5 441.8,239.1 442.3,238.7 442.8,238.3 443.2,237.8 443.7,237.2 444.2,236.5 444.7,235.8 445.1,234.9 445.6,234 446.1,233 446.6,231.8 447.1,230.6 447.5,229.2 448,227.8 448.5,226.2 449,224.5 449.5,222.7 449.9,220.8 450.4,218.8 450.9,216.7 451.4,214.6 451.9,212.4 452.3,210.1 452.8,207.8 453.3,205.5 453.8,203.2 454.2,201 454.7,198.8 455.2,196.7 455.7,194.7 456.2,192.8 456.6,191.1 457.1,189.5 457.6,188.2 458.1,187.2 458.6,186.4 459,185.8 459.5,185.6 460,185.6 460.5,185.9 461,186.4 461.4,187.2 461.9,188.1 462.4,189.2 462.9,190.5 463.3,192 463.8,193.6 464.3,195.4 464.8,197.2 465.3,199.2 465.7,201.3 466.2,203.4 466.7,205.6 467.2,207.8 467.7,210 468.1,212.2 468.6,214.4 469.1,216.6 469.6,218.7 470.1,220.8 470.5,222.8 471,224.8 471.5,226.7 472,228.5 472.4,230.2 472.9,231.9 473.4,233.4 473.9,234.9 474.4,236.3 474.8,237.7 475.3,238.9 475.8,240.1 476.3,241.1 476.8,242.1 477.2,243.1 477.7,243.9 478.2,244.7 478.7,245.4 479.2,246.1 479.6,246.7 480.1,247.3 480.6,247.8 481.1,248.2 481.5,248.7 482,249 482.5,249.4 483,249.7 483.5,250 483.9,250.3 484.4,250.5 484.9,250.8 485.4,251 485.9,251.2 486.3,251.4 486.8,251.5 487.3,251.7 487.8,251.8 488.3,251.9 488.7,252.1 489.2,252.2 489.7,252.3 490.2,252.4 490.6,252.5 491.1,252.6 491.6,252.6 492.1,252.7 492.6,252.8 493,252.9 493.5,252.9 494,253 494.5,253.1 495,253.1 495.4,253.2 495.9,253.2 496.4,253.3 496.9,253.3 497.4,253.4 497.8,253.4 498.3,253.5 498.8,253.5 499.3,253.6 499.7,253.6 500.2,253.6 500.7,253.7 501.2,253.7 501.7,253.8 502.1,253.8 502.6,253.8 503.1,253.9 503.6,253.9 504.1,253.9 504.5,254 505,254 505.5,254 506,254.1 506.5,254.1 506.9,254.1 507.4,254.2 507.9,254.2 508.4,254.2 508.8,254.2 509.3,254.3 509.8,254.3 510.3,254.3 510.8,254.3 511.2,254.3 511.7,254.4 512.2,254.4" fill="none" stroke="#f0803c" stroke-width="0.5" opacity="0.92"/>
<polygon points="369,230.2 369.5,230.2 370,230.2 370.4,230.2 370.9,230.3 371.4,230.4 371.9,230.7 372.4,231.1 372.8,231.2 373.3,231.3 373.8,231.4 374.3,231.5 374.7,231.5 375.2,231.6 375.7,231.6 376.2,231.6 376.7,231.7 377.1,231.7 377.6,231.7 378.1,231.7 378.6,231.7 379.1,231.8 379.5,231.8 380,231.8 380.5,231.8 381,231.8 381.5,231.8 381.9,231.9 382.4,231.9 382.9,231.9 383.4,231.9 383.8,232 384.3,232 384.8,232 385.3,232.1 385.8,232.1 386.2,232.2 386.7,232.3 387.2,232.3 387.7,232.4 388.2,232.5 388.6,232.5 389.1,232.6 389.6,232.7 390.1,232.8 390.6,232.8 391,232.9 391.5,233 392,233.1 392.5,233.1 392.9,233.2 393.4,233.3 393.9,233.4 394.4,233.5 394.9,233.6 395.3,233.7 395.8,233.8 396.3,233.9 396.8,233.9 397.3,234 397.7,234.1 398.2,234.2 398.7,234.3 399.2,234.4 399.7,234.6 400.1,234.7 400.6,234.8 401.1,234.9 401.6,235 402,235.1 402.5,235.2 403,235.3 403.5,235.5 404,235.6 404.4,235.7 404.9,235.8 405.4,235.9 405.9,236 406.4,236.1 406.8,236.2 407.3,236.3 407.8,236.4 408.3,236.6 408.8,236.7 409.2,236.8 409.7,236.9 410.2,237 410.7,237.1 411.1,237.2 411.6,237.3 412.1,237.4 412.6,237.6 413.1,237.7 413.5,237.8 414,237.9 414.5,238.1 415,238.2 415.5,238.3 415.9,238.4 416.4,238.5 416.9,238.7 417.4,238.8 417.9,238.9 418.3,239 418.8,239.1 419.3,239.2 419.8,239.3 420.2,239.4 420.7,239.5 421.2,239.7 421.7,239.8 422.2,239.9 422.6,240 423.1,240.1 423.6,240.2 424.1,240.3 424.6,240.4 425,240.5 425.5,240.5 426,240.6 426.5,240.7 427,240.8 427.4,240.9 427.9,241 428.4,241.1 428.9,241.2 429.3,241.3 429.8,241.4 430.3,241.4 430.8,241.5 431.3,241.6 431.7,241.7 432.2,241.8 432.7,241.8 433.2,241.9 433.7,242 434.1,242 434.6,242.1 435.1,242.2 435.6,242.2 436.1,242.3 436.5,242.4 437,242.4 437.5,242.5 438,242.5 438.4,242.6 438.9,242.6 439.4,242.7 439.9,242.7 440.4,242.8 440.8,242.8 441.3,242.9 441.8,242.9 442.3,243 442.8,243 443.2,243 443.7,243.1 444.2,243.1 444.7,243.2 445.1,243.2 445.6,243.3 446.1,243.3 446.6,243.3 447.1,243.4 447.5,243.4 448,243.4 448.5,243.5 449,243.5 449.5,243.5 449.9,243.6 450.4,243.6 450.9,243.6 451.4,243.6 451.9,243.7 452.3,243.7 452.8,243.7 453.3,243.7 453.8,243.7 454.2,243.7 454.7,243.7 455.2,243.7 455.7,243.7 456.2,243.7 456.6,243.6 457.1,243.5 457.6,243.4 458.1,243.3 458.6,243.1 459,242.9 459.5,242.7 460,242.4 460.5,242 461,241.6 461.4,241.1 461.9,240.6 462.4,239.9 462.9,239.2 463.3,238.4 463.8,237.5 464.3,236.6 464.8,235.5 465.3,234.4 465.7,233.1 466.2,231.8 466.7,230.4 467.2,228.9 467.7,227.3 468.1,225.7 468.6,224 469.1,222.3 469.6,220.5 470.1,218.7 470.5,216.9 471,215.1 471.5,213.3 472,211.6 472.4,209.9 472.9,208.4 473.4,206.9 473.9,205.6 474.4,204.5 474.8,203.5 475.3,202.7 475.8,202.1 476.3,201.7 476.8,201.5 477.2,201.6 477.7,201.8 478.2,202.2 478.7,202.6 479.2,203.2 479.6,203.9 480.1,204.7 480.6,205.7 481.1,206.7 481.5,207.8 482,209 482.5,210.3 483,211.6 483.5,213 483.9,214.4 484.4,215.9 484.9,217.4 485.4,219 485.9,220.5 486.3,222.1 486.8,223.6 487.3,225.2 487.8,226.7 488.3,228.2 488.7,229.7 489.2,231.1 489.7,232.5 490.2,233.8 490.6,235.2 491.1,236.4 491.6,237.6 492.1,238.8 492.6,239.9 493,241 493.5,242 494,242.9 494.5,243.8 495,244.7 495.4,245.4 495.9,246.2 496.4,246.9 496.9,247.5 497.4,248.1 497.8,248.7 498.3,249.2 498.8,249.6 499.3,250.1 499.7,250.5 500.2,250.8 500.7,251.2 501.2,251.5 501.7,251.7 502.1,252 502.6,252.2 503.1,252.4 503.6,252.6 504.1,252.8 504.5,253 505,253.1 505.5,253.2 506,253.3 506.5,253.4 506.9,253.5 507.4,253.6 507.9,253.7 508.4,253.8 508.8,253.9 509.3,253.9 509.8,254 510.3,254 510.8,254.1 511.2,254.1 511.7,254.1 512.2,254.2 512.2,254.8 511.7,254.8 511.2,254.8 510.8,254.8 510.3,254.7 509.8,254.7 509.3,254.7 508.8,254.7 508.4,254.7 507.9,254.7 507.4,254.6 506.9,254.6 506.5,254.6 506,254.6 505.5,254.6 505,254.5 504.5,254.5 504.1,254.5 503.6,254.5 503.1,254.5 502.6,254.4 502.1,254.4 501.7,254.4 501.2,254.4 500.7,254.3 500.2,254.3 499.7,254.3 499.3,254.3 498.8,254.2 498.3,254.2 497.8,254.2 497.4,254.2 496.9,254.1 496.4,254.1 495.9,254.1 495.4,254 495,254 494.5,254 494,253.9 493.5,253.9 493,253.8 492.6,253.8 492.1,253.8 491.6,253.7 491.1,253.7 490.6,253.6 490.2,253.6 489.7,253.5 489.2,253.5 488.7,253.4 488.3,253.4 487.8,253.3 487.3,253.2 486.8,253.2 486.3,253.1 485.9,253 485.4,253 484.9,252.9 484.4,252.8 483.9,252.7 483.5,252.6 483,252.6 482.5,252.5 482,252.4 481.5,252.3 481.1,252.2 480.6,252.1 480.1,252 479.6,251.9 479.2,251.8 478.7,251.7 478.2,251.6 477.7,251.5 477.2,251.4 476.8,251.3 476.3,251.2 475.8,251 475.3,250.9 474.8,250.8 474.4,250.7 473.9,250.5 473.4,250.4 472.9,250.3 472.4,250.2 472,250 471.5,249.9 471,249.7 470.5,249.6 470.1,249.4 469.6,249.3 469.1,249.1 468.6,249 468.1,248.8 467.7,248.7 467.2,248.5 466.7,248.3 466.2,248.2 465.7,248 465.3,247.8 464.8,247.7 464.3,247.5 463.8,247.4 463.3,247.2 462.9,247.1 462.4,246.9 461.9,246.8 461.4,246.6 461,246.5 460.5,246.4 460,246.2 459.5,246.1 459,245.9 458.6,245.8 458.1,245.7 457.6,245.5 457.1,245.4 456.6,245.3 456.2,245.2 455.7,245.1 455.2,244.9 454.7,244.8 454.2,244.8 453.8,244.7 453.3,244.6 452.8,244.5 452.3,244.4 451.9,244.4 451.4,244.3 450.9,244.2 450.4,244.2 449.9,244.1 449.5,244.1 449,244 448.5,244 448,243.9 447.5,243.9 447.1,243.8 446.6,243.8 446.1,243.7 445.6,243.7 445.1,243.6 444.7,243.6 444.2,243.5 443.7,243.4 443.2,243.4 442.8,243.3 442.3,243.3 441.8,243.2 441.3,243.2 440.8,243.1 440.4,243.1 439.9,243 439.4,243 438.9,242.9 438.4,242.8 438,242.8 437.5,242.7 437,242.7 436.5,242.6 436.1,242.5 435.6,242.5 435.1,242.4 434.6,242.3 434.1,242.3 433.7,242.2 433.2,242.1 432.7,242 432.2,242 431.7,241.9 431.3,241.8 430.8,241.7 430.3,241.6 429.8,241.5 429.3,241.4 428.9,241.4 428.4,241.3 427.9,241.2 427.4,241.1 427,241 426.5,240.9 426,240.8 425.5,240.7 425,240.6 424.6,240.5 424.1,240.4 423.6,240.3 423.1,240.2 422.6,240.1 422.2,240 421.7,239.9 421.2,239.8 420.7,239.7 420.2,239.6 419.8,239.5 419.3,239.3 418.8,239.2 418.3,239.1 417.9,239 417.4,238.9 416.9,238.8 416.4,238.7 415.9,238.5 415.5,238.4 415,238.3 414.5,238.2 414,238 413.5,237.9 413.1,237.8 412.6,237.7 412.1,237.5 411.6,237.4 411.1,237.3 410.7,237.2 410.2,237.1 409.7,237 409.2,236.9 408.8,236.8 408.3,236.6 407.8,236.5 407.3,236.4 406.8,236.3 406.4,236.2 405.9,236.1 405.4,236 404.9,235.9 404.4,235.8 404,235.7 403.5,235.5 403,235.4 402.5,235.3 402,235.2 401.6,235.1 401.1,235 400.6,234.8 400.1,234.7 399.7,234.6 399.2,234.5 398.7,234.4 398.2,234.3 397.7,234.2 397.3,234.1 396.8,234 396.3,233.9 395.8,233.8 395.3,233.7 394.9,233.6 394.4,233.5 393.9,233.5 393.4,233.4 392.9,233.3 392.5,233.2 392,233.1 391.5,233 391,233 390.6,232.9 390.1,232.8 389.6,232.7 389.1,232.7 388.6,232.6 388.2,232.5 387.7,232.4 387.2,232.4 386.7,232.3 386.2,232.2 385.8,232.2 385.3,232.1 384.8,232.1 384.3,232 383.8,232 383.4,232 382.9,231.9 382.4,231.9 381.9,231.9 381.5,231.9 381,231.9 380.5,231.8 380,231.8 379.5,231.8 379.1,231.8 378.6,231.8 378.1,231.8 377.6,231.8 377.1,231.7 376.7,231.7 376.2,231.7 375.7,231.7 375.2,231.6 374.7,231.6 374.3,231.5 373.8,231.5 373.3,231.4 372.8,231.3 372.4,231.1 371.9,230.8 371.4,230.4 370.9,230.3 370.4,230.3 370,230.2 369.5,230.2 369,230.2" fill="url(#gpu2)" opacity="0.78"/>
<polyline points="369,230.2 369.5,230.2 370,230.2 370.4,230.2 370.9,230.3 371.4,230.4 371.9,230.7 372.4,231.1 372.8,231.2 373.3,231.3 373.8,231.4 374.3,231.5 374.7,231.5 375.2,231.6 375.7,231.6 376.2,231.6 376.7,231.7 377.1,231.7 377.6,231.7 378.1,231.7 378.6,231.7 379.1,231.8 379.5,231.8 380,231.8 380.5,231.8 381,231.8 381.5,231.8 381.9,231.9 382.4,231.9 382.9,231.9 383.4,231.9 383.8,232 384.3,232 384.8,232 385.3,232.1 385.8,232.1 386.2,232.2 386.7,232.3 387.2,232.3 387.7,232.4 388.2,232.5 388.6,232.5 389.1,232.6 389.6,232.7 390.1,232.8 390.6,232.8 391,232.9 391.5,233 392,233.1 392.5,233.1 392.9,233.2 393.4,233.3 393.9,233.4 394.4,233.5 394.9,233.6 395.3,233.7 395.8,233.8 396.3,233.9 396.8,233.9 397.3,234 397.7,234.1 398.2,234.2 398.7,234.3 399.2,234.4 399.7,234.6 400.1,234.7 400.6,234.8 401.1,234.9 401.6,235 402,235.1 402.5,235.2 403,235.3 403.5,235.5 404,235.6 404.4,235.7 404.9,235.8 405.4,235.9 405.9,236 406.4,236.1 406.8,236.2 407.3,236.3 407.8,236.4 408.3,236.6 408.8,236.7 409.2,236.8 409.7,236.9 410.2,237 410.7,237.1 411.1,237.2 411.6,237.3 412.1,237.4 412.6,237.6 413.1,237.7 413.5,237.8 414,237.9 414.5,238.1 415,238.2 415.5,238.3 415.9,238.4 416.4,238.5 416.9,238.7 417.4,238.8 417.9,238.9 418.3,239 418.8,239.1 419.3,239.2 419.8,239.3 420.2,239.4 420.7,239.5 421.2,239.7 421.7,239.8 422.2,239.9 422.6,240 423.1,240.1 423.6,240.2 424.1,240.3 424.6,240.4 425,240.5 425.5,240.5 426,240.6 426.5,240.7 427,240.8 427.4,240.9 427.9,241 428.4,241.1 428.9,241.2 429.3,241.3 429.8,241.4 430.3,241.4 430.8,241.5 431.3,241.6 431.7,241.7 432.2,241.8 432.7,241.8 433.2,241.9 433.7,242 434.1,242 434.6,242.1 435.1,242.2 435.6,242.2 436.1,242.3 436.5,242.4 437,242.4 437.5,242.5 438,242.5 438.4,242.6 438.9,242.6 439.4,242.7 439.9,242.7 440.4,242.8 440.8,242.8 441.3,242.9 441.8,242.9 442.3,243 442.8,243 443.2,243 443.7,243.1 444.2,243.1 444.7,243.2 445.1,243.2 445.6,243.3 446.1,243.3 446.6,243.3 447.1,243.4 447.5,243.4 448,243.4 448.5,243.5 449,243.5 449.5,243.5 449.9,243.6 450.4,243.6 450.9,243.6 451.4,243.6 451.9,243.7 452.3,243.7 452.8,243.7 453.3,243.7 453.8,243.7 454.2,243.7 454.7,243.7 455.2,243.7 455.7,243.7 456.2,243.7 456.6,243.6 457.1,243.5 457.6,243.4 458.1,243.3 458.6,243.1 459,242.9 459.5,242.7 460,242.4 460.5,242 461,241.6 461.4,241.1 461.9,240.6 462.4,239.9 462.9,239.2 463.3,238.4 463.8,237.5 464.3,236.6 464.8,235.5 465.3,234.4 465.7,233.1 466.2,231.8 466.7,230.4 467.2,228.9 467.7,227.3 468.1,225.7 468.6,224 469.1,222.3 469.6,220.5 470.1,218.7 470.5,216.9 471,215.1 471.5,213.3 472,211.6 472.4,209.9 472.9,208.4 473.4,206.9 473.9,205.6 474.4,204.5 474.8,203.5 475.3,202.7 475.8,202.1 476.3,201.7 476.8,201.5 477.2,201.6 477.7,201.8 478.2,202.2 478.7,202.6 479.2,203.2 479.6,203.9 480.1,204.7 480.6,205.7 481.1,206.7 481.5,207.8 482,209 482.5,210.3 483,211.6 483.5,213 483.9,214.4 484.4,215.9 484.9,217.4 485.4,219 485.9,220.5 486.3,222.1 486.8,223.6 487.3,225.2 487.8,226.7 488.3,228.2 488.7,229.7 489.2,231.1 489.7,232.5 490.2,233.8 490.6,235.2 491.1,236.4 491.6,237.6 492.1,238.8 492.6,239.9 493,241 493.5,242 494,242.9 494.5,243.8 495,244.7 495.4,245.4 495.9,246.2 496.4,246.9 496.9,247.5 497.4,248.1 497.8,248.7 498.3,249.2 498.8,249.6 499.3,250.1 499.7,250.5 500.2,250.8 500.7,251.2 501.2,251.5 501.7,251.7 502.1,252 502.6,252.2 503.1,252.4 503.6,252.6 504.1,252.8 504.5,253 505,253.1 505.5,253.2 506,253.3 506.5,253.4 506.9,253.5 507.4,253.6 507.9,253.7 508.4,253.8 508.8,253.9 509.3,253.9 509.8,254 510.3,254 510.8,254.1 511.2,254.1 511.7,254.1 512.2,254.2" fill="none" stroke="#6a5ab4" stroke-width="0.5" opacity="0.78"/>
<polyline points="369,230.1 369.5,230.1 370,230.1 370.4,230.2 370.9,230.2 371.4,230.3 371.9,230.7 372.4,231 372.8,231.1 373.3,231.3 373.8,231.3 374.3,231.4 374.7,231.5 375.2,231.5 375.7,231.5 376.2,231.6 376.7,231.6 377.1,231.6 377.6,231.6 378.1,231.6 378.6,231.7 379.1,231.7 379.5,231.7 380,231.7 380.5,231.7 381,231.7 381.5,231.7 381.9,231.8 382.4,231.8 382.9,231.8 383.4,231.8 383.8,231.9 384.3,231.9 384.8,231.9 385.3,232 385.8,232 386.2,232.1 386.7,232.2 387.2,232.2 387.7,232.3 388.2,232.4 388.6,232.4 389.1,232.5 389.6,232.6 390.1,232.6 390.6,232.7 391,232.8 391.5,232.9 392,232.9 392.5,233 392.9,233.1 393.4,233.2 393.9,233.3 394.4,233.4 394.9,233.4 395.3,233.5 395.8,233.6 396.3,233.7 396.8,233.8 397.3,233.9 397.7,234 398.2,234.1 398.7,234.2 399.2,234.3 399.7,234.4 400.1,234.5 400.6,234.6 401.1,234.7 401.6,234.8 402,234.9 402.5,235.1 403,235.2 403.5,235.3 404,235.4 404.4,235.5 404.9,235.6 405.4,235.7 405.9,235.8 406.4,235.9 406.8,236 407.3,236.1 407.8,236.2 408.3,236.3 408.8,236.4 409.2,236.5 409.7,236.6 410.2,236.8 410.7,236.9 411.1,237 411.6,237.1 412.1,237.2 412.6,237.3 413.1,237.4 413.5,237.5 414,237.6 414.5,237.8 415,237.9 415.5,238 415.9,238.1 416.4,238.2 416.9,238.3 417.4,238.4 417.9,238.5 418.3,238.6 418.8,238.7 419.3,238.8 419.8,238.9 420.2,239 420.7,239.1 421.2,239.2 421.7,239.3 422.2,239.4 422.6,239.5 423.1,239.6 423.6,239.7 424.1,239.8 424.6,239.9 425,239.9 425.5,240 426,240.1 426.5,240.2 427,240.2 427.4,240.3 427.9,240.4 428.4,240.5 428.9,240.5 429.3,240.6 429.8,240.7 430.3,240.7 430.8,240.8 431.3,240.8 431.7,240.9 432.2,240.9 432.7,241 433.2,241 433.7,241 434.1,241 434.6,241 435.1,241.1 435.6,241 436.1,241 436.5,241 437,241 437.5,240.9 438,240.8 438.4,240.7 438.9,240.6 439.4,240.4 439.9,240.3 440.4,240 440.8,239.8 441.3,239.5 441.8,239.1 442.3,238.7 442.8,238.3 443.2,237.8 443.7,237.2 444.2,236.5 444.7,235.8 445.1,234.9 445.6,234 446.1,233 446.6,231.8 447.1,230.6 447.5,229.2 448,227.8 448.5,226.2 449,224.5 449.5,222.7 449.9,220.8 450.4,218.8 450.9,216.7 451.4,214.6 451.9,212.4 452.3,210.1 452.8,207.8 453.3,205.5 453.8,203.2 454.2,201 454.7,198.8 455.2,196.7 455.7,194.7 456.2,192.8 456.6,191.1 457.1,189.5 457.6,188.2 458.1,187.2 458.6,186.4 459,185.8 459.5,185.6 460,185.6 460.5,185.9 461,186.4 461.4,187.2 461.9,188.1 462.4,189.2 462.9,190.5 463.3,192 463.8,193.6 464.3,195.4 464.8,197.2 465.3,199.2 465.7,201.3 466.2,203.4 466.7,205.6 467.2,207.8 467.7,210 468.1,212.2 468.6,214.4 469.1,216.6 469.6,218.7 470.1,220.8 470.5,222.8 471,224.8 471.5,226.7 472,228.5 472.4,230.2 472.9,231.9 473.4,233.4 473.9,234.9 474.4,236.3 474.8,237.7 475.3,238.9 475.8,240.1 476.3,241.1 476.8,242.1 477.2,243.1 477.7,243.9 478.2,244.7 478.7,245.4 479.2,246.1 479.6,246.7 480.1,247.3 480.6,247.8 481.1,248.2 481.5,248.7 482,249 482.5,249.4 483,249.7 483.5,250 483.9,250.3 484.4,250.5 484.9,250.8 485.4,251 485.9,251.2 486.3,251.4 486.8,251.5 487.3,251.7 487.8,251.8 488.3,251.9 488.7,252.1 489.2,252.2 489.7,252.3 490.2,252.4 490.6,252.5 491.1,252.6 491.6,252.6 492.1,252.7 492.6,252.8 493,252.9 493.5,252.9 494,253 494.5,253.1 495,253.1 495.4,253.2 495.9,253.2 496.4,253.3 496.9,253.3 497.4,253.4 497.8,253.4 498.3,253.5 498.8,253.5 499.3,253.6 499.7,253.6 500.2,253.6 500.7,253.7 501.2,253.7 501.7,253.8 502.1,253.8 502.6,253.8 503.1,253.9 503.6,253.9 504.1,253.9 504.5,254 505,254 505.5,254 506,254.1 506.5,254.1 506.9,254.1 507.4,254.2 507.9,254.2 508.4,254.2 508.8,254.2 509.3,254.3 509.8,254.3 510.3,254.3 510.8,254.3 511.2,254.3 511.7,254.4 512.2,254.4" fill="none" stroke="#f08a4c" stroke-width="0.5" stroke-linejoin="round" stroke-linecap="round" opacity="0.8"/>
<polyline points="369,230.2 369.5,230.2 370,230.2 370.4,230.3 370.9,230.3 371.4,230.4 371.9,230.8 372.4,231.1 372.8,231.3 373.3,231.4 373.8,231.5 374.3,231.5 374.7,231.6 375.2,231.6 375.7,231.7 376.2,231.7 376.7,231.7 377.1,231.7 377.6,231.8 378.1,231.8 378.6,231.8 379.1,231.8 379.5,231.8 380,231.8 380.5,231.8 381,231.9 381.5,231.9 381.9,231.9 382.4,231.9 382.9,231.9 383.4,232 383.8,232 384.3,232 384.8,232.1 385.3,232.1 385.8,232.2 386.2,232.2 386.7,232.3 387.2,232.4 387.7,232.4 388.2,232.5 388.6,232.6 389.1,232.7 389.6,232.7 390.1,232.8 390.6,232.9 391,233 391.5,233 392,233.1 392.5,233.2 392.9,233.3 393.4,233.4 393.9,233.5 394.4,233.5 394.9,233.6 395.3,233.7 395.8,233.8 396.3,233.9 396.8,234 397.3,234.1 397.7,234.2 398.2,234.3 398.7,234.4 399.2,234.5 399.7,234.6 400.1,234.7 400.6,234.8 401.1,235 401.6,235.1 402,235.2 402.5,235.3 403,235.4 403.5,235.5 404,235.7 404.4,235.8 404.9,235.9 405.4,236 405.9,236.1 406.4,236.2 406.8,236.3 407.3,236.4 407.8,236.5 408.3,236.6 408.8,236.8 409.2,236.9 409.7,237 410.2,237.1 410.7,237.2 411.1,237.3 411.6,237.4 412.1,237.5 412.6,237.7 413.1,237.8 413.5,237.9 414,238 414.5,238.2 415,238.3 415.5,238.4 415.9,238.5 416.4,238.7 416.9,238.8 417.4,238.9 417.9,239 418.3,239.1 418.8,239.2 419.3,239.3 419.8,239.5 420.2,239.6 420.7,239.7 421.2,239.8 421.7,239.9 422.2,240 422.6,240.1 423.1,240.2 423.6,240.3 424.1,240.4 424.6,240.5 425,240.6 425.5,240.7 426,240.8 426.5,240.9 427,241 427.4,241.1 427.9,241.2 428.4,241.3 428.9,241.4 429.3,241.4 429.8,241.5 430.3,241.6 430.8,241.7 431.3,241.8 431.7,241.9 432.2,242 432.7,242 433.2,242.1 433.7,242.2 434.1,242.3 434.6,242.3 435.1,242.4 435.6,242.5 436.1,242.5 436.5,242.6 437,242.7 437.5,242.7 438,242.8 438.4,242.8 438.9,242.9 439.4,243 439.9,243 440.4,243.1 440.8,243.1 441.3,243.2 441.8,243.2 442.3,243.3 442.8,243.3 443.2,243.4 443.7,243.4 444.2,243.5 444.7,243.6 445.1,243.6 445.6,243.7 446.1,243.7 446.6,243.8 447.1,243.8 447.5,243.9 448,243.9 448.5,244 449,244 449.5,244.1 449.9,244.1 450.4,244.2 450.9,244.2 451.4,244.3 451.9,244.4 452.3,244.4 452.8,244.5 453.3,244.6 453.8,244.7 454.2,244.8 454.7,244.8 455.2,244.9 455.7,245.1 456.2,245.2 456.6,245.3 457.1,245.4 457.6,245.5 458.1,245.7 458.6,245.8 459,245.9 459.5,246.1 460,246.2 460.5,246.4 461,246.5 461.4,246.6 461.9,246.8 462.4,246.9 462.9,247.1 463.3,247.2 463.8,247.4 464.3,247.5 464.8,247.7 465.3,247.8 465.7,248 466.2,248.2 466.7,248.3 467.2,248.5 467.7,248.7 468.1,248.8 468.6,249 469.1,249.1 469.6,249.3 470.1,249.4 470.5,249.6 471,249.7 471.5,249.9 472,250 472.4,250.2 472.9,250.3 473.4,250.4 473.9,250.5 474.4,250.7 474.8,250.8 475.3,250.9 475.8,251 476.3,251.2 476.8,251.3 477.2,251.4 477.7,251.5 478.2,251.6 478.7,251.7 479.2,251.8 479.6,251.9 480.1,252 480.6,252.1 481.1,252.2 481.5,252.3 482,252.4 482.5,252.5 483,252.6 483.5,252.6 483.9,252.7 484.4,252.8 484.9,252.9 485.4,253 485.9,253 486.3,253.1 486.8,253.2 487.3,253.2 487.8,253.3 488.3,253.4 488.7,253.4 489.2,253.5 489.7,253.5 490.2,253.6 490.6,253.6 491.1,253.7 491.6,253.7 492.1,253.8 492.6,253.8 493,253.8 493.5,253.9 494,253.9 494.5,254 495,254 495.4,254 495.9,254.1 496.4,254.1 496.9,254.1 497.4,254.2 497.8,254.2 498.3,254.2 498.8,254.2 499.3,254.3 499.7,254.3 500.2,254.3 500.7,254.3 501.2,254.4 501.7,254.4 502.1,254.4 502.6,254.4 503.1,254.5 503.6,254.5 504.1,254.5 504.5,254.5 505,254.5 505.5,254.6 506,254.6 506.5,254.6 506.9,254.6 507.4,254.6 507.9,254.7 508.4,254.7 508.8,254.7 509.3,254.7 509.8,254.7 510.3,254.7 510.8,254.8 511.2,254.8 511.7,254.8 512.2,254.8" fill="none" stroke="#5b8fd0" stroke-width="0.8" stroke-linejoin="round" stroke-linecap="round"/>
</g>
<rect x="368.7" y="158.1" width="143.8" height="111.3" fill="none" stroke="#3c3c3c" stroke-width="0.9"/>
<line x1="380.5" y1="269.4" x2="380.5" y2="267.5" stroke="#3c3c3c" stroke-width="0.8"/>
<text x="380.5" y="277.6" font-size="6.8" text-anchor="middle" fill="#1e1e1e" stroke="#1e1e1e" stroke-width="0.22">166</text>
<line x1="404.4" y1="269.4" x2="404.4" y2="267.5" stroke="#3c3c3c" stroke-width="0.8"/>
<text x="404.4" y="277.6" font-size="6.8" text-anchor="middle" fill="#1e1e1e" stroke="#1e1e1e" stroke-width="0.22">164</text>
<line x1="428.3" y1="269.4" x2="428.3" y2="267.5" stroke="#3c3c3c" stroke-width="0.8"/>
<text x="428.3" y="277.6" font-size="6.8" text-anchor="middle" fill="#1e1e1e" stroke="#1e1e1e" stroke-width="0.22">162</text>
<line x1="452.2" y1="269.4" x2="452.2" y2="267.5" stroke="#3c3c3c" stroke-width="0.8"/>
<text x="452.2" y="277.6" font-size="6.8" text-anchor="middle" fill="#1e1e1e" stroke="#1e1e1e" stroke-width="0.22">160</text>
<line x1="476.1" y1="269.4" x2="476.1" y2="267.5" stroke="#3c3c3c" stroke-width="0.8"/>
<text x="476.1" y="277.6" font-size="6.8" text-anchor="middle" fill="#1e1e1e" stroke="#1e1e1e" stroke-width="0.22">158</text>
<line x1="500" y1="269.4" x2="500" y2="267.5" stroke="#3c3c3c" stroke-width="0.8"/>
<text x="500" y="277.6" font-size="6.8" text-anchor="middle" fill="#1e1e1e" stroke="#1e1e1e" stroke-width="0.22">156</text>
<line x1="392.4" y1="269.4" x2="392.4" y2="268.4" stroke="#3c3c3c" stroke-width="0.6"/>
<line x1="416.4" y1="269.4" x2="416.4" y2="268.4" stroke="#3c3c3c" stroke-width="0.6"/>
<line x1="440.2" y1="269.4" x2="440.2" y2="268.4" stroke="#3c3c3c" stroke-width="0.6"/>
<line x1="464.1" y1="269.4" x2="464.1" y2="268.4" stroke="#3c3c3c" stroke-width="0.6"/>
<line x1="488.1" y1="269.4" x2="488.1" y2="268.4" stroke="#3c3c3c" stroke-width="0.6"/>
<text x="364.2" y="213.8" font-size="7.1" text-anchor="middle" fill="#1e1e1e" stroke="#1e1e1e" stroke-width="0.22" transform="rotate(-90 364.2 213.8)">Intensity (a.u.)</text>
<text x="440" y="285.2" font-size="7.1" text-anchor="middle" fill="#1e1e1e" stroke="#1e1e1e" stroke-width="0.22">Binding energy (eV)</text>
<text x="373" y="175.8" font-size="6.9" text-anchor="start" fill="#1e1e1e" stroke="#1e1e1e" stroke-width="0.22">Bi 4f<tspan font-size="70%" dy="1.6">5/2</tspan><tspan dy="-1.6">&#8203;</tspan><tspan dx="0.6"> (Bi<tspan font-size="70%" dy="1.6">2</tspan><tspan dy="-1.6">&#8203;</tspan>Se<tspan font-size="70%" dy="1.6">3</tspan><tspan dy="-1.6">&#8203;</tspan>)</tspan></text>
<text x="429.5" y="175.2" font-size="6.9" text-anchor="start" fill="#1e1e1e" stroke="#1e1e1e" stroke-width="0.22">Bi 4f<tspan font-size="70%" dy="1.6">7/2</tspan><tspan dy="-1.6">&#8203;</tspan><tspan dx="0.6"> (Bi<tspan font-size="70%" dy="1.6">2</tspan><tspan dy="-1.6">&#8203;</tspan>Se<tspan font-size="70%" dy="1.6">3</tspan><tspan dy="-1.6">&#8203;</tspan>)</tspan></text>
<text x="409.3" y="191.3" font-size="6.9" text-anchor="start" fill="#1e1e1e" stroke="#1e1e1e" stroke-width="0.22">Bi 4f<tspan font-size="70%" dy="1.6">5/2</tspan><tspan dy="-1.6">&#8203;</tspan><tspan dx="0.6"> (FPBI)</tspan></text>
<text x="467.5" y="191.3" font-size="6.9" text-anchor="start" fill="#1e1e1e" stroke="#1e1e1e" stroke-width="0.22">Bi 4f<tspan font-size="70%" dy="1.6">7/2</tspan><tspan dy="-1.6">&#8203;</tspan><tspan dx="0.6"> (FPBI)</tspan></text>
<text x="508.6" y="168" font-size="6.6" text-anchor="end" fill="#1e1e1e" stroke="#1e1e1e" stroke-width="0.22">Bi 4f</text>
<line x1="391.4" y1="177.6" x2="397.4" y2="187.6" stroke="#111" stroke-width="0.6"/>
<polygon points="397.4,187.6 395.7,186.5 397.2,185.6" fill="#111"/>
<line x1="426.2" y1="196.2" x2="418.2" y2="202.2" stroke="#111" stroke-width="0.6"/>
<polygon points="418.2,202.2 419.1,200.4 420.2,201.8" fill="#111"/>
<line x1="454.6" y1="177" x2="459.2" y2="184.6" stroke="#111" stroke-width="0.6"/>
<polygon points="459.2,184.6 457.5,183.5 459,182.6" fill="#111"/>
<line x1="486.2" y1="196.2" x2="479" y2="201.6" stroke="#111" stroke-width="0.6"/>
<polygon points="479,201.6 479.9,199.8 481,201.2" fill="#111"/>
<text x="523.4" y="154.2" font-size="12" text-anchor="start" fill="#111" stroke="#111" stroke-width="0.22">h</text>
<clipPath id="ch"><rect x="537.8" y="156.5" width="144.60000000000002" height="113.19999999999999"/></clipPath><g clip-path="url(#ch)">
<polygon points="538.1,249.6 538.6,249.7 539.1,249.7 539.5,249.7 540,249.7 540.5,249.7 541,249.7 541.5,249.7 542,249.7 542.4,249.7 542.9,249.7 543.4,249.7 543.9,249.8 544.4,249.8 544.8,249.8 545.3,249.8 545.8,249.8 546.3,249.8 546.8,249.8 547.3,249.8 547.7,249.8 548.2,249.8 548.7,249.8 549.2,249.9 549.7,249.9 550.1,249.9 550.6,249.9 551.1,249.9 551.6,249.9 552.1,249.9 552.5,249.9 553,249.9 553.5,249.9 554,249.9 554.5,249.9 555,250 555.4,250 555.9,250 556.4,250 556.9,250 557.4,250 557.8,250 558.3,250 558.8,250 559.3,250 559.8,250 560.3,250 560.7,250 561.2,250 561.7,250 562.2,249.9 562.7,249.9 563.1,249.9 563.6,249.9 564.1,249.9 564.6,249.9 565.1,249.8 565.6,249.8 566,249.8 566.5,249.7 567,249.7 567.5,249.6 568,249.6 568.4,249.5 568.9,249.4 569.4,249.4 569.9,249.3 570.4,249.2 570.8,249.1 571.3,249 571.8,248.9 572.3,248.7 572.8,248.6 573.3,248.4 573.7,248.3 574.2,248.1 574.7,247.9 575.2,247.7 575.7,247.5 576.1,247.2 576.6,247 577.1,246.7 577.6,246.4 578.1,246.1 578.6,245.8 579,245.4 579.5,245.1 580,244.7 580.5,244.3 581,243.8 581.4,243.4 581.9,242.9 582.4,242.4 582.9,241.9 583.4,241.3 583.9,240.7 584.3,240.1 584.8,239.5 585.3,238.8 585.8,238.2 586.3,237.4 586.7,236.7 587.2,236 587.7,235.2 588.2,234.4 588.7,233.5 589.2,232.7 589.6,231.8 590.1,230.9 590.6,230 591.1,229.1 591.6,228.1 592,227.2 592.5,226.2 593,225.2 593.5,224.3 594,223.3 594.4,222.3 594.9,221.3 595.4,220.3 595.9,219.3 596.4,218.3 596.9,217.3 597.3,216.3 597.8,215.4 598.3,214.4 598.8,213.5 599.3,212.6 599.7,211.7 600.2,210.8 600.7,210 601.2,209.2 601.7,208.5 602.2,207.7 602.6,207.1 603.1,206.4 603.6,205.8 604.1,205.3 604.6,204.8 605,204.3 605.5,203.9 606,203.6 606.5,203.3 607,203.1 607.5,202.9 607.9,202.8 608.4,202.7 608.9,202.8 609.4,202.8 609.9,203 610.3,203.1 610.8,203.4 611.3,203.7 611.8,204 612.3,204.5 612.7,204.9 613.2,205.5 613.7,206 614.2,206.6 614.7,207.3 615.2,208 615.6,208.8 616.1,209.6 616.6,210.4 617.1,211.3 617.6,212.2 618,213.1 618.5,214.1 619,215 619.5,216 620,217.1 620.5,218.1 620.9,219.1 621.4,220.2 621.9,221.2 622.4,222.3 622.9,223.4 623.3,224.4 623.8,225.5 624.3,226.5 624.8,227.6 625.3,228.6 625.8,229.6 626.2,230.7 626.7,231.6 627.2,232.6 627.7,233.6 628.2,234.5 628.6,235.4 629.1,236.3 629.6,237.2 630.1,238.1 630.6,238.9 631,239.7 631.5,240.4 632,241.2 632.5,241.9 633,242.6 633.5,243.3 633.9,243.9 634.4,244.5 634.9,245.1 635.4,245.7 635.9,246.2 636.3,246.7 636.8,247.2 637.3,247.7 637.8,248.1 638.3,248.6 638.8,249 639.2,249.3 639.7,249.7 640.2,250 640.7,250.3 641.2,250.6 641.6,250.9 642.1,251.2 642.6,251.4 643.1,251.6 643.6,251.9 644.1,252.1 644.5,252.2 645,252.4 645.5,252.6 646,252.7 646.5,252.9 646.9,253 647.4,253.1 647.9,253.3 648.4,253.4 648.9,253.5 649.4,253.5 649.8,253.6 650.3,253.7 650.8,253.8 651.3,253.8 651.8,253.9 652.2,254 652.7,254 653.2,254.1 653.7,254.1 654.2,254.2 654.6,254.2 655.1,254.2 655.6,254.3 656.1,254.3 656.6,254.3 657.1,254.3 657.5,254.4 658,254.4 658.5,254.4 659,254.4 659.5,254.4 659.9,254.4 660.4,254.5 660.9,254.5 661.4,254.5 661.9,254.5 662.4,254.5 662.8,254.5 663.3,254.5 663.8,254.5 664.3,254.5 664.8,254.5 665.2,254.5 665.7,254.5 666.2,254.4 666.7,254.4 667.2,254.4 667.7,254.4 668.1,254.3 668.6,254.3 669.1,254.2 669.6,254.2 670.1,254.2 670.5,254.1 671,254.1 671.5,254 672,254 672.5,254 672.9,253.9 673.4,253.9 673.9,253.8 674.4,253.7 674.9,253.7 675.4,253.6 675.8,253.5 676.3,253.4 676.8,253.4 677.3,253.3 677.8,253.2 678.2,253.1 678.7,253 679.2,252.9 679.7,252.8 680.2,252.7 680.7,252.6 681.1,252.5 681.6,252.3 682.1,252.2 682.1,252.4 681.6,252.5 681.1,252.6 680.7,252.7 680.2,252.8 679.7,252.9 679.2,253 678.7,253.1 678.2,253.2 677.8,253.3 677.3,253.4 676.8,253.5 676.3,253.6 675.8,253.7 675.4,253.8 674.9,253.8 674.4,253.9 673.9,254 673.4,254 672.9,254.1 672.5,254.2 672,254.2 671.5,254.2 671,254.3 670.5,254.3 670.1,254.4 669.6,254.4 669.1,254.5 668.6,254.5 668.1,254.5 667.7,254.6 667.2,254.6 666.7,254.6 666.2,254.7 665.7,254.7 665.2,254.7 664.8,254.8 664.3,254.8 663.8,254.8 663.3,254.8 662.8,254.8 662.4,254.8 661.9,254.8 661.4,254.8 660.9,254.8 660.4,254.8 659.9,254.8 659.5,254.8 659,254.8 658.5,254.8 658,254.8 657.5,254.8 657.1,254.8 656.6,254.8 656.1,254.8 655.6,254.8 655.1,254.8 654.6,254.8 654.2,254.8 653.7,254.8 653.2,254.8 652.7,254.8 652.2,254.7 651.8,254.7 651.3,254.7 650.8,254.7 650.3,254.7 649.8,254.7 649.4,254.7 648.9,254.7 648.4,254.7 647.9,254.7 647.4,254.7 646.9,254.7 646.5,254.7 646,254.7 645.5,254.7 645,254.7 644.5,254.7 644.1,254.7 643.6,254.6 643.1,254.6 642.6,254.6 642.1,254.6 641.6,254.6 641.2,254.6 640.7,254.6 640.2,254.6 639.7,254.6 639.2,254.6 638.8,254.6 638.3,254.6 637.8,254.6 637.3,254.6 636.8,254.5 636.3,254.5 635.9,254.5 635.4,254.5 634.9,254.5 634.4,254.5 633.9,254.5 633.5,254.5 633,254.5 632.5,254.4 632,254.4 631.5,254.4 631,254.4 630.6,254.4 630.1,254.4 629.6,254.4 629.1,254.3 628.6,254.3 628.2,254.3 627.7,254.3 627.2,254.3 626.7,254.2 626.2,254.2 625.8,254.2 625.3,254.2 624.8,254.2 624.3,254.2 623.8,254.1 623.3,254.1 622.9,254.1 622.4,254.1 621.9,254.1 621.4,254 620.9,254 620.5,254 620,254 619.5,253.9 619,253.9 618.5,253.9 618,253.9 617.6,253.9 617.1,253.8 616.6,253.8 616.1,253.8 615.6,253.8 615.2,253.7 614.7,253.7 614.2,253.7 613.7,253.7 613.2,253.6 612.7,253.6 612.3,253.6 611.8,253.6 611.3,253.5 610.8,253.5 610.3,253.5 609.9,253.4 609.4,253.4 608.9,253.4 608.4,253.3 607.9,253.3 607.5,253.2 607,253.2 606.5,253.1 606,253.1 605.5,253.1 605,253 604.6,253 604.1,252.9 603.6,252.9 603.1,252.8 602.6,252.8 602.2,252.7 601.7,252.7 601.2,252.6 600.7,252.6 600.2,252.5 599.7,252.5 599.3,252.4 598.8,252.4 598.3,252.3 597.8,252.3 597.3,252.2 596.9,252.2 596.4,252.1 595.9,252.1 595.4,252 594.9,252 594.4,251.9 594,251.9 593.5,251.8 593,251.8 592.5,251.8 592,251.7 591.6,251.7 591.1,251.7 590.6,251.6 590.1,251.6 589.6,251.6 589.2,251.6 588.7,251.5 588.2,251.5 587.7,251.5 587.2,251.5 586.7,251.4 586.3,251.4 585.8,251.4 585.3,251.4 584.8,251.3 584.3,251.3 583.9,251.3 583.4,251.3 582.9,251.2 582.4,251.2 581.9,251.2 581.4,251.2 581,251.2 580.5,251.1 580,251.1 579.5,251.1 579,251.1 578.6,251 578.1,251 577.6,251 577.1,251 576.6,251 576.1,251 575.7,250.9 575.2,250.9 574.7,250.9 574.2,250.9 573.7,250.9 573.3,250.8 572.8,250.8 572.3,250.8 571.8,250.8 571.3,250.8 570.8,250.8 570.4,250.7 569.9,250.7 569.4,250.7 568.9,250.7 568.4,250.7 568,250.7 567.5,250.6 567,250.6 566.5,250.6 566,250.6 565.6,250.6 565.1,250.6 564.6,250.5 564.1,250.5 563.6,250.5 563.1,250.5 562.7,250.5 562.2,250.5 561.7,250.5 561.2,250.4 560.7,250.4 560.3,250.4 559.8,250.4 559.3,250.4 558.8,250.4 558.3,250.3 557.8,250.3 557.4,250.3 556.9,250.3 556.4,250.3 555.9,250.3 555.4,250.3 555,250.2 554.5,250.2 554,250.2 553.5,250.2 553,250.2 552.5,250.2 552.1,250.2 551.6,250.1 551.1,250.1 550.6,250.1 550.1,250.1 549.7,250.1 549.2,250.1 548.7,250.1 548.2,250.1 547.7,250 547.3,250 546.8,250 546.3,250 545.8,250 545.3,250 544.8,250 544.4,250 543.9,249.9 543.4,249.9 542.9,249.9 542.4,249.9 542,249.9 541.5,249.9 541,249.9 540.5,249.9 540,249.8 539.5,249.8 539.1,249.8 538.6,249.8 538.1,249.8" fill="url(#gpu)" opacity="1.0"/>
<polyline points="538.1,249.6 538.6,249.7 539.1,249.7 539.5,249.7 540,249.7 540.5,249.7 541,249.7 541.5,249.7 542,249.7 542.4,249.7 542.9,249.7 543.4,249.7 543.9,249.8 544.4,249.8 544.8,249.8 545.3,249.8 545.8,249.8 546.3,249.8 546.8,249.8 547.3,249.8 547.7,249.8 548.2,249.8 548.7,249.8 549.2,249.9 549.7,249.9 550.1,249.9 550.6,249.9 551.1,249.9 551.6,249.9 552.1,249.9 552.5,249.9 553,249.9 553.5,249.9 554,249.9 554.5,249.9 555,250 555.4,250 555.9,250 556.4,250 556.9,250 557.4,250 557.8,250 558.3,250 558.8,250 559.3,250 559.8,250 560.3,250 560.7,250 561.2,250 561.7,250 562.2,249.9 562.7,249.9 563.1,249.9 563.6,249.9 564.1,249.9 564.6,249.9 565.1,249.8 565.6,249.8 566,249.8 566.5,249.7 567,249.7 567.5,249.6 568,249.6 568.4,249.5 568.9,249.4 569.4,249.4 569.9,249.3 570.4,249.2 570.8,249.1 571.3,249 571.8,248.9 572.3,248.7 572.8,248.6 573.3,248.4 573.7,248.3 574.2,248.1 574.7,247.9 575.2,247.7 575.7,247.5 576.1,247.2 576.6,247 577.1,246.7 577.6,246.4 578.1,246.1 578.6,245.8 579,245.4 579.5,245.1 580,244.7 580.5,244.3 581,243.8 581.4,243.4 581.9,242.9 582.4,242.4 582.9,241.9 583.4,241.3 583.9,240.7 584.3,240.1 584.8,239.5 585.3,238.8 585.8,238.2 586.3,237.4 586.7,236.7 587.2,236 587.7,235.2 588.2,234.4 588.7,233.5 589.2,232.7 589.6,231.8 590.1,230.9 590.6,230 591.1,229.1 591.6,228.1 592,227.2 592.5,226.2 593,225.2 593.5,224.3 594,223.3 594.4,222.3 594.9,221.3 595.4,220.3 595.9,219.3 596.4,218.3 596.9,217.3 597.3,216.3 597.8,215.4 598.3,214.4 598.8,213.5 599.3,212.6 599.7,211.7 600.2,210.8 600.7,210 601.2,209.2 601.7,208.5 602.2,207.7 602.6,207.1 603.1,206.4 603.6,205.8 604.1,205.3 604.6,204.8 605,204.3 605.5,203.9 606,203.6 606.5,203.3 607,203.1 607.5,202.9 607.9,202.8 608.4,202.7 608.9,202.8 609.4,202.8 609.9,203 610.3,203.1 610.8,203.4 611.3,203.7 611.8,204 612.3,204.5 612.7,204.9 613.2,205.5 613.7,206 614.2,206.6 614.7,207.3 615.2,208 615.6,208.8 616.1,209.6 616.6,210.4 617.1,211.3 617.6,212.2 618,213.1 618.5,214.1 619,215 619.5,216 620,217.1 620.5,218.1 620.9,219.1 621.4,220.2 621.9,221.2 622.4,222.3 622.9,223.4 623.3,224.4 623.8,225.5 624.3,226.5 624.8,227.6 625.3,228.6 625.8,229.6 626.2,230.7 626.7,231.6 627.2,232.6 627.7,233.6 628.2,234.5 628.6,235.4 629.1,236.3 629.6,237.2 630.1,238.1 630.6,238.9 631,239.7 631.5,240.4 632,241.2 632.5,241.9 633,242.6 633.5,243.3 633.9,243.9 634.4,244.5 634.9,245.1 635.4,245.7 635.9,246.2 636.3,246.7 636.8,247.2 637.3,247.7 637.8,248.1 638.3,248.6 638.8,249 639.2,249.3 639.7,249.7 640.2,250 640.7,250.3 641.2,250.6 641.6,250.9 642.1,251.2 642.6,251.4 643.1,251.6 643.6,251.9 644.1,252.1 644.5,252.2 645,252.4 645.5,252.6 646,252.7 646.5,252.9 646.9,253 647.4,253.1 647.9,253.3 648.4,253.4 648.9,253.5 649.4,253.5 649.8,253.6 650.3,253.7 650.8,253.8 651.3,253.8 651.8,253.9 652.2,254 652.7,254 653.2,254.1 653.7,254.1 654.2,254.2 654.6,254.2 655.1,254.2 655.6,254.3 656.1,254.3 656.6,254.3 657.1,254.3 657.5,254.4 658,254.4 658.5,254.4 659,254.4 659.5,254.4 659.9,254.4 660.4,254.5 660.9,254.5 661.4,254.5 661.9,254.5 662.4,254.5 662.8,254.5 663.3,254.5 663.8,254.5 664.3,254.5 664.8,254.5 665.2,254.5 665.7,254.5 666.2,254.4 666.7,254.4 667.2,254.4 667.7,254.4 668.1,254.3 668.6,254.3 669.1,254.2 669.6,254.2 670.1,254.2 670.5,254.1 671,254.1 671.5,254 672,254 672.5,254 672.9,253.9 673.4,253.9 673.9,253.8 674.4,253.7 674.9,253.7 675.4,253.6 675.8,253.5 676.3,253.4 676.8,253.4 677.3,253.3 677.8,253.2 678.2,253.1 678.7,253 679.2,252.9 679.7,252.8 680.2,252.7 680.7,252.6 681.1,252.5 681.6,252.3 682.1,252.2" fill="none" stroke="#5a48a8" stroke-width="0.5" opacity="1.0"/>
<polygon points="538.1,248.4 538.6,248.4 539.1,248.3 539.5,248.3 540,248.3 540.5,248.3 541,248.3 541.5,248.3 542,248.2 542.4,248.2 542.9,248.2 543.4,248.2 543.9,248.1 544.4,248.1 544.8,248.1 545.3,248.1 545.8,248 546.3,248 546.8,248 547.3,247.9 547.7,247.9 548.2,247.9 548.7,247.8 549.2,247.8 549.7,247.7 550.1,247.7 550.6,247.6 551.1,247.6 551.6,247.5 552.1,247.5 552.5,247.4 553,247.4 553.5,247.3 554,247.2 554.5,247.1 555,247 555.4,247 555.9,246.9 556.4,246.8 556.9,246.7 557.4,246.6 557.8,246.4 558.3,246.3 558.8,246.2 559.3,246 559.8,245.9 560.3,245.8 560.7,245.6 561.2,245.4 561.7,245.2 562.2,245.1 562.7,244.9 563.1,244.7 563.6,244.4 564.1,244.2 564.6,244 565.1,243.7 565.6,243.5 566,243.2 566.5,242.9 567,242.6 567.5,242.3 568,242 568.4,241.7 568.9,241.3 569.4,241 569.9,240.6 570.4,240.2 570.8,239.8 571.3,239.4 571.8,239 572.3,238.6 572.8,238.1 573.3,237.6 573.7,237.2 574.2,236.7 574.7,236.2 575.2,235.7 575.7,235.2 576.1,234.6 576.6,234.1 577.1,233.5 577.6,233 578.1,232.4 578.6,231.8 579,231.3 579.5,230.7 580,230.1 580.5,229.5 581,228.9 581.4,228.3 581.9,227.7 582.4,227.1 582.9,226.5 583.4,225.9 583.9,225.4 584.3,224.8 584.8,224.2 585.3,223.7 585.8,223.2 586.3,222.7 586.7,222.2 587.2,221.7 587.7,221.3 588.2,220.9 588.7,220.5 589.2,220.1 589.6,219.8 590.1,219.6 590.6,219.3 591.1,219.1 591.6,219 592,218.9 592.5,218.8 593,218.8 593.5,218.8 594,218.9 594.4,219 594.9,219.2 595.4,219.4 595.9,219.6 596.4,219.9 596.9,220.2 597.3,220.5 597.8,220.8 598.3,221.2 598.8,221.7 599.3,222.1 599.7,222.6 600.2,223.1 600.7,223.6 601.2,224.1 601.7,224.6 602.2,225.2 602.6,225.8 603.1,226.4 603.6,227 604.1,227.6 604.6,228.2 605,228.8 605.5,229.4 606,230 606.5,230.6 607,231.2 607.5,231.8 607.9,232.4 608.4,233 608.9,233.6 609.4,234.2 609.9,234.8 610.3,235.4 610.8,235.9 611.3,236.5 611.8,237 612.3,237.6 612.7,238.1 613.2,238.6 613.7,239.1 614.2,239.6 614.7,240.1 615.2,240.6 615.6,241 616.1,241.5 616.6,241.9 617.1,242.4 617.6,242.8 618,243.2 618.5,243.6 619,244 619.5,244.3 620,244.7 620.5,245.1 620.9,245.4 621.4,245.7 621.9,246 622.4,246.3 622.9,246.6 623.3,246.9 623.8,247.2 624.3,247.5 624.8,247.7 625.3,248 625.8,248.2 626.2,248.4 626.7,248.7 627.2,248.9 627.7,249.1 628.2,249.3 628.6,249.5 629.1,249.6 629.6,249.8 630.1,250 630.6,250.1 631,250.3 631.5,250.4 632,250.6 632.5,250.7 633,250.8 633.5,250.9 633.9,251.1 634.4,251.2 634.9,251.3 635.4,251.4 635.9,251.5 636.3,251.6 636.8,251.7 637.3,251.8 637.8,251.8 638.3,251.9 638.8,252 639.2,252.1 639.7,252.1 640.2,252.2 640.7,252.3 641.2,252.3 641.6,252.4 642.1,252.4 642.6,252.5 643.1,252.5 643.6,252.6 644.1,252.6 644.5,252.7 645,252.7 645.5,252.8 646,252.8 646.5,252.8 646.9,252.9 647.4,252.9 647.9,253 648.4,253 648.9,253 649.4,253.1 649.8,253.1 650.3,253.1 650.8,253.2 651.3,253.2 651.8,253.2 652.2,253.3 652.7,253.3 653.2,253.3 653.7,253.3 654.2,253.4 654.6,253.4 655.1,253.4 655.6,253.4 656.1,253.5 656.6,253.5 657.1,253.5 657.5,253.5 658,253.5 658.5,253.6 659,253.6 659.5,253.6 659.9,253.6 660.4,253.6 660.9,253.6 661.4,253.7 661.9,253.7 662.4,253.7 662.8,253.7 663.3,253.7 663.8,253.7 664.3,253.7 664.8,253.7 665.2,253.7 665.7,253.7 666.2,253.7 666.7,253.7 667.2,253.6 667.7,253.6 668.1,253.6 668.6,253.6 669.1,253.5 669.6,253.5 670.1,253.5 670.5,253.4 671,253.4 671.5,253.4 672,253.3 672.5,253.3 672.9,253.3 673.4,253.2 673.9,253.2 674.4,253.1 674.9,253 675.4,253 675.8,252.9 676.3,252.8 676.8,252.7 677.3,252.7 677.8,252.6 678.2,252.5 678.7,252.4 679.2,252.3 679.7,252.2 680.2,252.1 680.7,252 681.1,251.9 681.6,251.8 682.1,251.7 682.1,252.4 681.6,252.5 681.1,252.6 680.7,252.7 680.2,252.8 679.7,252.9 679.2,253 678.7,253.1 678.2,253.2 677.8,253.3 677.3,253.4 676.8,253.5 676.3,253.6 675.8,253.7 675.4,253.8 674.9,253.8 674.4,253.9 673.9,254 673.4,254 672.9,254.1 672.5,254.2 672,254.2 671.5,254.2 671,254.3 670.5,254.3 670.1,254.4 669.6,254.4 669.1,254.5 668.6,254.5 668.1,254.5 667.7,254.6 667.2,254.6 666.7,254.6 666.2,254.7 665.7,254.7 665.2,254.7 664.8,254.8 664.3,254.8 663.8,254.8 663.3,254.8 662.8,254.8 662.4,254.8 661.9,254.8 661.4,254.8 660.9,254.8 660.4,254.8 659.9,254.8 659.5,254.8 659,254.8 658.5,254.8 658,254.8 657.5,254.8 657.1,254.8 656.6,254.8 656.1,254.8 655.6,254.8 655.1,254.8 654.6,254.8 654.2,254.8 653.7,254.8 653.2,254.8 652.7,254.8 652.2,254.7 651.8,254.7 651.3,254.7 650.8,254.7 650.3,254.7 649.8,254.7 649.4,254.7 648.9,254.7 648.4,254.7 647.9,254.7 647.4,254.7 646.9,254.7 646.5,254.7 646,254.7 645.5,254.7 645,254.7 644.5,254.7 644.1,254.7 643.6,254.6 643.1,254.6 642.6,254.6 642.1,254.6 641.6,254.6 641.2,254.6 640.7,254.6 640.2,254.6 639.7,254.6 639.2,254.6 638.8,254.6 638.3,254.6 637.8,254.6 637.3,254.6 636.8,254.5 636.3,254.5 635.9,254.5 635.4,254.5 634.9,254.5 634.4,254.5 633.9,254.5 633.5,254.5 633,254.5 632.5,254.4 632,254.4 631.5,254.4 631,254.4 630.6,254.4 630.1,254.4 629.6,254.4 629.1,254.3 628.6,254.3 628.2,254.3 627.7,254.3 627.2,254.3 626.7,254.2 626.2,254.2 625.8,254.2 625.3,254.2 624.8,254.2 624.3,254.2 623.8,254.1 623.3,254.1 622.9,254.1 622.4,254.1 621.9,254.1 621.4,254 620.9,254 620.5,254 620,254 619.5,253.9 619,253.9 618.5,253.9 618,253.9 617.6,253.9 617.1,253.8 616.6,253.8 616.1,253.8 615.6,253.8 615.2,253.7 614.7,253.7 614.2,253.7 613.7,253.7 613.2,253.6 612.7,253.6 612.3,253.6 611.8,253.6 611.3,253.5 610.8,253.5 610.3,253.5 609.9,253.4 609.4,253.4 608.9,253.4 608.4,253.3 607.9,253.3 607.5,253.2 607,253.2 606.5,253.1 606,253.1 605.5,253.1 605,253 604.6,253 604.1,252.9 603.6,252.9 603.1,252.8 602.6,252.8 602.2,252.7 601.7,252.7 601.2,252.6 600.7,252.6 600.2,252.5 599.7,252.5 599.3,252.4 598.8,252.4 598.3,252.3 597.8,252.3 597.3,252.2 596.9,252.2 596.4,252.1 595.9,252.1 595.4,252 594.9,252 594.4,251.9 594,251.9 593.5,251.8 593,251.8 592.5,251.8 592,251.7 591.6,251.7 591.1,251.7 590.6,251.6 590.1,251.6 589.6,251.6 589.2,251.6 588.7,251.5 588.2,251.5 587.7,251.5 587.2,251.5 586.7,251.4 586.3,251.4 585.8,251.4 585.3,251.4 584.8,251.3 584.3,251.3 583.9,251.3 583.4,251.3 582.9,251.2 582.4,251.2 581.9,251.2 581.4,251.2 581,251.2 580.5,251.1 580,251.1 579.5,251.1 579,251.1 578.6,251 578.1,251 577.6,251 577.1,251 576.6,251 576.1,251 575.7,250.9 575.2,250.9 574.7,250.9 574.2,250.9 573.7,250.9 573.3,250.8 572.8,250.8 572.3,250.8 571.8,250.8 571.3,250.8 570.8,250.8 570.4,250.7 569.9,250.7 569.4,250.7 568.9,250.7 568.4,250.7 568,250.7 567.5,250.6 567,250.6 566.5,250.6 566,250.6 565.6,250.6 565.1,250.6 564.6,250.5 564.1,250.5 563.6,250.5 563.1,250.5 562.7,250.5 562.2,250.5 561.7,250.5 561.2,250.4 560.7,250.4 560.3,250.4 559.8,250.4 559.3,250.4 558.8,250.4 558.3,250.3 557.8,250.3 557.4,250.3 556.9,250.3 556.4,250.3 555.9,250.3 555.4,250.3 555,250.2 554.5,250.2 554,250.2 553.5,250.2 553,250.2 552.5,250.2 552.1,250.2 551.6,250.1 551.1,250.1 550.6,250.1 550.1,250.1 549.7,250.1 549.2,250.1 548.7,250.1 548.2,250.1 547.7,250 547.3,250 546.8,250 546.3,250 545.8,250 545.3,250 544.8,250 544.4,250 543.9,249.9 543.4,249.9 542.9,249.9 542.4,249.9 542,249.9 541.5,249.9 541,249.9 540.5,249.9 540,249.8 539.5,249.8 539.1,249.8 538.6,249.8 538.1,249.8" fill="url(#gor)" opacity="1.0"/>
<polyline points="538.1,248.4 538.6,248.4 539.1,248.3 539.5,248.3 540,248.3 540.5,248.3 541,248.3 541.5,248.3 542,248.2 542.4,248.2 542.9,248.2 543.4,248.2 543.9,248.1 544.4,248.1 544.8,248.1 545.3,248.1 545.8,248 546.3,248 546.8,248 547.3,247.9 547.7,247.9 548.2,247.9 548.7,247.8 549.2,247.8 549.7,247.7 550.1,247.7 550.6,247.6 551.1,247.6 551.6,247.5 552.1,247.5 552.5,247.4 553,247.4 553.5,247.3 554,247.2 554.5,247.1 555,247 555.4,247 555.9,246.9 556.4,246.8 556.9,246.7 557.4,246.6 557.8,246.4 558.3,246.3 558.8,246.2 559.3,246 559.8,245.9 560.3,245.8 560.7,245.6 561.2,245.4 561.7,245.2 562.2,245.1 562.7,244.9 563.1,244.7 563.6,244.4 564.1,244.2 564.6,244 565.1,243.7 565.6,243.5 566,243.2 566.5,242.9 567,242.6 567.5,242.3 568,242 568.4,241.7 568.9,241.3 569.4,241 569.9,240.6 570.4,240.2 570.8,239.8 571.3,239.4 571.8,239 572.3,238.6 572.8,238.1 573.3,237.6 573.7,237.2 574.2,236.7 574.7,236.2 575.2,235.7 575.7,235.2 576.1,234.6 576.6,234.1 577.1,233.5 577.6,233 578.1,232.4 578.6,231.8 579,231.3 579.5,230.7 580,230.1 580.5,229.5 581,228.9 581.4,228.3 581.9,227.7 582.4,227.1 582.9,226.5 583.4,225.9 583.9,225.4 584.3,224.8 584.8,224.2 585.3,223.7 585.8,223.2 586.3,222.7 586.7,222.2 587.2,221.7 587.7,221.3 588.2,220.9 588.7,220.5 589.2,220.1 589.6,219.8 590.1,219.6 590.6,219.3 591.1,219.1 591.6,219 592,218.9 592.5,218.8 593,218.8 593.5,218.8 594,218.9 594.4,219 594.9,219.2 595.4,219.4 595.9,219.6 596.4,219.9 596.9,220.2 597.3,220.5 597.8,220.8 598.3,221.2 598.8,221.7 599.3,222.1 599.7,222.6 600.2,223.1 600.7,223.6 601.2,224.1 601.7,224.6 602.2,225.2 602.6,225.8 603.1,226.4 603.6,227 604.1,227.6 604.6,228.2 605,228.8 605.5,229.4 606,230 606.5,230.6 607,231.2 607.5,231.8 607.9,232.4 608.4,233 608.9,233.6 609.4,234.2 609.9,234.8 610.3,235.4 610.8,235.9 611.3,236.5 611.8,237 612.3,237.6 612.7,238.1 613.2,238.6 613.7,239.1 614.2,239.6 614.7,240.1 615.2,240.6 615.6,241 616.1,241.5 616.6,241.9 617.1,242.4 617.6,242.8 618,243.2 618.5,243.6 619,244 619.5,244.3 620,244.7 620.5,245.1 620.9,245.4 621.4,245.7 621.9,246 622.4,246.3 622.9,246.6 623.3,246.9 623.8,247.2 624.3,247.5 624.8,247.7 625.3,248 625.8,248.2 626.2,248.4 626.7,248.7 627.2,248.9 627.7,249.1 628.2,249.3 628.6,249.5 629.1,249.6 629.6,249.8 630.1,250 630.6,250.1 631,250.3 631.5,250.4 632,250.6 632.5,250.7 633,250.8 633.5,250.9 633.9,251.1 634.4,251.2 634.9,251.3 635.4,251.4 635.9,251.5 636.3,251.6 636.8,251.7 637.3,251.8 637.8,251.8 638.3,251.9 638.8,252 639.2,252.1 639.7,252.1 640.2,252.2 640.7,252.3 641.2,252.3 641.6,252.4 642.1,252.4 642.6,252.5 643.1,252.5 643.6,252.6 644.1,252.6 644.5,252.7 645,252.7 645.5,252.8 646,252.8 646.5,252.8 646.9,252.9 647.4,252.9 647.9,253 648.4,253 648.9,253 649.4,253.1 649.8,253.1 650.3,253.1 650.8,253.2 651.3,253.2 651.8,253.2 652.2,253.3 652.7,253.3 653.2,253.3 653.7,253.3 654.2,253.4 654.6,253.4 655.1,253.4 655.6,253.4 656.1,253.5 656.6,253.5 657.1,253.5 657.5,253.5 658,253.5 658.5,253.6 659,253.6 659.5,253.6 659.9,253.6 660.4,253.6 660.9,253.6 661.4,253.7 661.9,253.7 662.4,253.7 662.8,253.7 663.3,253.7 663.8,253.7 664.3,253.7 664.8,253.7 665.2,253.7 665.7,253.7 666.2,253.7 666.7,253.7 667.2,253.6 667.7,253.6 668.1,253.6 668.6,253.6 669.1,253.5 669.6,253.5 670.1,253.5 670.5,253.4 671,253.4 671.5,253.4 672,253.3 672.5,253.3 672.9,253.3 673.4,253.2 673.9,253.2 674.4,253.1 674.9,253 675.4,253 675.8,252.9 676.3,252.8 676.8,252.7 677.3,252.7 677.8,252.6 678.2,252.5 678.7,252.4 679.2,252.3 679.7,252.2 680.2,252.1 680.7,252 681.1,251.9 681.6,251.8 682.1,251.7" fill="none" stroke="#e8702a" stroke-width="0.5" opacity="1.0"/>
<polygon points="538.1,249.8 538.6,249.8 539.1,249.8 539.5,249.8 540,249.8 540.5,249.8 541,249.8 541.5,249.9 542,249.9 542.4,249.9 542.9,249.9 543.4,249.9 543.9,249.9 544.4,249.9 544.8,249.9 545.3,249.9 545.8,250 546.3,250 546.8,250 547.3,250 547.7,250 548.2,250 548.7,250 549.2,250 549.7,250.1 550.1,250.1 550.6,250.1 551.1,250.1 551.6,250.1 552.1,250.1 552.5,250.1 553,250.2 553.5,250.2 554,250.2 554.5,250.2 555,250.2 555.4,250.2 555.9,250.2 556.4,250.3 556.9,250.3 557.4,250.3 557.8,250.3 558.3,250.3 558.8,250.3 559.3,250.3 559.8,250.4 560.3,250.4 560.7,250.4 561.2,250.4 561.7,250.4 562.2,250.4 562.7,250.4 563.1,250.5 563.6,250.5 564.1,250.5 564.6,250.5 565.1,250.5 565.6,250.5 566,250.6 566.5,250.6 567,250.6 567.5,250.6 568,250.6 568.4,250.6 568.9,250.6 569.4,250.7 569.9,250.7 570.4,250.7 570.8,250.7 571.3,250.7 571.8,250.7 572.3,250.8 572.8,250.8 573.3,250.8 573.7,250.8 574.2,250.8 574.7,250.8 575.2,250.9 575.7,250.9 576.1,250.9 576.6,250.9 577.1,250.9 577.6,251 578.1,251 578.6,251 579,251 579.5,251 580,251 580.5,251.1 581,251.1 581.4,251.1 581.9,251.1 582.4,251.1 582.9,251.2 583.4,251.2 583.9,251.2 584.3,251.2 584.8,251.3 585.3,251.3 585.8,251.3 586.3,251.3 586.7,251.3 587.2,251.4 587.7,251.4 588.2,251.4 588.7,251.4 589.2,251.5 589.6,251.5 590.1,251.5 590.6,251.5 591.1,251.6 591.6,251.6 592,251.6 592.5,251.7 593,251.7 593.5,251.7 594,251.8 594.4,251.8 594.9,251.9 595.4,251.9 595.9,251.9 596.4,252 596.9,252 597.3,252.1 597.8,252.1 598.3,252.2 598.8,252.2 599.3,252.3 599.7,252.3 600.2,252.4 600.7,252.4 601.2,252.5 601.7,252.5 602.2,252.6 602.6,252.6 603.1,252.7 603.6,252.7 604.1,252.7 604.6,252.8 605,252.8 605.5,252.9 606,252.9 606.5,253 607,253 607.5,253 607.9,253.1 608.4,253.1 608.9,253.1 609.4,253.1 609.9,253.2 610.3,253.2 610.8,253.2 611.3,253.2 611.8,253.2 612.3,253.2 612.7,253.2 613.2,253.2 613.7,253.2 614.2,253.2 614.7,253.2 615.2,253.2 615.6,253.1 616.1,253.1 616.6,253.1 617.1,253 617.6,253 618,252.9 618.5,252.8 619,252.8 619.5,252.7 620,252.6 620.5,252.5 620.9,252.3 621.4,252.2 621.9,252 622.4,251.9 622.9,251.7 623.3,251.5 623.8,251.3 624.3,251.1 624.8,250.8 625.3,250.6 625.8,250.3 626.2,250 626.7,249.7 627.2,249.3 627.7,249 628.2,248.6 628.6,248.2 629.1,247.8 629.6,247.4 630.1,246.9 630.6,246.5 631,246 631.5,245.5 632,245 632.5,244.5 633,244 633.5,243.5 633.9,243 634.4,242.4 634.9,241.9 635.4,241.4 635.9,240.9 636.3,240.3 636.8,239.8 637.3,239.4 637.8,238.9 638.3,238.4 638.8,238 639.2,237.6 639.7,237.2 640.2,236.9 640.7,236.6 641.2,236.3 641.6,236 642.1,235.8 642.6,235.7 643.1,235.6 643.6,235.5 644.1,235.5 644.5,235.5 645,235.5 645.5,235.6 646,235.8 646.5,236 646.9,236.2 647.4,236.5 647.9,236.8 648.4,237.1 648.9,237.5 649.4,237.9 649.8,238.3 650.3,238.8 650.8,239.2 651.3,239.7 651.8,240.2 652.2,240.8 652.7,241.3 653.2,241.8 653.7,242.4 654.2,242.9 654.6,243.5 655.1,244 655.6,244.5 656.1,245.1 656.6,245.6 657.1,246.1 657.5,246.6 658,247.1 658.5,247.5 659,248 659.5,248.4 659.9,248.9 660.4,249.3 660.9,249.6 661.4,250 661.9,250.4 662.4,250.7 662.8,251 663.3,251.3 663.8,251.5 664.3,251.8 664.8,252 665.2,252.2 665.7,252.4 666.2,252.6 666.7,252.7 667.2,252.8 667.7,253 668.1,253.1 668.6,253.2 669.1,253.2 669.6,253.3 670.1,253.3 670.5,253.4 671,253.4 671.5,253.5 672,253.5 672.5,253.5 672.9,253.5 673.4,253.5 673.9,253.5 674.4,253.4 674.9,253.4 675.4,253.4 675.8,253.3 676.3,253.3 676.8,253.2 677.3,253.1 677.8,253 678.2,253 678.7,252.9 679.2,252.8 679.7,252.7 680.2,252.6 680.7,252.5 681.1,252.4 681.6,252.3 682.1,252.2 682.1,252.4 681.6,252.5 681.1,252.6 680.7,252.7 680.2,252.8 679.7,252.9 679.2,253 678.7,253.1 678.2,253.2 677.8,253.3 677.3,253.4 676.8,253.5 676.3,253.6 675.8,253.7 675.4,253.8 674.9,253.8 674.4,253.9 673.9,254 673.4,254 672.9,254.1 672.5,254.2 672,254.2 671.5,254.2 671,254.3 670.5,254.3 670.1,254.4 669.6,254.4 669.1,254.5 668.6,254.5 668.1,254.5 667.7,254.6 667.2,254.6 666.7,254.6 666.2,254.7 665.7,254.7 665.2,254.7 664.8,254.8 664.3,254.8 663.8,254.8 663.3,254.8 662.8,254.8 662.4,254.8 661.9,254.8 661.4,254.8 660.9,254.8 660.4,254.8 659.9,254.8 659.5,254.8 659,254.8 658.5,254.8 658,254.8 657.5,254.8 657.1,254.8 656.6,254.8 656.1,254.8 655.6,254.8 655.1,254.8 654.6,254.8 654.2,254.8 653.7,254.8 653.2,254.8 652.7,254.8 652.2,254.7 651.8,254.7 651.3,254.7 650.8,254.7 650.3,254.7 649.8,254.7 649.4,254.7 648.9,254.7 648.4,254.7 647.9,254.7 647.4,254.7 646.9,254.7 646.5,254.7 646,254.7 645.5,254.7 645,254.7 644.5,254.7 644.1,254.7 643.6,254.6 643.1,254.6 642.6,254.6 642.1,254.6 641.6,254.6 641.2,254.6 640.7,254.6 640.2,254.6 639.7,254.6 639.2,254.6 638.8,254.6 638.3,254.6 637.8,254.6 637.3,254.6 636.8,254.5 636.3,254.5 635.9,254.5 635.4,254.5 634.9,254.5 634.4,254.5 633.9,254.5 633.5,254.5 633,254.5 632.5,254.4 632,254.4 631.5,254.4 631,254.4 630.6,254.4 630.1,254.4 629.6,254.4 629.1,254.3 628.6,254.3 628.2,254.3 627.7,254.3 627.2,254.3 626.7,254.2 626.2,254.2 625.8,254.2 625.3,254.2 624.8,254.2 624.3,254.2 623.8,254.1 623.3,254.1 622.9,254.1 622.4,254.1 621.9,254.1 621.4,254 620.9,254 620.5,254 620,254 619.5,253.9 619,253.9 618.5,253.9 618,253.9 617.6,253.9 617.1,253.8 616.6,253.8 616.1,253.8 615.6,253.8 615.2,253.7 614.7,253.7 614.2,253.7 613.7,253.7 613.2,253.6 612.7,253.6 612.3,253.6 611.8,253.6 611.3,253.5 610.8,253.5 610.3,253.5 609.9,253.4 609.4,253.4 608.9,253.4 608.4,253.3 607.9,253.3 607.5,253.2 607,253.2 606.5,253.1 606,253.1 605.5,253.1 605,253 604.6,253 604.1,252.9 603.6,252.9 603.1,252.8 602.6,252.8 602.2,252.7 601.7,252.7 601.2,252.6 600.7,252.6 600.2,252.5 599.7,252.5 599.3,252.4 598.8,252.4 598.3,252.3 597.8,252.3 597.3,252.2 596.9,252.2 596.4,252.1 595.9,252.1 595.4,252 594.9,252 594.4,251.9 594,251.9 593.5,251.8 593,251.8 592.5,251.8 592,251.7 591.6,251.7 591.1,251.7 590.6,251.6 590.1,251.6 589.6,251.6 589.2,251.6 588.7,251.5 588.2,251.5 587.7,251.5 587.2,251.5 586.7,251.4 586.3,251.4 585.8,251.4 585.3,251.4 584.8,251.3 584.3,251.3 583.9,251.3 583.4,251.3 582.9,251.2 582.4,251.2 581.9,251.2 581.4,251.2 581,251.2 580.5,251.1 580,251.1 579.5,251.1 579,251.1 578.6,251 578.1,251 577.6,251 577.1,251 576.6,251 576.1,251 575.7,250.9 575.2,250.9 574.7,250.9 574.2,250.9 573.7,250.9 573.3,250.8 572.8,250.8 572.3,250.8 571.8,250.8 571.3,250.8 570.8,250.8 570.4,250.7 569.9,250.7 569.4,250.7 568.9,250.7 568.4,250.7 568,250.7 567.5,250.6 567,250.6 566.5,250.6 566,250.6 565.6,250.6 565.1,250.6 564.6,250.5 564.1,250.5 563.6,250.5 563.1,250.5 562.7,250.5 562.2,250.5 561.7,250.5 561.2,250.4 560.7,250.4 560.3,250.4 559.8,250.4 559.3,250.4 558.8,250.4 558.3,250.3 557.8,250.3 557.4,250.3 556.9,250.3 556.4,250.3 555.9,250.3 555.4,250.3 555,250.2 554.5,250.2 554,250.2 553.5,250.2 553,250.2 552.5,250.2 552.1,250.2 551.6,250.1 551.1,250.1 550.6,250.1 550.1,250.1 549.7,250.1 549.2,250.1 548.7,250.1 548.2,250.1 547.7,250 547.3,250 546.8,250 546.3,250 545.8,250 545.3,250 544.8,250 544.4,250 543.9,249.9 543.4,249.9 542.9,249.9 542.4,249.9 542,249.9 541.5,249.9 541,249.9 540.5,249.9 540,249.8 539.5,249.8 539.1,249.8 538.6,249.8 538.1,249.8" fill="url(#gpu)" opacity="1.0"/>
<polyline points="538.1,249.8 538.6,249.8 539.1,249.8 539.5,249.8 540,249.8 540.5,249.8 541,249.8 541.5,249.9 542,249.9 542.4,249.9 542.9,249.9 543.4,249.9 543.9,249.9 544.4,249.9 544.8,249.9 545.3,249.9 545.8,250 546.3,250 546.8,250 547.3,250 547.7,250 548.2,250 548.7,250 549.2,250 549.7,250.1 550.1,250.1 550.6,250.1 551.1,250.1 551.6,250.1 552.1,250.1 552.5,250.1 553,250.2 553.5,250.2 554,250.2 554.5,250.2 555,250.2 555.4,250.2 555.9,250.2 556.4,250.3 556.9,250.3 557.4,250.3 557.8,250.3 558.3,250.3 558.8,250.3 559.3,250.3 559.8,250.4 560.3,250.4 560.7,250.4 561.2,250.4 561.7,250.4 562.2,250.4 562.7,250.4 563.1,250.5 563.6,250.5 564.1,250.5 564.6,250.5 565.1,250.5 565.6,250.5 566,250.6 566.5,250.6 567,250.6 567.5,250.6 568,250.6 568.4,250.6 568.9,250.6 569.4,250.7 569.9,250.7 570.4,250.7 570.8,250.7 571.3,250.7 571.8,250.7 572.3,250.8 572.8,250.8 573.3,250.8 573.7,250.8 574.2,250.8 574.7,250.8 575.2,250.9 575.7,250.9 576.1,250.9 576.6,250.9 577.1,250.9 577.6,251 578.1,251 578.6,251 579,251 579.5,251 580,251 580.5,251.1 581,251.1 581.4,251.1 581.9,251.1 582.4,251.1 582.9,251.2 583.4,251.2 583.9,251.2 584.3,251.2 584.8,251.3 585.3,251.3 585.8,251.3 586.3,251.3 586.7,251.3 587.2,251.4 587.7,251.4 588.2,251.4 588.7,251.4 589.2,251.5 589.6,251.5 590.1,251.5 590.6,251.5 591.1,251.6 591.6,251.6 592,251.6 592.5,251.7 593,251.7 593.5,251.7 594,251.8 594.4,251.8 594.9,251.9 595.4,251.9 595.9,251.9 596.4,252 596.9,252 597.3,252.1 597.8,252.1 598.3,252.2 598.8,252.2 599.3,252.3 599.7,252.3 600.2,252.4 600.7,252.4 601.2,252.5 601.7,252.5 602.2,252.6 602.6,252.6 603.1,252.7 603.6,252.7 604.1,252.7 604.6,252.8 605,252.8 605.5,252.9 606,252.9 606.5,253 607,253 607.5,253 607.9,253.1 608.4,253.1 608.9,253.1 609.4,253.1 609.9,253.2 610.3,253.2 610.8,253.2 611.3,253.2 611.8,253.2 612.3,253.2 612.7,253.2 613.2,253.2 613.7,253.2 614.2,253.2 614.7,253.2 615.2,253.2 615.6,253.1 616.1,253.1 616.6,253.1 617.1,253 617.6,253 618,252.9 618.5,252.8 619,252.8 619.5,252.7 620,252.6 620.5,252.5 620.9,252.3 621.4,252.2 621.9,252 622.4,251.9 622.9,251.7 623.3,251.5 623.8,251.3 624.3,251.1 624.8,250.8 625.3,250.6 625.8,250.3 626.2,250 626.7,249.7 627.2,249.3 627.7,249 628.2,248.6 628.6,248.2 629.1,247.8 629.6,247.4 630.1,246.9 630.6,246.5 631,246 631.5,245.5 632,245 632.5,244.5 633,244 633.5,243.5 633.9,243 634.4,242.4 634.9,241.9 635.4,241.4 635.9,240.9 636.3,240.3 636.8,239.8 637.3,239.4 637.8,238.9 638.3,238.4 638.8,238 639.2,237.6 639.7,237.2 640.2,236.9 640.7,236.6 641.2,236.3 641.6,236 642.1,235.8 642.6,235.7 643.1,235.6 643.6,235.5 644.1,235.5 644.5,235.5 645,235.5 645.5,235.6 646,235.8 646.5,236 646.9,236.2 647.4,236.5 647.9,236.8 648.4,237.1 648.9,237.5 649.4,237.9 649.8,238.3 650.3,238.8 650.8,239.2 651.3,239.7 651.8,240.2 652.2,240.8 652.7,241.3 653.2,241.8 653.7,242.4 654.2,242.9 654.6,243.5 655.1,244 655.6,244.5 656.1,245.1 656.6,245.6 657.1,246.1 657.5,246.6 658,247.1 658.5,247.5 659,248 659.5,248.4 659.9,248.9 660.4,249.3 660.9,249.6 661.4,250 661.9,250.4 662.4,250.7 662.8,251 663.3,251.3 663.8,251.5 664.3,251.8 664.8,252 665.2,252.2 665.7,252.4 666.2,252.6 666.7,252.7 667.2,252.8 667.7,253 668.1,253.1 668.6,253.2 669.1,253.2 669.6,253.3 670.1,253.3 670.5,253.4 671,253.4 671.5,253.5 672,253.5 672.5,253.5 672.9,253.5 673.4,253.5 673.9,253.5 674.4,253.4 674.9,253.4 675.4,253.4 675.8,253.3 676.3,253.3 676.8,253.2 677.3,253.1 677.8,253 678.2,253 678.7,252.9 679.2,252.8 679.7,252.7 680.2,252.6 680.7,252.5 681.1,252.4 681.6,252.3 682.1,252.2" fill="none" stroke="#5a48a8" stroke-width="0.5" opacity="1.0"/>
<polygon points="538.1,249.7 538.6,249.8 539.1,249.8 539.5,249.8 540,249.8 540.5,249.8 541,249.8 541.5,249.8 542,249.8 542.4,249.8 542.9,249.9 543.4,249.9 543.9,249.9 544.4,249.9 544.8,249.9 545.3,249.9 545.8,249.9 546.3,249.9 546.8,249.9 547.3,250 547.7,250 548.2,250 548.7,250 549.2,250 549.7,250 550.1,250 550.6,250 551.1,250.1 551.6,250.1 552.1,250.1 552.5,250.1 553,250.1 553.5,250.1 554,250.1 554.5,250.1 555,250.2 555.4,250.2 555.9,250.2 556.4,250.2 556.9,250.2 557.4,250.2 557.8,250.2 558.3,250.3 558.8,250.3 559.3,250.3 559.8,250.3 560.3,250.3 560.7,250.3 561.2,250.3 561.7,250.4 562.2,250.4 562.7,250.4 563.1,250.4 563.6,250.4 564.1,250.4 564.6,250.4 565.1,250.5 565.6,250.5 566,250.5 566.5,250.5 567,250.5 567.5,250.5 568,250.5 568.4,250.6 568.9,250.6 569.4,250.6 569.9,250.6 570.4,250.6 570.8,250.6 571.3,250.6 571.8,250.7 572.3,250.7 572.8,250.7 573.3,250.7 573.7,250.7 574.2,250.7 574.7,250.7 575.2,250.8 575.7,250.8 576.1,250.8 576.6,250.8 577.1,250.8 577.6,250.8 578.1,250.9 578.6,250.9 579,250.9 579.5,250.9 580,250.9 580.5,250.9 581,251 581.4,251 581.9,251 582.4,251 582.9,251 583.4,251.1 583.9,251.1 584.3,251.1 584.8,251.1 585.3,251.1 585.8,251.1 586.3,251.2 586.7,251.2 587.2,251.2 587.7,251.2 588.2,251.2 588.7,251.3 589.2,251.3 589.6,251.3 590.1,251.3 590.6,251.4 591.1,251.4 591.6,251.4 592,251.4 592.5,251.5 593,251.5 593.5,251.5 594,251.6 594.4,251.6 594.9,251.6 595.4,251.7 595.9,251.7 596.4,251.7 596.9,251.8 597.3,251.8 597.8,251.8 598.3,251.9 598.8,251.9 599.3,252 599.7,252 600.2,252 600.7,252.1 601.2,252.1 601.7,252.1 602.2,252.2 602.6,252.2 603.1,252.2 603.6,252.3 604.1,252.3 604.6,252.3 605,252.3 605.5,252.3 606,252.4 606.5,252.4 607,252.4 607.5,252.4 607.9,252.4 608.4,252.3 608.9,252.3 609.4,252.3 609.9,252.3 610.3,252.2 610.8,252.2 611.3,252.1 611.8,252 612.3,251.9 612.7,251.8 613.2,251.7 613.7,251.6 614.2,251.5 614.7,251.3 615.2,251.2 615.6,251 616.1,250.8 616.6,250.6 617.1,250.4 617.6,250.2 618,249.9 618.5,249.7 619,249.4 619.5,249.1 620,248.8 620.5,248.5 620.9,248.1 621.4,247.8 621.9,247.4 622.4,247 622.9,246.7 623.3,246.3 623.8,245.9 624.3,245.5 624.8,245.1 625.3,244.7 625.8,244.3 626.2,243.9 626.7,243.5 627.2,243.1 627.7,242.8 628.2,242.5 628.6,242.1 629.1,241.9 629.6,241.6 630.1,241.4 630.6,241.2 631,241 631.5,240.9 632,240.9 632.5,240.8 633,240.9 633.5,240.9 633.9,241.1 634.4,241.2 634.9,241.4 635.4,241.6 635.9,241.9 636.3,242.2 636.8,242.5 637.3,242.9 637.8,243.3 638.3,243.7 638.8,244.1 639.2,244.5 639.7,244.9 640.2,245.3 640.7,245.8 641.2,246.2 641.6,246.6 642.1,247 642.6,247.4 643.1,247.8 643.6,248.2 644.1,248.6 644.5,249 645,249.3 645.5,249.7 646,250 646.5,250.3 646.9,250.6 647.4,250.9 647.9,251.2 648.4,251.4 648.9,251.6 649.4,251.9 649.8,252.1 650.3,252.3 650.8,252.4 651.3,252.6 651.8,252.8 652.2,252.9 652.7,253 653.2,253.2 653.7,253.3 654.2,253.4 654.6,253.5 655.1,253.6 655.6,253.6 656.1,253.7 656.6,253.8 657.1,253.8 657.5,253.9 658,253.9 658.5,254 659,254 659.5,254.1 659.9,254.1 660.4,254.1 660.9,254.2 661.4,254.2 661.9,254.2 662.4,254.2 662.8,254.3 663.3,254.3 663.8,254.3 664.3,254.3 664.8,254.3 665.2,254.3 665.7,254.3 666.2,254.2 666.7,254.2 667.2,254.2 667.7,254.2 668.1,254.2 668.6,254.1 669.1,254.1 669.6,254.1 670.1,254 670.5,254 671,254 671.5,253.9 672,253.9 672.5,253.8 672.9,253.8 673.4,253.7 673.9,253.7 674.4,253.6 674.9,253.6 675.4,253.5 675.8,253.4 676.3,253.3 676.8,253.3 677.3,253.2 677.8,253.1 678.2,253 678.7,252.9 679.2,252.8 679.7,252.7 680.2,252.6 680.7,252.5 681.1,252.4 681.6,252.3 682.1,252.2 682.1,252.4 681.6,252.5 681.1,252.6 680.7,252.7 680.2,252.8 679.7,252.9 679.2,253 678.7,253.1 678.2,253.2 677.8,253.3 677.3,253.4 676.8,253.5 676.3,253.6 675.8,253.7 675.4,253.8 674.9,253.8 674.4,253.9 673.9,254 673.4,254 672.9,254.1 672.5,254.2 672,254.2 671.5,254.2 671,254.3 670.5,254.3 670.1,254.4 669.6,254.4 669.1,254.5 668.6,254.5 668.1,254.5 667.7,254.6 667.2,254.6 666.7,254.6 666.2,254.7 665.7,254.7 665.2,254.7 664.8,254.8 664.3,254.8 663.8,254.8 663.3,254.8 662.8,254.8 662.4,254.8 661.9,254.8 661.4,254.8 660.9,254.8 660.4,254.8 659.9,254.8 659.5,254.8 659,254.8 658.5,254.8 658,254.8 657.5,254.8 657.1,254.8 656.6,254.8 656.1,254.8 655.6,254.8 655.1,254.8 654.6,254.8 654.2,254.8 653.7,254.8 653.2,254.8 652.7,254.8 652.2,254.7 651.8,254.7 651.3,254.7 650.8,254.7 650.3,254.7 649.8,254.7 649.4,254.7 648.9,254.7 648.4,254.7 647.9,254.7 647.4,254.7 646.9,254.7 646.5,254.7 646,254.7 645.5,254.7 645,254.7 644.5,254.7 644.1,254.7 643.6,254.6 643.1,254.6 642.6,254.6 642.1,254.6 641.6,254.6 641.2,254.6 640.7,254.6 640.2,254.6 639.7,254.6 639.2,254.6 638.8,254.6 638.3,254.6 637.8,254.6 637.3,254.6 636.8,254.5 636.3,254.5 635.9,254.5 635.4,254.5 634.9,254.5 634.4,254.5 633.9,254.5 633.5,254.5 633,254.5 632.5,254.4 632,254.4 631.5,254.4 631,254.4 630.6,254.4 630.1,254.4 629.6,254.4 629.1,254.3 628.6,254.3 628.2,254.3 627.7,254.3 627.2,254.3 626.7,254.2 626.2,254.2 625.8,254.2 625.3,254.2 624.8,254.2 624.3,254.2 623.8,254.1 623.3,254.1 622.9,254.1 622.4,254.1 621.9,254.1 621.4,254 620.9,254 620.5,254 620,254 619.5,253.9 619,253.9 618.5,253.9 618,253.9 617.6,253.9 617.1,253.8 616.6,253.8 616.1,253.8 615.6,253.8 615.2,253.7 614.7,253.7 614.2,253.7 613.7,253.7 613.2,253.6 612.7,253.6 612.3,253.6 611.8,253.6 611.3,253.5 610.8,253.5 610.3,253.5 609.9,253.4 609.4,253.4 608.9,253.4 608.4,253.3 607.9,253.3 607.5,253.2 607,253.2 606.5,253.1 606,253.1 605.5,253.1 605,253 604.6,253 604.1,252.9 603.6,252.9 603.1,252.8 602.6,252.8 602.2,252.7 601.7,252.7 601.2,252.6 600.7,252.6 600.2,252.5 599.7,252.5 599.3,252.4 598.8,252.4 598.3,252.3 597.8,252.3 597.3,252.2 596.9,252.2 596.4,252.1 595.9,252.1 595.4,252 594.9,252 594.4,251.9 594,251.9 593.5,251.8 593,251.8 592.5,251.8 592,251.7 591.6,251.7 591.1,251.7 590.6,251.6 590.1,251.6 589.6,251.6 589.2,251.6 588.7,251.5 588.2,251.5 587.7,251.5 587.2,251.5 586.7,251.4 586.3,251.4 585.8,251.4 585.3,251.4 584.8,251.3 584.3,251.3 583.9,251.3 583.4,251.3 582.9,251.2 582.4,251.2 581.9,251.2 581.4,251.2 581,251.2 580.5,251.1 580,251.1 579.5,251.1 579,251.1 578.6,251 578.1,251 577.6,251 577.1,251 576.6,251 576.1,251 575.7,250.9 575.2,250.9 574.7,250.9 574.2,250.9 573.7,250.9 573.3,250.8 572.8,250.8 572.3,250.8 571.8,250.8 571.3,250.8 570.8,250.8 570.4,250.7 569.9,250.7 569.4,250.7 568.9,250.7 568.4,250.7 568,250.7 567.5,250.6 567,250.6 566.5,250.6 566,250.6 565.6,250.6 565.1,250.6 564.6,250.5 564.1,250.5 563.6,250.5 563.1,250.5 562.7,250.5 562.2,250.5 561.7,250.5 561.2,250.4 560.7,250.4 560.3,250.4 559.8,250.4 559.3,250.4 558.8,250.4 558.3,250.3 557.8,250.3 557.4,250.3 556.9,250.3 556.4,250.3 555.9,250.3 555.4,250.3 555,250.2 554.5,250.2 554,250.2 553.5,250.2 553,250.2 552.5,250.2 552.1,250.2 551.6,250.1 551.1,250.1 550.6,250.1 550.1,250.1 549.7,250.1 549.2,250.1 548.7,250.1 548.2,250.1 547.7,250 547.3,250 546.8,250 546.3,250 545.8,250 545.3,250 544.8,250 544.4,250 543.9,249.9 543.4,249.9 542.9,249.9 542.4,249.9 542,249.9 541.5,249.9 541,249.9 540.5,249.9 540,249.8 539.5,249.8 539.1,249.8 538.6,249.8 538.1,249.8" fill="url(#gor3)" opacity="0.82"/>
<polyline points="538.1,249.7 538.6,249.8 539.1,249.8 539.5,249.8 540,249.8 540.5,249.8 541,249.8 541.5,249.8 542,249.8 542.4,249.8 542.9,249.9 543.4,249.9 543.9,249.9 544.4,249.9 544.8,249.9 545.3,249.9 545.8,249.9 546.3,249.9 546.8,249.9 547.3,250 547.7,250 548.2,250 548.7,250 549.2,250 549.7,250 550.1,250 550.6,250 551.1,250.1 551.6,250.1 552.1,250.1 552.5,250.1 553,250.1 553.5,250.1 554,250.1 554.5,250.1 555,250.2 555.4,250.2 555.9,250.2 556.4,250.2 556.9,250.2 557.4,250.2 557.8,250.2 558.3,250.3 558.8,250.3 559.3,250.3 559.8,250.3 560.3,250.3 560.7,250.3 561.2,250.3 561.7,250.4 562.2,250.4 562.7,250.4 563.1,250.4 563.6,250.4 564.1,250.4 564.6,250.4 565.1,250.5 565.6,250.5 566,250.5 566.5,250.5 567,250.5 567.5,250.5 568,250.5 568.4,250.6 568.9,250.6 569.4,250.6 569.9,250.6 570.4,250.6 570.8,250.6 571.3,250.6 571.8,250.7 572.3,250.7 572.8,250.7 573.3,250.7 573.7,250.7 574.2,250.7 574.7,250.7 575.2,250.8 575.7,250.8 576.1,250.8 576.6,250.8 577.1,250.8 577.6,250.8 578.1,250.9 578.6,250.9 579,250.9 579.5,250.9 580,250.9 580.5,250.9 581,251 581.4,251 581.9,251 582.4,251 582.9,251 583.4,251.1 583.9,251.1 584.3,251.1 584.8,251.1 585.3,251.1 585.8,251.1 586.3,251.2 586.7,251.2 587.2,251.2 587.7,251.2 588.2,251.2 588.7,251.3 589.2,251.3 589.6,251.3 590.1,251.3 590.6,251.4 591.1,251.4 591.6,251.4 592,251.4 592.5,251.5 593,251.5 593.5,251.5 594,251.6 594.4,251.6 594.9,251.6 595.4,251.7 595.9,251.7 596.4,251.7 596.9,251.8 597.3,251.8 597.8,251.8 598.3,251.9 598.8,251.9 599.3,252 599.7,252 600.2,252 600.7,252.1 601.2,252.1 601.7,252.1 602.2,252.2 602.6,252.2 603.1,252.2 603.6,252.3 604.1,252.3 604.6,252.3 605,252.3 605.5,252.3 606,252.4 606.5,252.4 607,252.4 607.5,252.4 607.9,252.4 608.4,252.3 608.9,252.3 609.4,252.3 609.9,252.3 610.3,252.2 610.8,252.2 611.3,252.1 611.8,252 612.3,251.9 612.7,251.8 613.2,251.7 613.7,251.6 614.2,251.5 614.7,251.3 615.2,251.2 615.6,251 616.1,250.8 616.6,250.6 617.1,250.4 617.6,250.2 618,249.9 618.5,249.7 619,249.4 619.5,249.1 620,248.8 620.5,248.5 620.9,248.1 621.4,247.8 621.9,247.4 622.4,247 622.9,246.7 623.3,246.3 623.8,245.9 624.3,245.5 624.8,245.1 625.3,244.7 625.8,244.3 626.2,243.9 626.7,243.5 627.2,243.1 627.7,242.8 628.2,242.5 628.6,242.1 629.1,241.9 629.6,241.6 630.1,241.4 630.6,241.2 631,241 631.5,240.9 632,240.9 632.5,240.8 633,240.9 633.5,240.9 633.9,241.1 634.4,241.2 634.9,241.4 635.4,241.6 635.9,241.9 636.3,242.2 636.8,242.5 637.3,242.9 637.8,243.3 638.3,243.7 638.8,244.1 639.2,244.5 639.7,244.9 640.2,245.3 640.7,245.8 641.2,246.2 641.6,246.6 642.1,247 642.6,247.4 643.1,247.8 643.6,248.2 644.1,248.6 644.5,249 645,249.3 645.5,249.7 646,250 646.5,250.3 646.9,250.6 647.4,250.9 647.9,251.2 648.4,251.4 648.9,251.6 649.4,251.9 649.8,252.1 650.3,252.3 650.8,252.4 651.3,252.6 651.8,252.8 652.2,252.9 652.7,253 653.2,253.2 653.7,253.3 654.2,253.4 654.6,253.5 655.1,253.6 655.6,253.6 656.1,253.7 656.6,253.8 657.1,253.8 657.5,253.9 658,253.9 658.5,254 659,254 659.5,254.1 659.9,254.1 660.4,254.1 660.9,254.2 661.4,254.2 661.9,254.2 662.4,254.2 662.8,254.3 663.3,254.3 663.8,254.3 664.3,254.3 664.8,254.3 665.2,254.3 665.7,254.3 666.2,254.2 666.7,254.2 667.2,254.2 667.7,254.2 668.1,254.2 668.6,254.1 669.1,254.1 669.6,254.1 670.1,254 670.5,254 671,254 671.5,253.9 672,253.9 672.5,253.8 672.9,253.8 673.4,253.7 673.9,253.7 674.4,253.6 674.9,253.6 675.4,253.5 675.8,253.4 676.3,253.3 676.8,253.3 677.3,253.2 677.8,253.1 678.2,253 678.7,252.9 679.2,252.8 679.7,252.7 680.2,252.6 680.7,252.5 681.1,252.4 681.6,252.3 682.1,252.2" fill="none" stroke="#f07e3e" stroke-width="0.7" opacity="0.82"/>
<polyline points="538.1,249.8 538.6,249.8 539.1,249.8 539.5,249.8 540,249.8 540.5,249.9 541,249.9 541.5,249.9 542,249.9 542.4,249.9 542.9,249.9 543.4,249.9 543.9,249.9 544.4,250 544.8,250 545.3,250 545.8,250 546.3,250 546.8,250 547.3,250 547.7,250 548.2,250.1 548.7,250.1 549.2,250.1 549.7,250.1 550.1,250.1 550.6,250.1 551.1,250.1 551.6,250.1 552.1,250.2 552.5,250.2 553,250.2 553.5,250.2 554,250.2 554.5,250.2 555,250.2 555.4,250.3 555.9,250.3 556.4,250.3 556.9,250.3 557.4,250.3 557.8,250.3 558.3,250.3 558.8,250.4 559.3,250.4 559.8,250.4 560.3,250.4 560.7,250.4 561.2,250.4 561.7,250.5 562.2,250.5 562.7,250.5 563.1,250.5 563.6,250.5 564.1,250.5 564.6,250.5 565.1,250.6 565.6,250.6 566,250.6 566.5,250.6 567,250.6 567.5,250.6 568,250.7 568.4,250.7 568.9,250.7 569.4,250.7 569.9,250.7 570.4,250.7 570.8,250.8 571.3,250.8 571.8,250.8 572.3,250.8 572.8,250.8 573.3,250.8 573.7,250.9 574.2,250.9 574.7,250.9 575.2,250.9 575.7,250.9 576.1,251 576.6,251 577.1,251 577.6,251 578.1,251 578.6,251 579,251.1 579.5,251.1 580,251.1 580.5,251.1 581,251.2 581.4,251.2 581.9,251.2 582.4,251.2 582.9,251.2 583.4,251.3 583.9,251.3 584.3,251.3 584.8,251.3 585.3,251.4 585.8,251.4 586.3,251.4 586.7,251.4 587.2,251.5 587.7,251.5 588.2,251.5 588.7,251.5 589.2,251.6 589.6,251.6 590.1,251.6 590.6,251.6 591.1,251.7 591.6,251.7 592,251.7 592.5,251.8 593,251.8 593.5,251.8 594,251.9 594.4,251.9 594.9,252 595.4,252 595.9,252.1 596.4,252.1 596.9,252.2 597.3,252.2 597.8,252.3 598.3,252.3 598.8,252.4 599.3,252.4 599.7,252.5 600.2,252.5 600.7,252.6 601.2,252.6 601.7,252.7 602.2,252.7 602.6,252.8 603.1,252.8 603.6,252.9 604.1,252.9 604.6,253 605,253 605.5,253.1 606,253.1 606.5,253.1 607,253.2 607.5,253.2 607.9,253.3 608.4,253.3 608.9,253.4 609.4,253.4 609.9,253.4 610.3,253.5 610.8,253.5 611.3,253.5 611.8,253.6 612.3,253.6 612.7,253.6 613.2,253.6 613.7,253.7 614.2,253.7 614.7,253.7 615.2,253.7 615.6,253.8 616.1,253.8 616.6,253.8 617.1,253.8 617.6,253.9 618,253.9 618.5,253.9 619,253.9 619.5,253.9 620,254 620.5,254 620.9,254 621.4,254 621.9,254.1 622.4,254.1 622.9,254.1 623.3,254.1 623.8,254.1 624.3,254.2 624.8,254.2 625.3,254.2 625.8,254.2 626.2,254.2 626.7,254.2 627.2,254.3 627.7,254.3 628.2,254.3 628.6,254.3 629.1,254.3 629.6,254.4 630.1,254.4 630.6,254.4 631,254.4 631.5,254.4 632,254.4 632.5,254.4 633,254.5 633.5,254.5 633.9,254.5 634.4,254.5 634.9,254.5 635.4,254.5 635.9,254.5 636.3,254.5 636.8,254.5 637.3,254.6 637.8,254.6 638.3,254.6 638.8,254.6 639.2,254.6 639.7,254.6 640.2,254.6 640.7,254.6 641.2,254.6 641.6,254.6 642.1,254.6 642.6,254.6 643.1,254.6 643.6,254.6 644.1,254.7 644.5,254.7 645,254.7 645.5,254.7 646,254.7 646.5,254.7 646.9,254.7 647.4,254.7 647.9,254.7 648.4,254.7 648.9,254.7 649.4,254.7 649.8,254.7 650.3,254.7 650.8,254.7 651.3,254.7 651.8,254.7 652.2,254.7 652.7,254.8 653.2,254.8 653.7,254.8 654.2,254.8 654.6,254.8 655.1,254.8 655.6,254.8 656.1,254.8 656.6,254.8 657.1,254.8 657.5,254.8 658,254.8 658.5,254.8 659,254.8 659.5,254.8 659.9,254.8 660.4,254.8 660.9,254.8 661.4,254.8 661.9,254.8 662.4,254.8 662.8,254.8 663.3,254.8 663.8,254.8 664.3,254.8 664.8,254.8 665.2,254.7 665.7,254.7 666.2,254.7 666.7,254.6 667.2,254.6 667.7,254.6 668.1,254.5 668.6,254.5 669.1,254.5 669.6,254.4 670.1,254.4 670.5,254.3 671,254.3 671.5,254.2 672,254.2 672.5,254.2 672.9,254.1 673.4,254 673.9,254 674.4,253.9 674.9,253.8 675.4,253.8 675.8,253.7 676.3,253.6 676.8,253.5 677.3,253.4 677.8,253.3 678.2,253.2 678.7,253.1 679.2,253 679.7,252.9 680.2,252.8 680.7,252.7 681.1,252.6 681.6,252.5 682.1,252.4" fill="none" stroke="#6b9ad8" stroke-width="0.8" stroke-linejoin="round" stroke-linecap="round"/>
</g>
<rect x="537.8" y="156.5" width="144.6" height="113.2" fill="none" stroke="#3c3c3c" stroke-width="0.9"/>
<line x1="537.8" y1="269.7" x2="537.8" y2="267.8" stroke="#3c3c3c" stroke-width="0.8"/>
<text x="537.8" y="277.8" font-size="6.8" text-anchor="middle" fill="#1e1e1e" stroke="#1e1e1e" stroke-width="0.22">60</text>
<line x1="570" y1="269.7" x2="570" y2="267.8" stroke="#3c3c3c" stroke-width="0.8"/>
<text x="570" y="277.8" font-size="6.8" text-anchor="middle" fill="#1e1e1e" stroke="#1e1e1e" stroke-width="0.22">58</text>
<line x1="602.2" y1="269.7" x2="602.2" y2="267.8" stroke="#3c3c3c" stroke-width="0.8"/>
<text x="602.2" y="277.8" font-size="6.8" text-anchor="middle" fill="#1e1e1e" stroke="#1e1e1e" stroke-width="0.22">56</text>
<line x1="634.4" y1="269.7" x2="634.4" y2="267.8" stroke="#3c3c3c" stroke-width="0.8"/>
<text x="634.4" y="277.8" font-size="6.8" text-anchor="middle" fill="#1e1e1e" stroke="#1e1e1e" stroke-width="0.22">54</text>
<line x1="666.6" y1="269.7" x2="666.6" y2="267.8" stroke="#3c3c3c" stroke-width="0.8"/>
<text x="666.6" y="277.8" font-size="6.8" text-anchor="middle" fill="#1e1e1e" stroke="#1e1e1e" stroke-width="0.22">52</text>
<line x1="553.9" y1="269.7" x2="553.9" y2="268.7" stroke="#3c3c3c" stroke-width="0.6"/>
<line x1="586.1" y1="269.7" x2="586.1" y2="268.7" stroke="#3c3c3c" stroke-width="0.6"/>
<line x1="618.3" y1="269.7" x2="618.3" y2="268.7" stroke="#3c3c3c" stroke-width="0.6"/>
<line x1="650.5" y1="269.7" x2="650.5" y2="268.7" stroke="#3c3c3c" stroke-width="0.6"/>
<text x="533.8" y="211" font-size="7.1" text-anchor="middle" fill="#1e1e1e" stroke="#1e1e1e" stroke-width="0.22" transform="rotate(-90 533.8 211)">Intensity (a.u.)</text>
<text x="608.3" y="285.2" font-size="7.1" text-anchor="middle" fill="#1e1e1e" stroke="#1e1e1e" stroke-width="0.22">Binding energy (eV)</text>
<text x="576.3" y="200" font-size="6.6" text-anchor="start" fill="#1e1e1e" stroke="#1e1e1e" stroke-width="0.22">Se 3d<tspan font-size="70%" dy="1.6">3/2</tspan><tspan dy="-1.6">&#8203;</tspan> (FPBI)</text>
<text x="558.3" y="219.6" font-size="6.6" text-anchor="start" fill="#1e1e1e" stroke="#1e1e1e" stroke-width="0.22">Se 3d<tspan font-size="70%" dy="1.6">3/2</tspan><tspan dy="-1.6">&#8203;</tspan> (Bi<tspan font-size="70%" dy="1.6">2</tspan><tspan dy="-1.6">&#8203;</tspan>Se<tspan font-size="70%" dy="1.6">3</tspan><tspan dy="-1.6">&#8203;</tspan>)</text>
<text x="628" y="228.8" font-size="6.6" text-anchor="start" fill="#1e1e1e" stroke="#1e1e1e" stroke-width="0.22">Se 3d<tspan font-size="70%" dy="1.6">5/2</tspan><tspan dy="-1.6">&#8203;</tspan> (FPBI)</text>
<text x="594.3" y="236.4" font-size="6.6" text-anchor="start" fill="#1e1e1e" stroke="#1e1e1e" stroke-width="0.22">Se 3d<tspan font-size="70%" dy="1.6">5/2</tspan><tspan dy="-1.6">&#8203;</tspan> (Bi<tspan font-size="70%" dy="1.6">2</tspan><tspan dy="-1.6">&#8203;</tspan>Se<tspan font-size="70%" dy="1.6">3</tspan><tspan dy="-1.6">&#8203;</tspan>)</text>
<text x="678" y="165" font-size="6.8" text-anchor="end" fill="#1e1e1e" stroke="#1e1e1e" stroke-width="0.22">Se 3d</text>
<line x1="600.6" y1="201.6" x2="604.6" y2="205.4" stroke="#111" stroke-width="0.6"/>
<polygon points="604.6,205.4 602.9,204.8 603.9,203.7" fill="#111"/>
<line x1="582" y1="221.4" x2="587.4" y2="225.6" stroke="#111" stroke-width="0.6"/>
<polygon points="587.4,225.6 585.6,225.2 586.6,224" fill="#111"/>
<line x1="647.2" y1="231.8" x2="645.2" y2="235.6" stroke="#111" stroke-width="0.6"/>
<polygon points="645.2,235.6 645.3,233.8 646.6,234.5" fill="#111"/>
<line x1="633.2" y1="238.4" x2="630.4" y2="242.2" stroke="#111" stroke-width="0.6"/>
<polygon points="630.4,242.2 630.8,240.4 632,241.3" fill="#111"/>
<text x="18.2" y="289.4" font-size="12" text-anchor="start" fill="#111" stroke="#111" stroke-width="0.22">i</text>
<line x1="54.3" y1="310.5" x2="54.3" y2="395" stroke="#333" stroke-width="0.85" stroke-dasharray="0.95 1.5"/>
<line x1="69.3" y1="294" x2="69.3" y2="385" stroke="#333" stroke-width="0.85" stroke-dasharray="0.95 1.5"/>
<line x1="118.5" y1="294" x2="118.5" y2="384.5" stroke="#333" stroke-width="0.85" stroke-dasharray="0.95 1.5"/>
<line x1="129.8" y1="303.8" x2="129.8" y2="391.5" stroke="#333" stroke-width="0.85" stroke-dasharray="0.95 1.5"/>
<polyline points="37.4,331.1 37.7,330.6 38,330.1 38.2,329.7 38.5,329.2 38.8,328.8 39.1,328.3 39.4,327.9 39.6,327.5 39.9,327.1 40.2,326.7 40.5,326.4 40.7,326.1 41,325.8 41.3,325.5 41.6,325.4 41.9,325.4 42.1,325.7 42.4,326.1 42.7,326.5 43,327.1 43.3,327.8 43.5,328.7 43.8,329.8 44.1,331 44.4,332.2 44.7,333.7 44.9,335.2 45.2,336.9 45.5,338.5 45.8,340.1 46.1,341.4 46.3,342.7 46.6,344 46.9,345.6 47.2,347.6 47.4,350.6 47.7,353.8 48,356.2 48.3,358.4 48.6,360.5 48.8,362.6 49.1,364.7 49.4,366.8 49.7,368.9 50,370.9 50.2,372.9 50.5,374.8 50.8,376.5 51.1,378.2 51.4,380.1 51.6,382.4 51.9,385.3 52.2,388.4 52.5,391.2 52.7,393.9 53,396.4 53.3,397.2 53.6,395.5 53.9,392.7 54.1,390.3 54.4,387.8 54.7,385.3 55,383.1 55.3,381.4 55.5,379.9 55.8,378.5 56.1,377 56.4,374.9 56.7,371.8 56.9,368.6 57.2,367 57.5,367.3 57.8,368 58.1,369 58.3,370 58.6,370.8 58.9,371.6 59.2,372.4 59.4,373.1 59.7,373.6 60,373.7 60.3,373.3 60.6,372.3 60.8,371 61.1,369.6 61.4,368.3 61.7,366.9 62,365.4 62.2,363.9 62.5,362.4 62.8,360.9 63.1,359.4 63.4,358.1 63.6,357 63.9,356.1 64.2,355.3 64.5,355 64.7,355.4 65,356.7 65.3,358.4 65.6,360 65.9,361.7 66.1,363.6 66.4,365.6 66.7,368.3 67,371.9 67.3,374.9 67.5,376 67.8,375.5 68.1,374.4 68.4,373.4 68.7,372.6 68.9,371.7 69.2,370.8 69.5,370.2 69.8,370 70.1,370.2 70.3,370.7 70.6,371.2 70.9,371.5 71.2,371.2 71.4,369.8 71.7,367.5 72,364.8 72.3,362.2 72.6,359.2 72.8,355.5 73.1,351.8 73.4,348.5 73.7,345.9 74,344.4 74.2,343.1 74.5,342.1 74.8,341.1 75.1,340.3 75.4,339.4 75.6,338.6 75.9,337.8 76.2,337 76.5,336.2 76.7,335.5 77,334.8 77.3,334.2 77.6,333.6 77.9,333 78.1,332.4 78.4,331.9 78.7,331.4 79,330.9 79.3,330.4 79.5,329.9 79.8,329.5 80.1,329.1 80.4,328.7 80.7,328.4 80.9,328 81.2,327.7 81.5,327.3 81.8,327 82.1,326.7 82.3,326.4 82.6,326.1 82.9,325.9 83.2,325.6 83.4,325.3 83.7,325.1 84,324.8 84.3,324.6 84.6,324.4 84.8,324.1 85.1,324 85.4,323.8 85.7,323.7 86,323.5 86.2,323.4 86.5,323.2 86.8,323.1 87.1,323.1 87.4,323 87.6,323 87.9,323.2 88.2,323.5 88.5,323.9 88.7,324.4 89,324.9 89.3,325.4 89.6,325.9 89.9,326.4 90.1,327 90.4,327.7 90.7,328.3 91,329 91.3,329.7 91.5,330.3 91.8,331 92.1,331.7 92.4,332.4 92.7,333.1 92.9,333.8 93.2,334.5 93.5,335.2 93.8,335.9 94.1,336.6 94.3,337.2 94.6,337.9 94.9,338.5 95.2,339.1 95.4,339.7 95.7,340.4 96,341 96.3,341.6 96.6,342.2 96.8,342.7 97.1,343.2 97.4,343.6 97.7,344 98,344.4 98.2,344.8 98.5,345.1 98.8,345.4 99.1,345.6 99.4,345.7 99.6,345.7 99.9,345.7 100.2,345.7 100.5,345.7 100.7,345.7 101,345.6 101.3,345.6 101.6,345.6 101.9,345.5 102.1,345.5 102.4,345.5 102.7,345.5 103,345.5 103.3,345.5 103.5,345.5 103.8,345.5 104.1,345.5 104.4,345.5 104.7,345.5 104.9,345.5 105.2,345.5 105.5,345.6 105.8,345.8 106.1,346 106.3,346.3 106.6,346.6 106.9,346.9 107.2,347.2 107.4,347.5 107.7,348 108,348.4 108.3,348.9 108.6,349.5 108.8,350.1 109.1,350.8 109.4,351.7 109.7,352.6 110,353.7 110.2,354.9 110.5,356.1 110.8,357.2 111.1,358.4 111.4,359.6 111.6,360.9 111.9,362.2 112.2,363.4 112.5,364.4 112.7,365.4 113,366.5 113.3,367.5 113.6,368.2 113.9,368.7 114.1,368.7 114.4,368.4 114.7,368 115,367.6 115.3,367.5 115.5,367.9 115.8,368.9 116.1,370 116.4,370.8 116.7,371.6 116.9,372.3 117.2,373 117.5,373.7 117.8,374.3 118.1,374.9 118.3,375.6 118.6,376.2 118.9,376.8 119.2,377.4 119.4,377.9 119.7,378.3 120,378.8 120.3,379.1 120.6,379.5 120.8,379.9 121.1,380.3 121.4,380.6 121.7,380.9 122,381.1 122.2,381.2 122.5,381.2 122.8,381.2 123.1,381.2 123.4,381.1 123.6,380.9 123.9,380.8 124.2,380.6 124.5,380.4 124.7,380.3 125,380 125.3,379.7 125.6,379.3 125.9,378.9 126.1,378.5 126.4,378 126.7,377.5 127,377 127.3,376.6 127.5,376.1 127.8,375.6 128.1,375.1 128.4,374.5 128.7,373.9 128.9,373.2 129.2,372.3 129.5,371.3 129.8,370 130.1,368.7 130.3,367.2 130.6,365.7 130.9,364.2 131.2,362.6 131.4,360.8 131.7,359 132,357.1 132.3,355.2 132.6,353.3 132.8,351.4 133.1,349.5 133.4,347.6 133.7,345.7 134,343.7 134.2,341.8 134.5,339.9 134.8,337.9 135.1,335.7 135.4,333.6 135.6,331.5 135.9,329.7 136.2,328.3 136.5,327.1 136.7,326 137,325 137.3,324.2 137.6,323.6 137.9,323.5 138.1,323.3 138.4,323.3 138.7,323.2 139,323.1 139.3,323.1 139.5,323.1 139.8,323 140.1,323 140.4,323 140.7,322.9 140.9,322.9 141.2,322.9 141.5,322.9 141.8,322.9 142.1,322.9 142.3,322.8 142.6,322.8 142.9,322.8 143.2,322.8 143.4,322.8 143.7,322.8 144,322.7 144.3,322.7 144.6,322.7 144.8,322.6 145.1,322.6 145.4,322.6 145.7,322.5 146,322.5 146.2,322.4 146.5,322.4 146.8,322.4 147.1,322.3 147.4,322.3 147.6,322.2 147.9,322.2 148.2,322.1 148.5,322.1 148.8,322" fill="none" stroke="#4489d8" stroke-width="1.3" stroke-linejoin="round" stroke-linecap="round"/>
<polyline points="37.4,326.9 37.7,327.2 38,327.4 38.2,327.7 38.5,328 38.8,328.2 39.1,328.4 39.4,328.6 39.6,328.8 39.9,329 40.2,329.2 40.5,329.3 40.7,329.5 41,329.7 41.3,329.9 41.6,330.2 41.9,330.6 42.1,331 42.4,331.5 42.7,332.1 43,332.7 43.3,333.3 43.5,333.9 43.8,334.5 44.1,335.4 44.4,336.3 44.7,337.3 44.9,338.2 45.2,338.9 45.5,339.3 45.8,339.4 46.1,338.5 46.3,336.7 46.6,334.7 46.9,332.7 47.2,330.4 47.4,327.8 47.7,325.8 48,325.5 48.3,326.7 48.6,328.6 48.8,330.7 49.1,332.8 49.4,335.5 49.7,338 50,339.6 50.2,340.2 50.5,340.8 50.8,341.1 51.1,341.3 51.4,340.9 51.6,339.6 51.9,338 52.2,336.4 52.5,334.3 52.7,332 53,330.1 53.3,328.7 53.6,327.4 53.9,326.5 54.1,326.6 54.4,328.1 54.7,330.4 55,332.5 55.3,334.3 55.5,336.3 55.8,338.1 56.1,339.4 56.4,340.6 56.7,341.6 56.9,342.5 57.2,343.2 57.5,343.7 57.8,344.1 58.1,344.6 58.3,345 58.6,345.5 58.9,346.2 59.2,347.1 59.4,348 59.7,348.9 60,349.6 60.3,350.1 60.6,350.2 60.8,349.9 61.1,349.4 61.4,348.7 61.7,347.9 62,347.1 62.2,346.3 62.5,345.4 62.8,344.4 63.1,343.2 63.4,342 63.6,340.6 63.9,339 64.2,337.2 64.5,335.2 64.7,333 65,329.6 65.3,326 65.6,325.2 65.9,327.4 66.1,330.3 66.4,332 66.7,333.3 67,334 67.3,332.9 67.5,330.5 67.8,328.7 68.1,327.4 68.4,326.4 68.7,325.5 68.9,324.7 69.2,324 69.5,323.4 69.8,322.9 70.1,322.7 70.3,322.6 70.6,322.6 70.9,322.5 71.2,322.4 71.4,322.4 71.7,322.4 72,322.3 72.3,322.3 72.6,322.2 72.8,322.2 73.1,322.2 73.4,322.1 73.7,322.1 74,322.1 74.2,322 74.5,322 74.8,322 75.1,322 75.4,321.9 75.6,321.9 75.9,321.9 76.2,321.9 76.5,321.8 76.7,321.8 77,321.8 77.3,321.8 77.6,321.7 77.9,321.7 78.1,321.7 78.4,321.6 78.7,321.6 79,321.6 79.3,321.5 79.5,321.5 79.8,321.5 80.1,321.4 80.4,321.4 80.7,321.4 80.9,321.3 81.2,321.3 81.5,321.3 81.8,321.2 82.1,321.2 82.3,321.1 82.6,321.1 82.9,321.1 83.2,321 83.4,321 83.7,321 84,321 84.3,320.9 84.6,320.9 84.8,320.9 85.1,320.8 85.4,320.8 85.7,320.8 86,320.8 86.2,320.8 86.5,320.8 86.8,320.8 87.1,320.8 87.4,320.8 87.6,320.8 87.9,320.8 88.2,320.8 88.5,320.8 88.7,320.8 89,320.8 89.3,320.8 89.6,320.8 89.9,320.9 90.1,320.9 90.4,320.9 90.7,320.9 91,321 91.3,321 91.5,321 91.8,321.1 92.1,321.1 92.4,321.1 92.7,321.2 92.9,321.2 93.2,321.3 93.5,321.3 93.8,321.3 94.1,321.4 94.3,321.4 94.6,321.4 94.9,321.5 95.2,321.5 95.4,321.6 95.7,321.6 96,321.6 96.3,321.7 96.6,321.7 96.8,321.8 97.1,321.8 97.4,321.9 97.7,321.9 98,322 98.2,322.1 98.5,322.1 98.8,322.2 99.1,322.3 99.4,322.3 99.6,322.4 99.9,322.5 100.2,322.6 100.5,322.6 100.7,322.7 101,322.8 101.3,322.9 101.6,323 101.9,323.1 102.1,323.2 102.4,323.3 102.7,323.4 103,323.6 103.3,323.7 103.5,323.8 103.8,324 104.1,324.2 104.4,324.3 104.7,324.5 104.9,324.7 105.2,324.9 105.5,325.2 105.8,325.5 106.1,325.9 106.3,326.3 106.6,326.7 106.9,327.2 107.2,327.6 107.4,328.1 107.7,328.6 108,329 108.3,329.4 108.6,329.9 108.8,330.4 109.1,330.8 109.4,331.3 109.7,331.8 110,332.3 110.2,332.8 110.5,333.3 110.8,333.8 111.1,334.3 111.4,334.7 111.6,335.2 111.9,335.7 112.2,336.2 112.5,336.7 112.7,337.2 113,337.8 113.3,338.3 113.6,338.9 113.9,339.5 114.1,340.1 114.4,340.8 114.7,341.5 115,342.2 115.3,342.9 115.5,343.6 115.8,344.4 116.1,345.1 116.4,345.8 116.7,346.6 116.9,347.4 117.2,348.2 117.5,349.1 117.8,349.9 118.1,350.7 118.3,351.4 118.6,352.2 118.9,352.8 119.2,353.5 119.4,354.1 119.7,354.7 120,355.2 120.3,355.8 120.6,356.3 120.8,356.9 121.1,357.4 121.4,358 121.7,358.5 122,359.1 122.2,359.7 122.5,360.3 122.8,360.9 123.1,361.6 123.4,362.3 123.6,363 123.9,363.6 124.2,364.3 124.5,365 124.7,365.7 125,366.4 125.3,367.1 125.6,367.7 125.9,368.4 126.1,369 126.4,369.7 126.7,370.3 127,370.9 127.3,371.4 127.5,371.8 127.8,372.2 128.1,372.6 128.4,372.9 128.7,373.1 128.9,373.2 129.2,373.2 129.5,373.1 129.8,372.9 130.1,372.8 130.3,372.8 130.6,373.2 130.9,374 131.2,375 131.4,376 131.7,376.9 132,377.7 132.3,378.4 132.6,379.1 132.8,379.8 133.1,380.6 133.4,381.4 133.7,382.5 134,383.9 134.2,385.9 134.5,388.2 134.8,390.5 135.1,392.5 135.4,394 135.6,395.3 135.9,396.6 136.2,397.8 136.5,398.7 136.7,399.3 137,399.5 137.3,399.2 137.6,398.4 137.9,397.4 138.1,396.4 138.4,395.4 138.7,394.3 139,393.1 139.3,391.8 139.5,390.6 139.8,389.3 140.1,388.1 140.4,386.9 140.7,385.7 140.9,384.5 141.2,383.3 141.5,382 141.8,380.8 142.1,379.5 142.3,378.2 142.6,377 142.9,375.7 143.2,374.4 143.4,373 143.7,371.5 144,370 144.3,368.3 144.6,366.4 144.8,364.5 145.1,362.4 145.4,360.3 145.7,358.2 146,356.1 146.2,354.1 146.5,352.1 146.8,350.1 147.1,348.1 147.4,346.1 147.6,343.9 147.9,341.6 148.2,339.2 148.5,336.7 148.8,334" fill="none" stroke="#3dbb50" stroke-width="1.3" stroke-linejoin="round" stroke-linecap="round"/>
<polyline points="37,329 37.3,329.7 37.6,330.4 37.8,331.2 38.1,331.9 38.4,332.7 38.7,333.5 39,334.4 39.2,335.3 39.5,336.2 39.8,337.1 40.1,338 40.4,338.9 40.6,339.8 40.9,340.7 41.2,341.6 41.5,342.4 41.8,343.2 42,344 42.3,344.7 42.6,345.5 42.9,346.2 43.2,346.9 43.4,347.7 43.7,348.5 44,349.2 44.3,349.8 44.6,350.4 44.8,350.8 45.1,351.3 45.4,351.7 45.7,352 46,352.2 46.2,352.4 46.5,352.5 46.8,352.6 47.1,352.7 47.4,352.7 47.6,352.7 47.9,352.5 48.2,352.2 48.5,351.9 48.8,351.5 49,351.2 49.3,350.9 49.6,350.6 49.9,350.4 50.2,350.3 50.4,350.4 50.7,350.9 51,351.6 51.3,352.4 51.6,353.2 51.8,353.8 52.1,354.5 52.4,355.3 52.7,356.2 53,357.8 53.2,360.1 53.5,362.1 53.8,362.7 54.1,360.8 54.4,358 54.6,356.2 54.9,354.8 55.2,353.6 55.5,352.5 55.8,351.6 56,350.8 56.3,350 56.6,349.4 56.9,349 57.2,349 57.4,349.3 57.7,349.7 58,350.1 58.3,350.6 58.6,351.1 58.8,351.7 59.1,352.4 59.4,353 59.7,353.5 60,353.7 60.2,353.5 60.5,352.8 60.8,351.9 61.1,351 61.4,350.2 61.6,349.3 61.9,348.5 62.2,347.8 62.5,347.5 62.8,347.6 63,347.9 63.3,348.4 63.6,348.8 63.9,349.2 64.2,349.6 64.4,350 64.7,350.5 65,350.9 65.3,351.3 65.6,351.7 65.8,352.2 66.1,352.8 66.4,353.9 66.7,355.1 67,356.3 67.2,357.2 67.5,357.5 67.8,355.9 68.1,353.2 68.4,351.3 68.6,349.9 68.9,348.6 69.2,347.6 69.5,346.9 69.8,346.3 70,345.9 70.3,345.4 70.6,344.8 70.9,344.2 71.2,343.6 71.4,342.7 71.7,341.1 72,338.3 72.3,335.5 72.6,333.3 72.8,331.6 73.1,330 73.4,328.7 73.7,327.7 74,327 74.2,326.3 74.5,325.8 74.8,325.4 75.1,325.1 75.4,324.9 75.7,324.8 75.9,324.7 76.2,324.6 76.5,324.5 76.8,324.4 77.1,324.3 77.3,324.2 77.6,324.2 77.9,324.1 78.2,324.1 78.5,324 78.7,324 79,324 79.3,323.9 79.6,323.9 79.9,323.9 80.1,323.8 80.4,323.8 80.7,323.8 81,323.8 81.3,323.7 81.5,323.7 81.8,323.7 82.1,323.7 82.4,323.7 82.7,323.6 82.9,323.6 83.2,323.6 83.5,323.6 83.8,323.6 84.1,323.6 84.3,323.5 84.6,323.5 84.9,323.5 85.2,323.5 85.5,323.5 85.7,323.5 86,323.4 86.3,323.4 86.6,323.4 86.9,323.4 87.1,323.4 87.4,323.3 87.7,323.3 88,323.3 88.3,323.3 88.5,323.3 88.8,323.2 89.1,323.2 89.4,323.2 89.7,323.2 89.9,323.2 90.2,323.2 90.5,323.1 90.8,323.1 91.1,323.1 91.3,323.1 91.6,323.1 91.9,323.1 92.2,323.1 92.5,323.1 92.7,323 93,323 93.3,323 93.6,323 93.9,323 94.1,323 94.4,323 94.7,323 95,323 95.3,323 95.5,323 95.8,323 96.1,323 96.4,323 96.7,323 96.9,323 97.2,323 97.5,323 97.8,323.1 98.1,323.1 98.3,323.1 98.6,323.1 98.9,323.1 99.2,323.1 99.5,323.1 99.7,323.1 100,323.2 100.3,323.2 100.6,323.2 100.9,323.2 101.1,323.2 101.4,323.3 101.7,323.3 102,323.4 102.3,323.4 102.5,323.5 102.8,323.6 103.1,323.7 103.4,323.8 103.7,323.9 103.9,324 104.2,324.1 104.5,324.3 104.8,324.4 105.1,324.5 105.3,324.7 105.6,324.9 105.9,325.1 106.2,325.4 106.5,325.7 106.7,326 107,326.3 107.3,326.7 107.6,327 107.9,327.3 108.1,327.7 108.4,328 108.7,328.3 109,328.7 109.3,329.1 109.5,329.5 109.8,329.9 110.1,330.3 110.4,330.8 110.7,331.3 110.9,331.9 111.2,332.6 111.5,333.3 111.8,334.1 112.1,334.9 112.3,335.6 112.6,336.3 112.9,337.2 113.2,338 113.5,338.7 113.7,339 114,338.6 114.3,337.5 114.6,336.2 114.9,335 115.1,333.6 115.4,332.2 115.7,331.5 116,331.6 116.3,332 116.5,332.5 116.8,333.1 117.1,333.7 117.4,334.5 117.7,335.4 117.9,336.3 118.2,337.2 118.5,338 118.8,338.6 119.1,339 119.3,339.4 119.6,339.8 119.9,340.2 120.2,340.5 120.5,340.8 120.7,341.1 121,341.3 121.3,341.5 121.6,341.7 121.9,341.9 122.1,342.1 122.4,342.3 122.7,342.5 123,342.6 123.3,342.7 123.5,342.7 123.8,342.7 124.1,342.7 124.4,342.7 124.7,342.7 124.9,342.6 125.2,342.6 125.5,342.5 125.8,342.4 126.1,342.3 126.3,342.2 126.6,342 126.9,341.8 127.2,341.5 127.5,341.1 127.7,340.7 128,340.3 128.3,339.9 128.6,339.5 128.9,339 129.1,338.4 129.4,337.9 129.7,337.3 130,336.6 130.3,336 130.5,335.4 130.8,334.8 131.1,334.1 131.4,333.4 131.7,332.7 131.9,332 132.2,331.3 132.5,330.6 132.8,330 133.1,329.4 133.3,328.8 133.6,328.2 133.9,327.7 134.2,327.2 134.5,326.7 134.7,326.2 135,325.8 135.3,325.4 135.6,325.1 135.9,324.7 136.1,324.3 136.4,324 136.7,323.7 137,323.5 137.3,323.3 137.5,323.2 137.8,323.2 138.1,323.1 138.4,323.1 138.7,323.1 138.9,323 139.2,323 139.5,323 139.8,323 140.1,322.9 140.3,322.9 140.6,322.9 140.9,322.9 141.2,322.9 141.5,322.8 141.7,322.8 142,322.8 142.3,322.8 142.6,322.7 142.9,322.7 143.1,322.7 143.4,322.6 143.7,322.6 144,322.6 144.3,322.6 144.5,322.5 144.8,322.5 145.1,322.5 145.4,322.4 145.7,322.4 145.9,322.4 146.2,322.3 146.5,322.3 146.8,322.3 147.1,322.2 147.3,322.2 147.6,322.1 147.9,322.1 148.2,322.1 148.5,322 148.8,322" fill="none" stroke="#7d56ba" stroke-width="1.3" stroke-linejoin="round" stroke-linecap="round"/>
<rect x="32.4" y="292.7" width="140.6" height="118.3" fill="none" stroke="#3c3c3c" stroke-width="0.9"/>
<line x1="34.7" y1="411" x2="34.7" y2="413.2" stroke="#3c3c3c" stroke-width="0.8"/>
<text x="34.7" y="420.5" font-size="7.05" text-anchor="middle" fill="#1e1e1e" stroke="#1e1e1e" stroke-width="0.22">500</text>
<line x1="51" y1="411" x2="51" y2="413.2" stroke="#3c3c3c" stroke-width="0.8"/>
<text x="51" y="420.5" font-size="7.05" text-anchor="middle" fill="#1e1e1e" stroke="#1e1e1e" stroke-width="0.22">1000</text>
<line x1="67.2" y1="411" x2="67.2" y2="413.2" stroke="#3c3c3c" stroke-width="0.8"/>
<text x="67.2" y="420.5" font-size="7.05" text-anchor="middle" fill="#1e1e1e" stroke="#1e1e1e" stroke-width="0.22">1500</text>
<line x1="83.5" y1="411" x2="83.5" y2="413.2" stroke="#3c3c3c" stroke-width="0.8"/>
<text x="83.5" y="420.5" font-size="7.05" text-anchor="middle" fill="#1e1e1e" stroke="#1e1e1e" stroke-width="0.22">2000</text>
<line x1="99.7" y1="411" x2="99.7" y2="413.2" stroke="#3c3c3c" stroke-width="0.8"/>
<text x="99.7" y="420.5" font-size="7.05" text-anchor="middle" fill="#1e1e1e" stroke="#1e1e1e" stroke-width="0.22">2500</text>
<line x1="116" y1="411" x2="116" y2="413.2" stroke="#3c3c3c" stroke-width="0.8"/>
<text x="116" y="420.5" font-size="7.05" text-anchor="middle" fill="#1e1e1e" stroke="#1e1e1e" stroke-width="0.22">3000</text>
<line x1="132.2" y1="411" x2="132.2" y2="413.2" stroke="#3c3c3c" stroke-width="0.8"/>
<text x="132.2" y="420.5" font-size="7.05" text-anchor="middle" fill="#1e1e1e" stroke="#1e1e1e" stroke-width="0.22">3500</text>
<line x1="148.4" y1="411" x2="148.4" y2="413.2" stroke="#3c3c3c" stroke-width="0.8"/>
<text x="148.4" y="420.5" font-size="7.05" text-anchor="middle" fill="#1e1e1e" stroke="#1e1e1e" stroke-width="0.22">4000</text>
<line x1="164.7" y1="411" x2="164.7" y2="413.2" stroke="#3c3c3c" stroke-width="0.8"/>
<text x="164.7" y="420.5" font-size="7.05" text-anchor="middle" fill="#1e1e1e" stroke="#1e1e1e" stroke-width="0.22">4500</text>
<line x1="30.2" y1="401" x2="32.4" y2="401" stroke="#3c3c3c" stroke-width="0.8"/>
<text x="28.4" y="403.4" font-size="6.8" text-anchor="end" fill="#1e1e1e" stroke="#1e1e1e" stroke-width="0.22">0.2</text>
<line x1="30.2" y1="381.2" x2="32.4" y2="381.2" stroke="#3c3c3c" stroke-width="0.8"/>
<text x="28.4" y="383.6" font-size="6.8" text-anchor="end" fill="#1e1e1e" stroke="#1e1e1e" stroke-width="0.22">0.4</text>
<line x1="30.2" y1="361.5" x2="32.4" y2="361.5" stroke="#3c3c3c" stroke-width="0.8"/>
<text x="28.4" y="363.9" font-size="6.8" text-anchor="end" fill="#1e1e1e" stroke="#1e1e1e" stroke-width="0.22">0.6</text>
<line x1="30.2" y1="341.8" x2="32.4" y2="341.8" stroke="#3c3c3c" stroke-width="0.8"/>
<text x="28.4" y="344.1" font-size="6.8" text-anchor="end" fill="#1e1e1e" stroke="#1e1e1e" stroke-width="0.22">0.8</text>
<line x1="30.2" y1="322" x2="32.4" y2="322" stroke="#3c3c3c" stroke-width="0.8"/>
<text x="28.4" y="324.4" font-size="6.8" text-anchor="end" fill="#1e1e1e" stroke="#1e1e1e" stroke-width="0.22">1.0</text>
<line x1="30.2" y1="302.2" x2="32.4" y2="302.2" stroke="#3c3c3c" stroke-width="0.8"/>
<text x="28.4" y="304.6" font-size="6.8" text-anchor="end" fill="#1e1e1e" stroke="#1e1e1e" stroke-width="0.22">1.2</text>
<text x="17.6" y="351.7" font-size="7.25" text-anchor="middle" fill="#1e1e1e" stroke="#1e1e1e" stroke-width="0.22" transform="rotate(-90 17.6 351.7)">Transmittance</text>
<text x="102.7" y="429.2" font-size="7.0" text-anchor="middle" fill="#1e1e1e" stroke="#1e1e1e" stroke-width="0.22">Wavenumber (cm<tspan font-size="70%" dy="-2.4">-1</tspan><tspan dy="2.4">)</tspan></text>
<text x="71.8" y="301.3" font-size="6.9" text-anchor="start" fill="#1e1e1e" stroke="#1e1e1e" stroke-width="0.22">CH<tspan font-size="85%">2</tspan> symmetric</text>
<text x="73.8" y="309.6" font-size="6.9" text-anchor="start" fill="#1e1e1e" stroke="#1e1e1e" stroke-width="0.22">stretching</text>
<text x="98.2" y="318.8" font-size="6.9" text-anchor="start" fill="#1e1e1e" stroke="#1e1e1e" stroke-width="0.22">2931</text>
<line x1="110.8" y1="306.4" x2="116.8" y2="317.2" stroke="#111" stroke-width="0.6"/>
<polygon points="116.8,317.2 115.3,316.1 116.7,315.4" fill="#111"/>
<text x="73.8" y="387.8" font-size="6.9" text-anchor="start" fill="#1e1e1e" stroke="#1e1e1e" stroke-width="0.22">1489</text>
<line x1="70" y1="382.6" x2="73.6" y2="387" stroke="#111" stroke-width="0.6"/>
<polygon points="73.6,387 71.8,386.1 73.1,385.1" fill="#111"/>
<text x="38" y="397.8" font-size="6.9" text-anchor="start" fill="#1e1e1e" stroke="#1e1e1e" stroke-width="0.22">1064</text>
<line x1="53.9" y1="397.6" x2="55.7" y2="401" stroke="#111" stroke-width="0.6"/>
<polygon points="55.7,401 54.1,399.8 55.6,399" fill="#111"/>
<text x="59.3" y="396.2" font-size="6.9" text-anchor="start" fill="#1e1e1e" stroke="#1e1e1e" stroke-width="0.22">C=C stretch</text>
<text x="34.3" y="407.8" font-size="6.9" text-anchor="start" fill="#1e1e1e" stroke="#1e1e1e" stroke-width="0.22">C-O telescoping</text>
<text x="117" y="399.2" font-size="6.9" text-anchor="start" fill="#1e1e1e" stroke="#1e1e1e" stroke-width="0.22">3235</text>
<text x="137" y="397.6" font-size="6.9" text-anchor="start" fill="#1e1e1e" stroke="#1e1e1e" stroke-width="0.22">3656</text>
<text x="117.5" y="407.8" font-size="6.9" text-anchor="start" fill="#1e1e1e" stroke="#1e1e1e" stroke-width="0.22">N-H, O-H stretch</text>
<line x1="135.4" y1="398" x2="131.6" y2="392.6" stroke="#111" stroke-width="0.6"/>
<polygon points="131.6,392.6 133.3,393.6 132,394.6" fill="#111"/>
<line x1="138.8" y1="298" x2="152.8" y2="298" stroke="#4cc05e" stroke-width="1.5"/>
<text x="156.1" y="300.5" font-size="7" text-anchor="start" fill="#1e1e1e" stroke="#1e1e1e" stroke-width="0.22">ICG</text>
<line x1="138.8" y1="306.8" x2="152.8" y2="306.8" stroke="#5595d8" stroke-width="1.5"/>
<text x="156.1" y="309.3" font-size="7" text-anchor="start" fill="#1e1e1e" stroke="#1e1e1e" stroke-width="0.22">PBI</text>
<line x1="138.8" y1="315.8" x2="152.8" y2="315.8" stroke="#8460c0" stroke-width="1.5"/>
<text x="156.1" y="318.3" font-size="7" text-anchor="start" fill="#1e1e1e" stroke="#1e1e1e" stroke-width="0.22">FPBI</text>
<text x="192.8" y="289.4" font-size="12" text-anchor="start" fill="#111" stroke="#111" stroke-width="0.22">j</text>
<polyline points="205.6,401.5 205.8,400.6 206,399.8 206.2,399.1 206.4,398.6 206.6,398.3 206.8,398.3 207,398.5 207.2,399 207.4,399.6 207.7,400.4 207.9,401.3 208.1,402.2 208.3,403.1 208.5,404 208.7,404.7 208.9,405.3 209.1,405.8 209.3,406.3 209.5,406.6 209.7,406.8 209.9,407 210.1,407.1 210.3,407.2 210.5,407.2 210.7,407.3 210.9,407.3 211.1,407.3 211.4,407.3 211.6,407.3 211.8,407.3 212,407.2 212.2,407.1 212.4,407 212.6,406.6 212.8,406.1 213,405.1 213.2,403.6 213.4,401.2 213.6,397.7 213.8,392.7 214,386.1 214.2,377.7 214.4,367.6 214.6,356 214.8,343.7 215.1,331.4 215.3,320.4 215.5,311.5 215.7,305.8 215.9,304 216.1,306.2 216.3,312.2 216.5,321.3 216.7,332.5 216.9,344.8 217.1,357.1 217.3,368.5 217.5,378.5 217.7,386.7 217.9,393.1 218.1,397.8 218.3,401 218.5,403.1 218.8,404.2 219,404.6 219.2,404.6 219.4,404.2 219.6,403.5 219.8,402.9 220,402.2 220.2,401.7 220.4,401.3 220.6,401.3 220.8,401.5 221,401.9 221.2,402.5 221.4,403.1 221.6,403.8 221.8,404.3 222,404.7 222.2,404.8 222.4,404.6 222.7,404.2 222.9,403.5 223.1,402.6 223.3,401.4 223.5,399.9 223.7,398.3 223.9,396.6 224.1,394.8 224.3,393.1 224.5,391.5 224.7,390.2 224.9,389.1 225.1,388.5 225.3,388.3 225.5,388.5 225.7,389.1 225.9,390.2 226.1,391.6 226.4,393.1 226.6,394.9 226.8,396.7 227,398.4 227.2,400 227.4,401.5 227.6,402.8 227.8,403.9 228,404.8 228.2,405.5 228.4,406.1 228.6,406.5 228.8,406.8 229,407 229.2,407.2 229.4,407.3 229.6,407.3 229.8,407.4 230.1,407.4 230.3,407.4 230.5,407.4 230.7,407.4 230.9,407.4 231.1,407.4 231.3,407.4 231.5,407.4 231.7,407.4 231.9,407.4 232.1,407.4 232.3,407.4 232.5,407.5 232.7,407.5 232.9,407.5 233.1,407.5 233.3,407.5 233.5,407.5 233.7,407.5 234,407.5 234.2,407.5 234.4,407.5 234.6,407.5 234.8,407.5 235,407.5 235.2,407.5 235.4,407.5 235.6,407.5 235.8,407.5 236,407.5 236.2,407.5 236.4,407.5 236.6,407.5 236.8,407.5 237,407.5 237.2,407.5 237.4,407.5 237.7,407.5 237.9,407.5 238.1,407.5 238.3,407.5 238.5,407.5 238.7,407.5 238.9,407.5 239.1,407.5 239.3,407.5 239.5,407.5 239.7,407.5 239.9,407.5 240.1,407.5 240.3,407.5 240.5,407.5 240.7,407.4 240.9,407.4 241.1,407.4 241.4,407.4 241.6,407.3 241.8,407.3 242,407.2 242.2,407.2 242.4,407.1 242.6,407 242.8,406.9 243,406.8 243.2,406.6 243.4,406.5 243.6,406.4 243.8,406.2 244,406.1 244.2,405.9 244.4,405.8 244.6,405.7 244.8,405.6 245.1,405.5 245.3,405.5 245.5,405.5 245.7,405.5 245.9,405.6 246.1,405.6 246.3,405.7 246.5,405.9 246.7,406 246.9,406.1 247.1,406.3 247.3,406.4 247.5,406.6 247.7,406.7 247.9,406.8 248.1,406.9 248.3,407 248.5,407.1 248.7,407.2 249,407.3 249.2,407.3 249.4,407.4 249.6,407.4 249.8,407.4 250,407.5 250.2,407.5 250.4,407.5 250.6,407.5 250.8,407.5 251,407.5 251.2,407.5 251.4,407.5 251.6,407.5 251.8,407.5 252,407.5 252.2,407.5 252.4,407.5 252.7,407.5 252.9,407.5 253.1,407.5 253.3,407.5 253.5,407.5 253.7,407.5 253.9,407.4 254.1,407.4 254.3,407.4 254.5,407.3 254.7,407.3 254.9,407.2 255.1,407.2 255.3,407.1 255.5,407 255.7,406.9 255.9,406.7 256.1,406.6 256.4,406.4 256.6,406.3 256.8,406.1 257,406 257.2,405.8 257.4,405.6 257.6,405.5 257.8,405.4 258,405.2 258.2,405.1 258.4,405.1 258.6,405 258.8,405 259,405 259.2,405.1 259.4,405.1 259.6,405.2 259.8,405.3 260.1,405.5 260.3,405.6 260.5,405.8 260.7,405.9 260.9,406.1 261.1,406.3 261.3,406.4 261.5,406.6 261.7,406.7 261.9,406.9 262.1,407 262.3,407.1 262.5,407.2 262.7,407.2 262.9,407.3 263.1,407.4 263.3,407.4 263.5,407.4 263.7,407.5 264,407.5 264.2,407.5 264.4,407.5 264.6,407.5 264.8,407.5 265,407.6 265.2,407.6 265.4,407.6 265.6,407.6 265.8,407.5 266,407.5 266.2,407.5 266.4,407.5 266.6,407.5 266.8,407.4 267,407.3 267.2,407.3 267.4,407.1 267.7,406.9 267.9,406.7 268.1,406.4 268.3,406 268.5,405.6 268.7,405 268.9,404.3 269.1,403.5 269.3,402.5 269.5,401.4 269.7,400.2 269.9,398.8 270.1,397.3 270.3,395.8 270.5,394.2 270.7,392.7 270.9,391.1 271.1,389.7 271.4,388.4 271.6,387.4 271.8,386.5 272,386 272.2,385.7 272.4,385.8 272.6,386.1 272.8,386.8 273,387.7 273.2,388.8 273.4,390.2 273.6,391.6 273.8,393.2 274,394.8 274.2,396.3 274.4,397.8 274.6,399.3 274.8,400.6 275,401.8 275.3,402.8 275.5,403.8 275.7,404.6 275.9,405.2 276.1,405.8 276.3,406.2 276.5,406.5 276.7,406.8 276.9,407 277.1,407.2 277.3,407.3 277.5,407.4 277.7,407.5 277.9,407.5 278.1,407.5 278.3,407.5 278.5,407.6 278.7,407.6 279,407.6 279.2,407.6 279.4,407.5 279.6,407.5 279.8,407.5 280,407.5 280.2,407.4 280.4,407.4 280.6,407.4 280.8,407.3 281,407.2 281.2,407.1 281.4,407.1 281.6,407 281.8,406.8 282,406.7 282.2,406.6 282.4,406.5 282.7,406.3 282.9,406.2 283.1,406.1 283.3,406 283.5,405.9 283.7,405.8 283.9,405.7 284.1,405.6 284.3,405.6 284.5,405.6 284.7,405.6 284.9,405.6 285.1,405.7 285.3,405.7 285.5,405.8 285.7,405.9 285.9,406 286.1,406.1 286.4,406.2 286.6,406.3 286.8,406.4 287,406.5 287.2,406.5 287.4,406.6 287.6,406.6 287.8,406.7 288,406.7 288.2,406.7 288.4,406.7 288.6,406.7 288.8,406.7 289,406.8 289.2,406.8 289.4,406.8 289.6,406.9 289.8,406.9 290,407 290.3,407 290.5,407.1 290.7,407.1 290.9,407.2 291.1,407.2 291.3,407.2 291.5,407.2 291.7,407.2 291.9,407.1 292.1,407.1 292.3,407 292.5,406.9 292.7,406.8 292.9,406.7 293.1,406.6 293.3,406.5 293.5,406.4 293.7,406.3 294,406.3 294.2,406.2 294.4,406.2 294.6,406.2 294.8,406.2 295,406.2 295.2,406.3 295.4,406.3 295.6,406.4 295.8,406.4 296,406.5 296.2,406.5 296.4,406.6 296.6,406.6 296.8,406.6 297,406.6 297.2,406.5 297.4,406.5 297.7,406.4 297.9,406.4 298.1,406.3 298.3,406.3 298.5,406.2 298.7,406.2 298.9,406.2 299.1,406.2 299.3,406.2 299.5,406.2 299.7,406.2 299.9,406.3 300.1,406.4 300.3,406.4 300.5,406.5 300.7,406.6 300.9,406.7 301.1,406.8 301.4,406.8 301.6,406.9 301.8,407 302,407 302.2,407.1 302.4,407.1 302.6,407.1 302.8,407.1 303,407.2 303.2,407.2 303.4,407.2 303.6,407.2 303.8,407.2 304,407.2 304.2,407.2 304.4,407.2 304.6,407.2 304.8,407.2 305,407.1 305.3,407.2 305.5,407.2 305.7,407.2 305.9,407.2 306.1,407.2 306.3,407.2 306.5,407.2 306.7,407.2 306.9,407.2 307.1,407.3 307.3,407.3 307.5,407.3 307.7,407.3 307.9,407.3 308.1,407.4 308.3,407.4 308.5,407.4 308.7,407.4 309,407.4 309.2,407.5 309.4,407.5 309.6,407.5 309.8,407.5 310,407.5 310.2,407.5 310.4,407.6 310.6,407.6 310.8,407.6 311,407.6 311.2,407.6 311.4,407.6 311.6,407.6 311.8,407.6 312,407.6 312.2,407.6 312.4,407.7 312.7,407.7 312.9,407.7 313.1,407.7 313.3,407.7 313.5,407.7 313.7,407.7 313.9,407.7 314.1,407.7 314.3,407.7 314.5,407.7 314.7,407.7 314.9,407.7 315.1,407.7 315.3,407.7 315.5,407.7 315.7,407.7 315.9,407.7 316.1,407.7 316.3,407.7 316.6,407.7 316.8,407.7 317,407.7 317.2,407.7 317.4,407.7 317.6,407.7 317.8,407.7 318,407.7 318.2,407.7 318.4,407.7 318.6,407.7 318.8,407.7 319,407.7 319.2,407.7 319.4,407.7 319.6,407.7 319.8,407.7 320,407.7 320.3,407.7 320.5,407.7 320.7,407.7 320.9,407.7 321.1,407.7 321.3,407.7 321.5,407.7 321.7,407.7 321.9,407.7 322.1,407.7 322.3,407.7 322.5,407.7 322.7,407.7 322.9,407.7 323.1,407.7 323.3,407.7 323.5,407.7 323.7,407.7 324,407.7 324.2,407.7 324.4,407.7 324.6,407.7 324.8,407.7 325,407.8 325.2,407.8 325.4,407.8 325.6,407.8 325.8,407.8 326,407.8 326.2,407.8 326.4,407.8 326.6,407.8 326.8,407.8 327,407.8 327.2,407.8 327.4,407.8 327.7,407.8 327.9,407.8 328.1,407.8 328.3,407.8 328.5,407.8 328.7,407.8 328.9,407.8 329.1,407.8 329.3,407.8 329.5,407.8 329.7,407.8 329.9,407.8 330.1,407.8 330.3,407.8 330.5,407.8 330.7,407.8 330.9,407.8 331.1,407.8 331.3,407.8 331.6,407.8 331.8,407.8 332,407.8 332.2,407.8 332.4,407.8 332.6,407.8 332.8,407.8 333,407.8 333.2,407.8 333.4,407.8 333.6,407.8 333.8,407.8 334,407.8 334.2,407.8 334.4,407.8 334.6,407.8 334.8,407.8 335,407.8 335.3,407.8 335.5,407.8 335.7,407.8 335.9,407.8 336.1,407.8 336.3,407.8 336.5,407.8 336.7,407.8 336.9,407.8 337.1,407.8 337.3,407.8 337.5,407.8 337.7,407.8 337.9,407.8 338.1,407.8 338.3,407.8 338.5,407.8 338.7,407.8 339,407.8 339.2,407.8 339.4,407.8 339.6,407.8 339.8,407.8 340,407.8 340.2,407.8 340.4,407.8 340.6,407.8 340.8,407.8 341,407.8 341.2,407.8 341.4,407.8 341.6,407.8 341.8,407.8 342,407.8 342.2,407.8 342.4,407.8 342.6,407.8 342.9,407.8 343.1,407.8 343.3,407.8 343.5,407.8 343.7,407.8 343.9,407.8 344.1,407.8 344.3,407.8 344.5,407.8 344.7,407.8 344.9,407.8 345.1,407.8 345.3,407.9 345.5,407.9 345.7,407.9 345.9,407.9 346.1,407.9 346.3,407.9 346.6,407.9 346.8,407.9 347,407.9 347.2,407.9 347.4,407.9 347.6,407.9 347.8,407.9 348,407.9 348.2,407.9 348.4,407.9 348.6,407.9 348.8,407.9 349,407.9 349.2,407.9" fill="none" stroke="#6d5ec2" stroke-width="1.2" stroke-linejoin="round" stroke-linecap="round"/>
<rect x="205.5" y="292.8" width="143.9" height="115.8" fill="none" stroke="#3c3c3c" stroke-width="0.9"/>
<line x1="205.6" y1="408.6" x2="205.6" y2="410.8" stroke="#3c3c3c" stroke-width="0.8"/>
<text x="205.6" y="418.2" font-size="6.8" text-anchor="middle" fill="#1e1e1e" stroke="#1e1e1e" stroke-width="0.22">0.0</text>
<line x1="224.8" y1="408.6" x2="224.8" y2="410.8" stroke="#3c3c3c" stroke-width="0.8"/>
<text x="224.8" y="418.2" font-size="6.8" text-anchor="middle" fill="#1e1e1e" stroke="#1e1e1e" stroke-width="0.22">0.5</text>
<line x1="243.9" y1="408.6" x2="243.9" y2="410.8" stroke="#3c3c3c" stroke-width="0.8"/>
<text x="243.9" y="418.2" font-size="6.8" text-anchor="middle" fill="#1e1e1e" stroke="#1e1e1e" stroke-width="0.22">1.0</text>
<line x1="263.1" y1="408.6" x2="263.1" y2="410.8" stroke="#3c3c3c" stroke-width="0.8"/>
<text x="263.1" y="418.2" font-size="6.8" text-anchor="middle" fill="#1e1e1e" stroke="#1e1e1e" stroke-width="0.22">1.5</text>
<line x1="282.2" y1="408.6" x2="282.2" y2="410.8" stroke="#3c3c3c" stroke-width="0.8"/>
<text x="282.2" y="418.2" font-size="6.8" text-anchor="middle" fill="#1e1e1e" stroke="#1e1e1e" stroke-width="0.22">2.0</text>
<line x1="301.4" y1="408.6" x2="301.4" y2="410.8" stroke="#3c3c3c" stroke-width="0.8"/>
<text x="301.4" y="418.2" font-size="6.8" text-anchor="middle" fill="#1e1e1e" stroke="#1e1e1e" stroke-width="0.22">2.5</text>
<line x1="320.5" y1="408.6" x2="320.5" y2="410.8" stroke="#3c3c3c" stroke-width="0.8"/>
<text x="320.5" y="418.2" font-size="6.8" text-anchor="middle" fill="#1e1e1e" stroke="#1e1e1e" stroke-width="0.22">3.0</text>
<line x1="339.6" y1="408.6" x2="339.6" y2="410.8" stroke="#3c3c3c" stroke-width="0.8"/>
<text x="339.6" y="418.2" font-size="6.8" text-anchor="middle" fill="#1e1e1e" stroke="#1e1e1e" stroke-width="0.22">3.5</text>
<line x1="203.3" y1="408.6" x2="205.5" y2="408.6" stroke="#3c3c3c" stroke-width="0.8"/>
<text x="201.5" y="411" font-size="6.8" text-anchor="end" fill="#1e1e1e" stroke="#1e1e1e" stroke-width="0.22">0</text>
<line x1="203.3" y1="378.2" x2="205.5" y2="378.2" stroke="#3c3c3c" stroke-width="0.8"/>
<text x="201.5" y="380.6" font-size="6.8" text-anchor="end" fill="#1e1e1e" stroke="#1e1e1e" stroke-width="0.22">5000</text>
<line x1="203.3" y1="347.8" x2="205.5" y2="347.8" stroke="#3c3c3c" stroke-width="0.8"/>
<text x="201.5" y="350.2" font-size="6.8" text-anchor="end" fill="#1e1e1e" stroke="#1e1e1e" stroke-width="0.22">10000</text>
<line x1="203.3" y1="317.4" x2="205.5" y2="317.4" stroke="#3c3c3c" stroke-width="0.8"/>
<text x="201.5" y="319.8" font-size="6.8" text-anchor="end" fill="#1e1e1e" stroke="#1e1e1e" stroke-width="0.22">15000</text>
<text x="179.8" y="350.2" font-size="7.1" text-anchor="middle" fill="#1e1e1e" stroke="#1e1e1e" stroke-width="0.22" transform="rotate(-90 179.8 350.2)">Cps/eV</text>
<text x="276.8" y="426.2" font-size="7.1" text-anchor="middle" fill="#1e1e1e" stroke="#1e1e1e" stroke-width="0.22">Enegy (KeV)</text>
<text x="216" y="299.6" font-size="7" text-anchor="middle" fill="#1e1e1e" stroke="#1e1e1e" stroke-width="0.22">C</text>
<text x="225.2" y="386" font-size="7" text-anchor="middle" fill="#1e1e1e" stroke="#1e1e1e" stroke-width="0.22">O</text>
<text x="209.4" y="396.8" font-size="7" text-anchor="middle" fill="#1e1e1e" stroke="#1e1e1e" stroke-width="0.22">Cl</text>
<text x="259.1" y="402.3" font-size="7" text-anchor="middle" fill="#1e1e1e" stroke="#1e1e1e" stroke-width="0.22">S</text>
<text x="272.5" y="383" font-size="7" text-anchor="middle" fill="#1e1e1e" stroke="#1e1e1e" stroke-width="0.22">Bi</text>
<text x="285.4" y="403" font-size="7" text-anchor="middle" fill="#1e1e1e" stroke="#1e1e1e" stroke-width="0.22">Se</text>
<line x1="313.8" y1="298.8" x2="327.6" y2="298.8" stroke="#7c6ec8" stroke-width="1.5"/>
<text x="331.2" y="301.3" font-size="7" text-anchor="start" fill="#1e1e1e" stroke="#1e1e1e" stroke-width="0.22">FPBI</text>
<text x="356.9" y="289.2" font-size="11" text-anchor="start" fill="#111" stroke="#111" stroke-width="0.22">k</text>
<polyline points="369.5,398 369.9,398 370.4,398.1 370.8,398.1 371.3,398.1 371.7,398.1 372.1,398.2 372.6,398.2 373,398.2 373.5,398.3 373.9,398.3 374.3,398.3 374.8,398.3 375.2,398.4 375.6,398.4 376.1,398.4 376.5,398.5 377,398.5 377.4,398.5 377.8,398.6 378.3,398.6 378.7,398.6 379.2,398.6 379.6,398.7 380,398.7 380.5,398.7 380.9,398.7 381.4,398.7 381.8,398.7 382.2,398.7 382.7,398.7 383.1,398.7 383.5,398.7 384,398.7 384.4,398.7 384.9,398.7 385.3,398.7 385.7,398.7 386.2,398.7 386.6,398.7 387.1,398.7 387.5,398.8 387.9,398.9 388.4,399 388.8,399.1 389.3,399.2 389.7,399.3 390.1,399.4 390.6,399.5 391,399.6 391.5,399.6 391.9,399.7 392.3,399.8 392.8,399.8 393.2,399.9 393.6,399.9 394.1,400 394.5,400 395,400 395.4,400 395.8,400 396.3,399.9 396.7,399.8 397.2,399.7 397.6,399.6 398,399.5 398.5,399.3 398.9,399.1 399.4,398.9 399.8,398.6 400.2,398.2 400.7,397.8 401.1,397.4 401.6,396.9 402,396.4 402.4,395.9 402.9,395.2 403.3,394.5 403.7,393.7 404.2,392.9 404.6,392 405.1,391.1 405.5,390.2 405.9,389.2 406.4,388.1 406.8,386.9 407.3,385.7 407.7,384.4 408.1,383.1 408.6,381.6 409,380.1 409.5,378.4 409.9,376.6 410.3,374.7 410.8,372.7 411.2,370.6 411.6,368.5 412.1,366.2 412.5,363.8 413,361.2 413.4,358.6 413.8,355.9 414.3,353.1 414.7,350.3 415.2,347.6 415.6,344.9 416,342 416.5,339.1 416.9,336.2 417.4,333.4 417.8,330.7 418.2,328.2 418.7,325.8 419.1,323.6 419.6,321.3 420,319.1 420.4,317.1 420.9,315.2 421.3,313.6 421.7,312.2 422.2,311 422.6,309.9 423.1,308.9 423.5,308 423.9,307.2 424.4,306.6 424.8,306.2 425.3,305.8 425.7,305.4 426.1,305.1 426.6,304.9 427,304.8 427.5,304.9 427.9,305.2 428.3,305.6 428.8,306.1 429.2,306.6 429.6,307.2 430.1,307.9 430.5,308.8 431,309.8 431.4,310.9 431.8,312.2 432.3,313.5 432.7,314.8 433.2,316.2 433.6,317.8 434,319.4 434.5,321.3 434.9,323.1 435.4,325.1 435.8,327 436.2,328.9 436.7,330.9 437.1,332.9 437.6,334.9 438,337 438.4,339 438.9,341.1 439.3,343 439.7,345 440.2,346.9 440.6,348.7 441.1,350.6 441.5,352.4 441.9,354.2 442.4,355.9 442.8,357.5 443.3,359 443.7,360.5 444.1,362 444.6,363.4 445,364.8 445.5,366.2 445.9,367.5 446.3,368.7 446.8,369.9 447.2,371.1 447.7,372.2 448.1,373.2 448.5,374.2 449,375.2 449.4,376.1 449.8,377 450.3,377.9 450.7,378.8 451.2,379.6 451.6,380.4 452,381.1 452.5,381.9 452.9,382.6 453.4,383.3 453.8,384 454.2,384.7 454.7,385.3 455.1,385.9 455.6,386.5 456,387.1 456.4,387.6 456.9,388.1 457.3,388.6 457.7,389 458.2,389.5 458.6,389.9 459.1,390.3 459.5,390.7 459.9,391.1 460.4,391.4 460.8,391.8 461.3,392.1 461.7,392.5 462.1,392.8 462.6,393.1 463,393.4 463.5,393.7 463.9,393.9 464.3,394.2 464.8,394.5 465.2,394.7 465.7,395 466.1,395.2 466.5,395.5 467,395.7 467.4,395.9 467.8,396.1 468.3,396.4 468.7,396.6 469.2,396.8 469.6,397 470,397.2 470.5,397.5 470.9,397.8 471.4,398 471.8,398.3 472.2,398.6 472.7,398.8 473.1,399 473.6,399.1 474,399.2 474.4,399.2 474.9,399.2 475.3,399.3 475.7,399.3 476.2,399.3 476.6,399.3 477.1,399.3 477.5,399.3 477.9,399.3 478.4,399.3 478.8,399.3 479.3,399.3 479.7,399.3 480.1,399.3 480.6,399.3 481,399.2 481.5,399.2 481.9,399.2 482.3,399.2 482.8,399.2 483.2,399.2 483.7,399.2 484.1,399.3 484.5,399.3 485,399.4 485.4,399.5 485.8,399.6 486.3,399.6 486.7,399.7 487.2,399.8 487.6,399.9 488,399.9 488.5,400 488.9,400 489.4,400.1 489.8,400.2 490.2,400.2 490.7,400.3 491.1,400.3 491.6,400.4 492,400.4 492.4,400.5 492.9,400.5 493.3,400.6 493.8,400.6 494.2,400.7 494.6,400.7 495.1,400.8 495.5,400.8 495.9,400.9 496.4,400.9 496.8,401 497.3,401 497.7,401.1 498.1,401.1 498.6,401.1 499,401.2 499.5,401.2 499.9,401.3 500.3,401.3 500.8,401.3" fill="none" stroke="#3cbf50" stroke-width="1.55" stroke-linejoin="round" stroke-linecap="round"/>
<polyline points="369.5,399.3 369.9,399.3 370.4,399.3 370.8,399.3 371.3,399.3 371.7,399.3 372.1,399.3 372.6,399.3 373,399.2 373.5,399.2 373.9,399.2 374.3,399.2 374.8,399.2 375.2,399.2 375.6,399.2 376.1,399.2 376.5,399.1 377,399.1 377.4,399.1 377.8,399.1 378.3,399.1 378.7,399.1 379.2,399.1 379.6,399.1 380,399 380.5,399 380.9,399 381.4,399 381.8,398.9 382.2,398.9 382.7,398.8 383.1,398.7 383.5,398.7 384,398.6 384.4,398.5 384.9,398.4 385.3,398.3 385.7,398.1 386.2,398 386.6,397.8 387.1,397.6 387.5,397.4 387.9,397.2 388.4,397 388.8,396.9 389.3,396.8 389.7,396.7 390.1,396.6 390.6,396.5 391,396.4 391.5,396.3 391.9,396.2 392.3,396 392.8,395.9 393.2,395.8 393.6,395.6 394.1,395.5 394.5,395.3 395,395.2 395.4,395 395.8,394.8 396.3,394.7 396.7,394.5 397.2,394.3 397.6,394.2 398,394 398.5,393.8 398.9,393.6 399.4,393.4 399.8,393.2 400.2,392.9 400.7,392.7 401.1,392.4 401.6,392.1 402,391.8 402.4,391.4 402.9,391.1 403.3,390.7 403.7,390.3 404.2,389.9 404.6,389.4 405.1,388.9 405.5,388.4 405.9,387.9 406.4,387.4 406.8,386.8 407.3,386.2 407.7,385.5 408.1,384.8 408.6,384.1 409,383.3 409.5,382.5 409.9,381.7 410.3,380.8 410.8,379.9 411.2,378.9 411.6,377.8 412.1,376.6 412.5,375.4 413,374.2 413.4,372.9 413.8,371.6 414.3,370.3 414.7,368.9 415.2,367.6 415.6,366.1 416,364.7 416.5,363.2 416.9,361.7 417.4,360.1 417.8,358.6 418.2,357 418.7,355.3 419.1,353.6 419.6,351.9 420,350.2 420.4,348.5 420.9,346.8 421.3,345 421.7,343.2 422.2,341.3 422.6,339.5 423.1,337.7 423.5,336.1 423.9,334.5 424.4,333.1 424.8,331.7 425.3,330.4 425.7,329.2 426.1,328 426.6,327.1 427,326.3 427.5,325.5 427.9,324.8 428.3,324.1 428.8,323.7 429.2,323.5 429.6,323.6 430.1,323.9 430.5,324.4 431,325 431.4,325.7 431.8,326.4 432.3,327.4 432.7,328.8 433.2,330.4 433.6,332.1 434,333.7 434.5,335.3 434.9,337 435.4,338.8 435.8,340.5 436.2,342.2 436.7,343.9 437.1,345.6 437.6,347.3 438,349 438.4,350.6 438.9,352.3 439.3,353.9 439.7,355.5 440.2,357 440.6,358.6 441.1,360.1 441.5,361.6 441.9,363.1 442.4,364.5 442.8,365.9 443.3,367.1 443.7,368.4 444.1,369.6 444.6,370.8 445,371.9 445.5,373 445.9,374.1 446.3,375.1 446.8,376.1 447.2,377.1 447.7,378 448.1,378.9 448.5,379.8 449,380.6 449.4,381.4 449.8,382.2 450.3,383 450.7,383.7 451.2,384.4 451.6,385.1 452,385.7 452.5,386.3 452.9,386.9 453.4,387.5 453.8,388.1 454.2,388.6 454.7,389.1 455.1,389.6 455.6,390.1 456,390.5 456.4,390.9 456.9,391.2 457.3,391.6 457.7,391.9 458.2,392.2 458.6,392.5 459.1,392.8 459.5,393 459.9,393.3 460.4,393.5 460.8,393.8 461.3,394 461.7,394.2 462.1,394.4 462.6,394.6 463,394.8 463.5,395 463.9,395.2 464.3,395.4 464.8,395.5 465.2,395.7 465.7,395.9 466.1,396 466.5,396.2 467,396.3 467.4,396.4 467.8,396.6 468.3,396.7 468.7,396.8 469.2,396.9 469.6,397 470,397.1 470.5,397.2 470.9,397.3 471.4,397.4 471.8,397.5 472.2,397.6 472.7,397.7 473.1,397.8 473.6,397.8 474,397.9 474.4,398 474.9,398 475.3,398 475.7,398 476.2,398.1 476.6,398.1 477.1,398.1 477.5,398.1 477.9,398.1 478.4,398.1 478.8,398.1 479.3,398.1 479.7,398.1 480.1,398.2 480.6,398.2 481,398.2 481.5,398.2 481.9,398.3 482.3,398.3 482.8,398.4 483.2,398.5 483.7,398.6 484.1,398.6 484.5,398.7 485,398.8 485.4,398.9 485.8,399 486.3,399.1 486.7,399.2 487.2,399.3 487.6,399.4 488,399.5 488.5,399.6 488.9,399.7 489.4,399.8 489.8,399.9 490.2,399.9 490.7,400 491.1,400.1 491.6,400.2 492,400.2 492.4,400.3 492.9,400.4 493.3,400.4 493.8,400.5 494.2,400.5 494.6,400.6 495.1,400.7 495.5,400.7 495.9,400.8 496.4,400.8 496.8,400.9 497.3,400.9 497.7,401 498.1,401 498.6,401.1 499,401.1 499.5,401.2 499.9,401.2 500.3,401.3 500.8,401.3" fill="none" stroke="#4737a8" stroke-width="1.55" stroke-linejoin="round" stroke-linecap="round"/>
<rect x="369.5" y="293.2" width="144.9" height="116.1" fill="none" stroke="#3c3c3c" stroke-width="0.9"/>
<line x1="369.5" y1="409.3" x2="369.5" y2="411.5" stroke="#3c3c3c" stroke-width="0.8"/>
<text x="369.5" y="419" font-size="6.8" text-anchor="middle" fill="#1e1e1e" stroke="#1e1e1e" stroke-width="0.22">780</text>
<line x1="391.8" y1="409.3" x2="391.8" y2="411.5" stroke="#3c3c3c" stroke-width="0.8"/>
<text x="391.8" y="419" font-size="6.8" text-anchor="middle" fill="#1e1e1e" stroke="#1e1e1e" stroke-width="0.22">800</text>
<line x1="414" y1="409.3" x2="414" y2="411.5" stroke="#3c3c3c" stroke-width="0.8"/>
<text x="414" y="419" font-size="6.8" text-anchor="middle" fill="#1e1e1e" stroke="#1e1e1e" stroke-width="0.22">820</text>
<line x1="436.2" y1="409.3" x2="436.2" y2="411.5" stroke="#3c3c3c" stroke-width="0.8"/>
<text x="436.2" y="419" font-size="6.8" text-anchor="middle" fill="#1e1e1e" stroke="#1e1e1e" stroke-width="0.22">840</text>
<line x1="458.5" y1="409.3" x2="458.5" y2="411.5" stroke="#3c3c3c" stroke-width="0.8"/>
<text x="458.5" y="419" font-size="6.8" text-anchor="middle" fill="#1e1e1e" stroke="#1e1e1e" stroke-width="0.22">860</text>
<line x1="480.8" y1="409.3" x2="480.8" y2="411.5" stroke="#3c3c3c" stroke-width="0.8"/>
<text x="480.8" y="419" font-size="6.8" text-anchor="middle" fill="#1e1e1e" stroke="#1e1e1e" stroke-width="0.22">880</text>
<line x1="503" y1="409.3" x2="503" y2="411.5" stroke="#3c3c3c" stroke-width="0.8"/>
<text x="503" y="419" font-size="6.8" text-anchor="middle" fill="#1e1e1e" stroke="#1e1e1e" stroke-width="0.22">900</text>
<line x1="367.3" y1="409.3" x2="369.5" y2="409.3" stroke="#3c3c3c" stroke-width="0.8"/>
<text x="366" y="411.7" font-size="6.8" text-anchor="end" fill="#1e1e1e" stroke="#1e1e1e" stroke-width="0.22">0</text>
<line x1="367.3" y1="392.7" x2="369.5" y2="392.7" stroke="#3c3c3c" stroke-width="0.8"/>
<text x="366" y="395.1" font-size="6.8" text-anchor="end" fill="#1e1e1e" stroke="#1e1e1e" stroke-width="0.22">5</text>
<line x1="367.3" y1="376.1" x2="369.5" y2="376.1" stroke="#3c3c3c" stroke-width="0.8"/>
<text x="366" y="378.5" font-size="6.8" text-anchor="end" fill="#1e1e1e" stroke="#1e1e1e" stroke-width="0.22">10</text>
<line x1="367.3" y1="359.5" x2="369.5" y2="359.5" stroke="#3c3c3c" stroke-width="0.8"/>
<text x="366" y="361.9" font-size="6.8" text-anchor="end" fill="#1e1e1e" stroke="#1e1e1e" stroke-width="0.22">15</text>
<line x1="367.3" y1="342.9" x2="369.5" y2="342.9" stroke="#3c3c3c" stroke-width="0.8"/>
<text x="366" y="345.3" font-size="6.8" text-anchor="end" fill="#1e1e1e" stroke="#1e1e1e" stroke-width="0.22">20</text>
<line x1="367.3" y1="326.4" x2="369.5" y2="326.4" stroke="#3c3c3c" stroke-width="0.8"/>
<text x="366" y="328.8" font-size="6.8" text-anchor="end" fill="#1e1e1e" stroke="#1e1e1e" stroke-width="0.22">25</text>
<line x1="367.3" y1="309.8" x2="369.5" y2="309.8" stroke="#3c3c3c" stroke-width="0.8"/>
<text x="366" y="312.2" font-size="6.8" text-anchor="end" fill="#1e1e1e" stroke="#1e1e1e" stroke-width="0.22">30</text>
<line x1="367.3" y1="293.2" x2="369.5" y2="293.2" stroke="#3c3c3c" stroke-width="0.8"/>
<text x="366" y="295.6" font-size="6.8" text-anchor="end" fill="#1e1e1e" stroke="#1e1e1e" stroke-width="0.22">35</text>
<text x="356.6" y="346.5" font-size="7.1" text-anchor="middle" fill="#1e1e1e" stroke="#1e1e1e" stroke-width="0.22" transform="rotate(-90 356.6 346.5)">Fluorescence intensity (a.u.)</text>
<text x="442" y="426.1" font-size="7.1" text-anchor="middle" fill="#1e1e1e" stroke="#1e1e1e" stroke-width="0.22">Wavelength (nm)</text>
<line x1="477.4" y1="299.5" x2="492.4" y2="299.5" stroke="#3cbf50" stroke-width="1.6"/>
<text x="495.5" y="302" font-size="7" text-anchor="start" fill="#1e1e1e" stroke="#1e1e1e" stroke-width="0.22">ICG</text>
<line x1="477.4" y1="308.3" x2="492.4" y2="308.3" stroke="#4737a8" stroke-width="1.6"/>
<text x="495.5" y="310.8" font-size="7" text-anchor="start" fill="#1e1e1e" stroke="#1e1e1e" stroke-width="0.22">FPBI</text>
<text x="524.3" y="289.1" font-size="12" text-anchor="start" fill="#111" stroke="#111" stroke-width="0.35">l</text>
<defs><linearGradient id="vial" x1="0" y1="0" x2="0" y2="1"><stop offset="0" stop-color="#dedede"/><stop offset="0.35" stop-color="#efefef"/><stop offset="0.75" stop-color="#e6e6e6"/><stop offset="1" stop-color="#c4c4c4"/></linearGradient><linearGradient id="vial2" x1="0" y1="0" x2="0" y2="1"><stop offset="0" stop-color="#aeaeae"/><stop offset="0.4" stop-color="#d2d2d2"/><stop offset="0.8" stop-color="#c4c4c4"/><stop offset="1" stop-color="#9c9c9c"/></linearGradient><linearGradient id="vial3" x1="0" y1="0" x2="0" y2="1"><stop offset="0" stop-color="#8e8e8e"/><stop offset="0.4" stop-color="#aeaeae"/><stop offset="0.8" stop-color="#989898"/><stop offset="1" stop-color="#747474"/></linearGradient></defs>
<rect x="542" y="311.9" width="8.2" height="97.4" fill="#3cb64c" stroke="#2a8f38" stroke-width="0.4"/>
<rect x="550.1" y="312.3" width="8.2" height="97" fill="#634fab" stroke="#4a3a8c" stroke-width="0.4"/>
<rect x="543.9" y="385.5" width="5.7" height="23.8" fill="url(#vial)" stroke="none" stroke-width="0.8"/>
<rect x="550.8" y="385.5" width="6.6" height="23.8" fill="url(#vial)" stroke="none" stroke-width="0.8"/>
<rect x="562.4" y="313.4" width="8.2" height="95.9" fill="#3cb64c" stroke="#2a8f38" stroke-width="0.4"/>
<rect x="570.5" y="313" width="8.2" height="96.3" fill="#634fab" stroke="#4a3a8c" stroke-width="0.4"/>
<rect x="564.3" y="385.5" width="5.7" height="23.8" fill="url(#vial)" stroke="none" stroke-width="0.8"/>
<rect x="571.2" y="385.5" width="6.6" height="23.8" fill="url(#vial)" stroke="none" stroke-width="0.8"/>
<rect x="582.8" y="318" width="8.2" height="91.3" fill="#3cb64c" stroke="#2a8f38" stroke-width="0.4"/>
<rect x="590.9" y="315.3" width="8.2" height="94" fill="#634fab" stroke="#4a3a8c" stroke-width="0.4"/>
<rect x="584.7" y="385.5" width="5.7" height="23.8" fill="url(#vial)" stroke="none" stroke-width="0.8"/>
<rect x="591.6" y="385.5" width="6.6" height="23.8" fill="url(#vial)" stroke="none" stroke-width="0.8"/>
<rect x="603.2" y="321.9" width="8.2" height="87.4" fill="#3cb64c" stroke="#2a8f38" stroke-width="0.4"/>
<rect x="611.4" y="317.6" width="8.2" height="91.7" fill="#634fab" stroke="#4a3a8c" stroke-width="0.4"/>
<rect x="605.1" y="385.5" width="5.7" height="23.8" fill="url(#vial)" stroke="none" stroke-width="0.8"/>
<rect x="612.1" y="385.5" width="6.6" height="23.8" fill="url(#vial)" stroke="none" stroke-width="0.8"/>
<rect x="623.6" y="332.2" width="8.2" height="77.1" fill="#3cb64c" stroke="#2a8f38" stroke-width="0.4"/>
<rect x="631.8" y="319.2" width="8.2" height="90.1" fill="#634fab" stroke="#4a3a8c" stroke-width="0.4"/>
<rect x="625.5" y="385.5" width="5.7" height="23.8" fill="url(#vial2)" stroke="none" stroke-width="0.8"/>
<rect x="632.5" y="385.5" width="6.6" height="23.8" fill="url(#vial)" stroke="none" stroke-width="0.8"/>
<rect x="644.1" y="340.3" width="8.2" height="69" fill="#3cb64c" stroke="#2a8f38" stroke-width="0.4"/>
<rect x="652.2" y="324.9" width="8.2" height="84.4" fill="#634fab" stroke="#4a3a8c" stroke-width="0.4"/>
<rect x="646" y="385.5" width="5.7" height="23.8" fill="url(#vial2)" stroke="none" stroke-width="0.8"/>
<rect x="652.9" y="385.5" width="6.6" height="23.8" fill="url(#vial)" stroke="none" stroke-width="0.8"/>
<rect x="664.5" y="352.2" width="8.2" height="57.1" fill="#3cb64c" stroke="#2a8f38" stroke-width="0.4"/>
<rect x="672.6" y="329.5" width="8.2" height="79.8" fill="#634fab" stroke="#4a3a8c" stroke-width="0.4"/>
<rect x="666.4" y="385.5" width="5.7" height="23.8" fill="url(#vial3)" stroke="none" stroke-width="0.8"/>
<rect x="673.3" y="385.5" width="6.6" height="23.8" fill="url(#vial)" stroke="none" stroke-width="0.8"/>
<rect x="539.3" y="294.6" width="143.6" height="114.8" fill="none" stroke="#3c3c3c" stroke-width="0.9"/>
<line x1="550.1" y1="409.4" x2="550.1" y2="411.6" stroke="#3c3c3c" stroke-width="0.8"/>
<text x="550.1" y="419" font-size="6.8" text-anchor="middle" fill="#1e1e1e" stroke="#1e1e1e" stroke-width="0.22">0</text>
<line x1="570.5" y1="409.4" x2="570.5" y2="411.6" stroke="#3c3c3c" stroke-width="0.8"/>
<text x="570.5" y="419" font-size="6.8" text-anchor="middle" fill="#1e1e1e" stroke="#1e1e1e" stroke-width="0.22">10</text>
<line x1="590.9" y1="409.4" x2="590.9" y2="411.6" stroke="#3c3c3c" stroke-width="0.8"/>
<text x="590.9" y="419" font-size="6.8" text-anchor="middle" fill="#1e1e1e" stroke="#1e1e1e" stroke-width="0.22">20</text>
<line x1="611.4" y1="409.4" x2="611.4" y2="411.6" stroke="#3c3c3c" stroke-width="0.8"/>
<text x="611.4" y="419" font-size="6.8" text-anchor="middle" fill="#1e1e1e" stroke="#1e1e1e" stroke-width="0.22">30</text>
<line x1="631.8" y1="409.4" x2="631.8" y2="411.6" stroke="#3c3c3c" stroke-width="0.8"/>
<text x="631.8" y="419" font-size="6.8" text-anchor="middle" fill="#1e1e1e" stroke="#1e1e1e" stroke-width="0.22">40</text>
<line x1="652.2" y1="409.4" x2="652.2" y2="411.6" stroke="#3c3c3c" stroke-width="0.8"/>
<text x="652.2" y="419" font-size="6.8" text-anchor="middle" fill="#1e1e1e" stroke="#1e1e1e" stroke-width="0.22">50</text>
<line x1="672.6" y1="409.4" x2="672.6" y2="411.6" stroke="#3c3c3c" stroke-width="0.8"/>
<text x="672.6" y="419" font-size="6.8" text-anchor="middle" fill="#1e1e1e" stroke="#1e1e1e" stroke-width="0.22">60</text>
<line x1="537.1" y1="409.3" x2="539.3" y2="409.3" stroke="#3c3c3c" stroke-width="0.8"/>
<text x="535.6" y="411.7" font-size="6.8" text-anchor="end" fill="#1e1e1e" stroke="#1e1e1e" stroke-width="0.22">0</text>
<line x1="537.1" y1="390.1" x2="539.3" y2="390.1" stroke="#3c3c3c" stroke-width="0.8"/>
<text x="535.6" y="392.5" font-size="6.8" text-anchor="end" fill="#1e1e1e" stroke="#1e1e1e" stroke-width="0.22">50</text>
<line x1="537.1" y1="370.9" x2="539.3" y2="370.9" stroke="#3c3c3c" stroke-width="0.8"/>
<text x="535.6" y="373.3" font-size="6.8" text-anchor="end" fill="#1e1e1e" stroke="#1e1e1e" stroke-width="0.22">100</text>
<line x1="537.1" y1="351.8" x2="539.3" y2="351.8" stroke="#3c3c3c" stroke-width="0.8"/>
<text x="535.6" y="354.2" font-size="6.8" text-anchor="end" fill="#1e1e1e" stroke="#1e1e1e" stroke-width="0.22">150</text>
<line x1="537.1" y1="332.6" x2="539.3" y2="332.6" stroke="#3c3c3c" stroke-width="0.8"/>
<text x="535.6" y="335" font-size="6.8" text-anchor="end" fill="#1e1e1e" stroke="#1e1e1e" stroke-width="0.22">200</text>
<line x1="537.1" y1="313.4" x2="539.3" y2="313.4" stroke="#3c3c3c" stroke-width="0.8"/>
<text x="535.6" y="315.8" font-size="6.8" text-anchor="end" fill="#1e1e1e" stroke="#1e1e1e" stroke-width="0.22">250</text>
<line x1="537.1" y1="294.2" x2="539.3" y2="294.2" stroke="#3c3c3c" stroke-width="0.8"/>
<text x="535.6" y="296.6" font-size="6.8" text-anchor="end" fill="#1e1e1e" stroke="#1e1e1e" stroke-width="0.22">300</text>
<text x="522.7" y="351.8" font-size="7.1" text-anchor="middle" fill="#1e1e1e" stroke="#1e1e1e" stroke-width="0.22" transform="rotate(-90 522.7 351.8)">Fluorescence intensity (a.u.)</text>
<text x="610" y="425.6" font-size="7.1" text-anchor="middle" fill="#1e1e1e" stroke="#1e1e1e" stroke-width="0.22">Time (min)</text>
<rect x="646.8" y="297.6" width="13.2" height="6.6" fill="#3cb64c" stroke="#2a8f38" stroke-width="0.4"/>
<text x="663.8" y="303.4" font-size="7" text-anchor="start" fill="#1e1e1e" stroke="#1e1e1e" stroke-width="0.22">ICG</text>
<rect x="646.8" y="306.2" width="13.2" height="6.4" fill="#634fab" stroke="#4a3a8c" stroke-width="0.4"/>
<text x="663.8" y="312.1" font-size="7" text-anchor="start" fill="#1e1e1e" stroke="#1e1e1e" stroke-width="0.22">FPBI</text>
</svg>
</body>
</html>
